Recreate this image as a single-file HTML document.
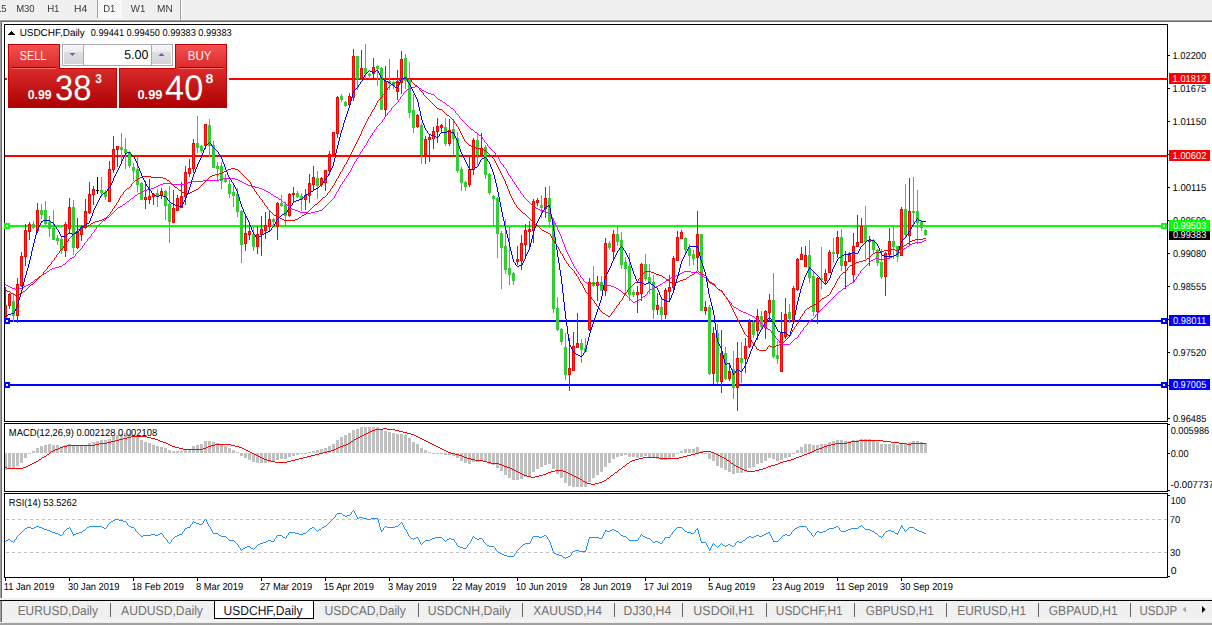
<!DOCTYPE html>
<html><head><meta charset="utf-8"><title>USDCHF,Daily</title>
<style>html,body{margin:0;padding:0;width:1212px;height:625px;overflow:hidden;background:#f0f0f0}
svg text{font-family:'Liberation Sans', sans-serif}</style></head>
<body><svg width="1212" height="625" viewBox="0 0 1212 625" style="position:absolute;left:0;top:0;font-family:'Liberation Sans', sans-serif"><rect x="0" y="0" width="1212" height="625" fill="#f0f0f0" />
<rect x="0" y="19" width="1212" height="1" fill="#f7f7f7" />
<rect x="0" y="20" width="1212" height="1" fill="#a0a0a0" />
<rect x="0" y="21" width="1212" height="1" fill="#696969" />
<rect x="0" y="20" width="1" height="579" fill="#a0a0a0" />
<rect x="1" y="21" width="1" height="578" fill="#696969" />
<rect x="2" y="22" width="1210" height="576" fill="#ffffff" />
<defs><pattern id="chk" width="2" height="2" patternUnits="userSpaceOnUse"><rect width="2" height="2" fill="#f0f0f0"/><rect width="1" height="1" fill="#ffffff"/><rect x="1" y="1" width="1" height="1" fill="#ffffff"/></pattern></defs>
<rect x="97" y="0" width="1" height="18" fill="#a0a0a0" />
<rect x="98" y="0" width="24" height="18" fill="url(#chk)" />
<rect x="180" y="0" width="1" height="20" fill="#a0a0a0" />
<rect x="181" y="0" width="1" height="20" fill="#ffffff" />
<rect x="4" y="24" width="1164" height="1" fill="#000" />
<rect x="4" y="421" width="1164" height="1" fill="#000" />
<rect x="4" y="24" width="1" height="398" fill="#000" />
<rect x="1167" y="24" width="1" height="398" fill="#000" />
<rect x="4" y="423" width="1164" height="1" fill="#000" />
<rect x="4" y="491" width="1164" height="1" fill="#000" />
<rect x="4" y="423" width="1" height="69" fill="#000" />
<rect x="1167" y="423" width="1" height="69" fill="#000" />
<rect x="4" y="493" width="1164" height="1" fill="#000" />
<rect x="4" y="577" width="1164" height="1" fill="#000" />
<rect x="4" y="493" width="1" height="85" fill="#000" />
<rect x="1167" y="493" width="1" height="85" fill="#000" />
<clipPath id="cm"><rect x="5" y="25" width="1162" height="396"/></clipPath>
<g clip-path="url(#cm)" shape-rendering="crispEdges">
<rect x="5" y="78" width="1162" height="2" fill="#ff0000" />
<rect x="5" y="155" width="1162" height="2" fill="#ff0000" />
<rect x="5" y="225" width="1162" height="2" fill="#00ff00" />
<rect x="5" y="320" width="1162" height="2" fill="#0000ff" />
<rect x="5" y="384" width="1162" height="2" fill="#0000ff" />
<rect x="5" y="287" width="1" height="36" fill="#ff0000" />
<rect x="4" y="305" width="3" height="14" fill="#ff0000" />
<rect x="5" y="306" width="1" height="12" fill="#ff3c00" />
<rect x="9" y="293" width="1" height="16" fill="#ff0000" />
<rect x="8" y="294" width="3" height="12" fill="#ff0000" />
<rect x="9" y="295" width="1" height="10" fill="#ff3c00" />
<rect x="13" y="293" width="1" height="29" fill="#32cd32" />
<rect x="12" y="301" width="3" height="15" fill="#32cd32" />
<rect x="17" y="278" width="1" height="45" fill="#ff0000" />
<rect x="16" y="284" width="3" height="32" fill="#ff0000" />
<rect x="17" y="285" width="1" height="30" fill="#ff3c00" />
<rect x="21" y="252" width="1" height="35" fill="#ff0000" />
<rect x="20" y="256" width="3" height="30" fill="#ff0000" />
<rect x="21" y="257" width="1" height="28" fill="#ff3c00" />
<rect x="25" y="224" width="1" height="42" fill="#ff0000" />
<rect x="24" y="230" width="3" height="27" fill="#ff0000" />
<rect x="25" y="231" width="1" height="25" fill="#ff3c00" />
<rect x="29" y="222" width="1" height="18" fill="#ff0000" />
<rect x="28" y="224" width="3" height="8" fill="#ff0000" />
<rect x="29" y="225" width="1" height="6" fill="#ff3c00" />
<rect x="33" y="221" width="1" height="8" fill="#32cd32" />
<rect x="32" y="224" width="3" height="4" fill="#32cd32" />
<rect x="37" y="203" width="1" height="30" fill="#ff0000" />
<rect x="36" y="210" width="3" height="21" fill="#ff0000" />
<rect x="37" y="211" width="1" height="19" fill="#ff3c00" />
<rect x="41" y="204" width="1" height="15" fill="#32cd32" />
<rect x="40" y="210" width="3" height="5" fill="#32cd32" />
<rect x="45" y="201" width="1" height="24" fill="#32cd32" />
<rect x="44" y="210" width="3" height="14" fill="#32cd32" />
<rect x="49" y="216" width="1" height="21" fill="#32cd32" />
<rect x="48" y="222" width="3" height="7" fill="#32cd32" />
<rect x="53" y="210" width="1" height="30" fill="#32cd32" />
<rect x="52" y="228" width="3" height="12" fill="#32cd32" />
<rect x="57" y="235" width="1" height="10" fill="#32cd32" />
<rect x="56" y="238" width="3" height="3" fill="#32cd32" />
<rect x="61" y="237" width="1" height="17" fill="#32cd32" />
<rect x="60" y="239" width="3" height="12" fill="#32cd32" />
<rect x="65" y="222" width="1" height="35" fill="#ff0000" />
<rect x="64" y="224" width="3" height="27" fill="#ff0000" />
<rect x="65" y="225" width="1" height="25" fill="#ff3c00" />
<rect x="69" y="198" width="1" height="36" fill="#ff0000" />
<rect x="68" y="207" width="3" height="22" fill="#ff0000" />
<rect x="69" y="208" width="1" height="20" fill="#ff3c00" />
<rect x="73" y="200" width="1" height="55" fill="#32cd32" />
<rect x="72" y="207" width="3" height="41" fill="#32cd32" />
<rect x="77" y="218" width="1" height="31" fill="#ff0000" />
<rect x="76" y="232" width="3" height="16" fill="#ff0000" />
<rect x="77" y="233" width="1" height="14" fill="#ff3c00" />
<rect x="81" y="225" width="1" height="16" fill="#ff0000" />
<rect x="80" y="227" width="3" height="8" fill="#ff0000" />
<rect x="81" y="228" width="1" height="6" fill="#ff3c00" />
<rect x="85" y="199" width="1" height="30" fill="#ff0000" />
<rect x="84" y="211" width="3" height="17" fill="#ff0000" />
<rect x="85" y="212" width="1" height="15" fill="#ff3c00" />
<rect x="89" y="182" width="1" height="32" fill="#ff0000" />
<rect x="88" y="194" width="3" height="19" fill="#ff0000" />
<rect x="89" y="195" width="1" height="17" fill="#ff3c00" />
<rect x="93" y="186" width="1" height="19" fill="#ff0000" />
<rect x="92" y="189" width="3" height="6" fill="#ff0000" />
<rect x="93" y="190" width="1" height="4" fill="#ff3c00" />
<rect x="97" y="177" width="1" height="17" fill="#000000" />
<rect x="96" y="190" width="3" height="1" fill="#000000" />
<rect x="101" y="177" width="1" height="20" fill="#32cd32" />
<rect x="100" y="190" width="3" height="3" fill="#32cd32" />
<rect x="105" y="190" width="1" height="10" fill="#32cd32" />
<rect x="104" y="192" width="3" height="5" fill="#32cd32" />
<rect x="109" y="161" width="1" height="41" fill="#ff0000" />
<rect x="108" y="169" width="3" height="33" fill="#ff0000" />
<rect x="109" y="170" width="1" height="31" fill="#ff3c00" />
<rect x="113" y="136" width="1" height="37" fill="#ff0000" />
<rect x="112" y="149" width="3" height="21" fill="#ff0000" />
<rect x="113" y="150" width="1" height="19" fill="#ff3c00" />
<rect x="117" y="146" width="1" height="21" fill="#ff0000" />
<rect x="116" y="146" width="3" height="4" fill="#ff0000" />
<rect x="117" y="147" width="1" height="2" fill="#ff3c00" />
<rect x="121" y="133" width="1" height="31" fill="#32cd32" />
<rect x="120" y="147" width="3" height="3" fill="#32cd32" />
<rect x="125" y="138" width="1" height="31" fill="#32cd32" />
<rect x="124" y="149" width="3" height="4" fill="#32cd32" />
<rect x="129" y="151" width="1" height="17" fill="#32cd32" />
<rect x="128" y="152" width="3" height="14" fill="#32cd32" />
<rect x="133" y="163" width="1" height="18" fill="#32cd32" />
<rect x="132" y="167" width="3" height="4" fill="#32cd32" />
<rect x="137" y="156" width="1" height="36" fill="#32cd32" />
<rect x="136" y="169" width="3" height="16" fill="#32cd32" />
<rect x="141" y="182" width="1" height="18" fill="#32cd32" />
<rect x="140" y="183" width="3" height="17" fill="#32cd32" />
<rect x="145" y="181" width="1" height="28" fill="#ff0000" />
<rect x="144" y="197" width="3" height="3" fill="#ff0000" />
<rect x="145" y="198" width="1" height="1" fill="#ff3c00" />
<rect x="149" y="179" width="1" height="25" fill="#ff0000" />
<rect x="148" y="196" width="3" height="4" fill="#ff0000" />
<rect x="149" y="197" width="1" height="2" fill="#ff3c00" />
<rect x="153" y="193" width="1" height="12" fill="#ff0000" />
<rect x="152" y="194" width="3" height="3" fill="#ff0000" />
<rect x="153" y="195" width="1" height="1" fill="#ff3c00" />
<rect x="157" y="189" width="1" height="18" fill="#32cd32" />
<rect x="156" y="193" width="3" height="4" fill="#32cd32" />
<rect x="161" y="188" width="1" height="11" fill="#ff0000" />
<rect x="160" y="191" width="3" height="5" fill="#ff0000" />
<rect x="161" y="192" width="1" height="3" fill="#ff3c00" />
<rect x="165" y="190" width="1" height="30" fill="#32cd32" />
<rect x="164" y="191" width="3" height="15" fill="#32cd32" />
<rect x="169" y="186" width="1" height="57" fill="#32cd32" />
<rect x="168" y="204" width="3" height="18" fill="#32cd32" />
<rect x="173" y="190" width="1" height="33" fill="#ff0000" />
<rect x="172" y="208" width="3" height="15" fill="#ff0000" />
<rect x="173" y="209" width="1" height="13" fill="#ff3c00" />
<rect x="177" y="195" width="1" height="16" fill="#ff0000" />
<rect x="176" y="198" width="3" height="13" fill="#ff0000" />
<rect x="177" y="199" width="1" height="11" fill="#ff3c00" />
<rect x="181" y="182" width="1" height="26" fill="#ff0000" />
<rect x="180" y="196" width="3" height="12" fill="#ff0000" />
<rect x="181" y="197" width="1" height="10" fill="#ff3c00" />
<rect x="185" y="166" width="1" height="39" fill="#ff0000" />
<rect x="184" y="172" width="3" height="25" fill="#ff0000" />
<rect x="185" y="173" width="1" height="23" fill="#ff3c00" />
<rect x="189" y="159" width="1" height="18" fill="#ff0000" />
<rect x="188" y="168" width="3" height="6" fill="#ff0000" />
<rect x="189" y="169" width="1" height="4" fill="#ff3c00" />
<rect x="193" y="139" width="1" height="34" fill="#ff0000" />
<rect x="192" y="143" width="3" height="26" fill="#ff0000" />
<rect x="193" y="144" width="1" height="24" fill="#ff3c00" />
<rect x="197" y="116" width="1" height="37" fill="#32cd32" />
<rect x="196" y="143" width="3" height="5" fill="#32cd32" />
<rect x="201" y="145" width="1" height="8" fill="#32cd32" />
<rect x="200" y="146" width="3" height="5" fill="#32cd32" />
<rect x="205" y="124" width="1" height="25" fill="#ff0000" />
<rect x="204" y="124" width="3" height="22" fill="#ff0000" />
<rect x="205" y="125" width="1" height="20" fill="#ff3c00" />
<rect x="209" y="119" width="1" height="38" fill="#32cd32" />
<rect x="208" y="125" width="3" height="21" fill="#32cd32" />
<rect x="213" y="141" width="1" height="27" fill="#32cd32" />
<rect x="212" y="145" width="3" height="23" fill="#32cd32" />
<rect x="217" y="162" width="1" height="18" fill="#32cd32" />
<rect x="216" y="166" width="3" height="3" fill="#32cd32" />
<rect x="221" y="162" width="1" height="27" fill="#32cd32" />
<rect x="220" y="166" width="3" height="15" fill="#32cd32" />
<rect x="225" y="174" width="1" height="9" fill="#32cd32" />
<rect x="224" y="179" width="3" height="3" fill="#32cd32" />
<rect x="229" y="180" width="1" height="18" fill="#32cd32" />
<rect x="228" y="184" width="3" height="10" fill="#32cd32" />
<rect x="233" y="184" width="1" height="23" fill="#32cd32" />
<rect x="232" y="192" width="3" height="4" fill="#32cd32" />
<rect x="237" y="188" width="1" height="29" fill="#32cd32" />
<rect x="236" y="194" width="3" height="18" fill="#32cd32" />
<rect x="241" y="210" width="1" height="53" fill="#32cd32" />
<rect x="240" y="211" width="3" height="34" fill="#32cd32" />
<rect x="245" y="214" width="1" height="37" fill="#ff0000" />
<rect x="244" y="233" width="3" height="11" fill="#ff0000" />
<rect x="245" y="234" width="1" height="9" fill="#ff3c00" />
<rect x="249" y="225" width="1" height="15" fill="#ff0000" />
<rect x="248" y="231" width="3" height="4" fill="#ff0000" />
<rect x="249" y="232" width="1" height="2" fill="#ff3c00" />
<rect x="253" y="227" width="1" height="24" fill="#32cd32" />
<rect x="252" y="234" width="3" height="13" fill="#32cd32" />
<rect x="257" y="226" width="1" height="28" fill="#ff0000" />
<rect x="256" y="234" width="3" height="13" fill="#ff0000" />
<rect x="257" y="235" width="1" height="11" fill="#ff3c00" />
<rect x="261" y="216" width="1" height="40" fill="#ff0000" />
<rect x="260" y="229" width="3" height="6" fill="#ff0000" />
<rect x="261" y="230" width="1" height="4" fill="#ff3c00" />
<rect x="265" y="212" width="1" height="27" fill="#ff0000" />
<rect x="264" y="225" width="3" height="6" fill="#ff0000" />
<rect x="265" y="226" width="1" height="4" fill="#ff3c00" />
<rect x="269" y="210" width="1" height="21" fill="#ff0000" />
<rect x="268" y="219" width="3" height="8" fill="#ff0000" />
<rect x="269" y="220" width="1" height="6" fill="#ff3c00" />
<rect x="273" y="218" width="1" height="8" fill="#32cd32" />
<rect x="272" y="219" width="3" height="3" fill="#32cd32" />
<rect x="277" y="202" width="1" height="38" fill="#ff0000" />
<rect x="276" y="203" width="3" height="24" fill="#ff0000" />
<rect x="277" y="204" width="1" height="22" fill="#ff3c00" />
<rect x="281" y="195" width="1" height="12" fill="#32cd32" />
<rect x="280" y="203" width="3" height="3" fill="#32cd32" />
<rect x="285" y="202" width="1" height="24" fill="#32cd32" />
<rect x="284" y="204" width="3" height="12" fill="#32cd32" />
<rect x="289" y="193" width="1" height="24" fill="#ff0000" />
<rect x="288" y="194" width="3" height="22" fill="#ff0000" />
<rect x="289" y="195" width="1" height="20" fill="#ff3c00" />
<rect x="293" y="187" width="1" height="16" fill="#ff0000" />
<rect x="292" y="193" width="3" height="2" fill="#ff0000" />
<rect x="297" y="191" width="1" height="7" fill="#32cd32" />
<rect x="296" y="193" width="3" height="4" fill="#32cd32" />
<rect x="301" y="193" width="1" height="18" fill="#32cd32" />
<rect x="300" y="196" width="3" height="4" fill="#32cd32" />
<rect x="305" y="189" width="1" height="21" fill="#ff0000" />
<rect x="304" y="195" width="3" height="5" fill="#ff0000" />
<rect x="305" y="196" width="1" height="3" fill="#ff3c00" />
<rect x="309" y="174" width="1" height="29" fill="#ff0000" />
<rect x="308" y="183" width="3" height="13" fill="#ff0000" />
<rect x="309" y="184" width="1" height="11" fill="#ff3c00" />
<rect x="313" y="166" width="1" height="25" fill="#ff0000" />
<rect x="312" y="177" width="3" height="8" fill="#ff0000" />
<rect x="313" y="178" width="1" height="6" fill="#ff3c00" />
<rect x="317" y="171" width="1" height="28" fill="#32cd32" />
<rect x="316" y="178" width="3" height="8" fill="#32cd32" />
<rect x="321" y="177" width="1" height="10" fill="#ff0000" />
<rect x="320" y="178" width="3" height="7" fill="#ff0000" />
<rect x="321" y="179" width="1" height="5" fill="#ff3c00" />
<rect x="325" y="170" width="1" height="21" fill="#ff0000" />
<rect x="324" y="170" width="3" height="13" fill="#ff0000" />
<rect x="325" y="171" width="1" height="11" fill="#ff3c00" />
<rect x="329" y="151" width="1" height="24" fill="#ff0000" />
<rect x="328" y="154" width="3" height="17" fill="#ff0000" />
<rect x="329" y="155" width="1" height="15" fill="#ff3c00" />
<rect x="333" y="132" width="1" height="25" fill="#ff0000" />
<rect x="332" y="132" width="3" height="23" fill="#ff0000" />
<rect x="333" y="133" width="1" height="21" fill="#ff3c00" />
<rect x="337" y="96" width="1" height="42" fill="#ff0000" />
<rect x="336" y="97" width="3" height="37" fill="#ff0000" />
<rect x="337" y="98" width="1" height="35" fill="#ff3c00" />
<rect x="341" y="94" width="1" height="8" fill="#32cd32" />
<rect x="340" y="96" width="3" height="4" fill="#32cd32" />
<rect x="345" y="101" width="1" height="6" fill="#32cd32" />
<rect x="344" y="102" width="3" height="4" fill="#32cd32" />
<rect x="349" y="93" width="1" height="12" fill="#ff0000" />
<rect x="348" y="96" width="3" height="9" fill="#ff0000" />
<rect x="349" y="97" width="1" height="7" fill="#ff3c00" />
<rect x="353" y="49" width="1" height="52" fill="#ff0000" />
<rect x="352" y="56" width="3" height="42" fill="#ff0000" />
<rect x="353" y="57" width="1" height="40" fill="#ff3c00" />
<rect x="357" y="56" width="1" height="34" fill="#32cd32" />
<rect x="356" y="56" width="3" height="23" fill="#32cd32" />
<rect x="361" y="50" width="1" height="30" fill="#ff0000" />
<rect x="360" y="68" width="3" height="11" fill="#ff0000" />
<rect x="361" y="69" width="1" height="9" fill="#ff3c00" />
<rect x="365" y="44" width="1" height="35" fill="#32cd32" />
<rect x="364" y="68" width="3" height="6" fill="#32cd32" />
<rect x="369" y="73" width="1" height="6" fill="#32cd32" />
<rect x="368" y="74" width="3" height="2" fill="#32cd32" />
<rect x="373" y="58" width="1" height="21" fill="#ff0000" />
<rect x="372" y="67" width="3" height="7" fill="#ff0000" />
<rect x="373" y="68" width="1" height="5" fill="#ff3c00" />
<rect x="377" y="65" width="1" height="21" fill="#32cd32" />
<rect x="376" y="66" width="3" height="3" fill="#32cd32" />
<rect x="381" y="67" width="1" height="43" fill="#32cd32" />
<rect x="380" y="68" width="3" height="42" fill="#32cd32" />
<rect x="385" y="66" width="1" height="51" fill="#ff0000" />
<rect x="384" y="81" width="3" height="29" fill="#ff0000" />
<rect x="385" y="82" width="1" height="27" fill="#ff3c00" />
<rect x="389" y="59" width="1" height="31" fill="#32cd32" />
<rect x="388" y="81" width="3" height="3" fill="#32cd32" />
<rect x="393" y="81" width="1" height="8" fill="#32cd32" />
<rect x="392" y="82" width="3" height="4" fill="#32cd32" />
<rect x="397" y="70" width="1" height="30" fill="#ff0000" />
<rect x="396" y="81" width="3" height="11" fill="#ff0000" />
<rect x="397" y="82" width="1" height="9" fill="#ff3c00" />
<rect x="401" y="51" width="1" height="43" fill="#ff0000" />
<rect x="400" y="59" width="3" height="24" fill="#ff0000" />
<rect x="401" y="60" width="1" height="22" fill="#ff3c00" />
<rect x="405" y="54" width="1" height="35" fill="#32cd32" />
<rect x="404" y="58" width="3" height="23" fill="#32cd32" />
<rect x="409" y="62" width="1" height="56" fill="#32cd32" />
<rect x="408" y="80" width="3" height="33" fill="#32cd32" />
<rect x="413" y="94" width="1" height="39" fill="#32cd32" />
<rect x="412" y="110" width="3" height="18" fill="#32cd32" />
<rect x="417" y="114" width="1" height="14" fill="#ff0000" />
<rect x="416" y="115" width="3" height="12" fill="#ff0000" />
<rect x="417" y="116" width="1" height="10" fill="#ff3c00" />
<rect x="421" y="123" width="1" height="41" fill="#32cd32" />
<rect x="420" y="125" width="3" height="30" fill="#32cd32" />
<rect x="425" y="136" width="1" height="28" fill="#ff0000" />
<rect x="424" y="139" width="3" height="16" fill="#ff0000" />
<rect x="425" y="140" width="1" height="14" fill="#ff3c00" />
<rect x="429" y="134" width="1" height="28" fill="#ff0000" />
<rect x="428" y="137" width="3" height="3" fill="#ff0000" />
<rect x="429" y="138" width="1" height="1" fill="#ff3c00" />
<rect x="433" y="127" width="1" height="22" fill="#ff0000" />
<rect x="432" y="131" width="3" height="8" fill="#ff0000" />
<rect x="433" y="132" width="1" height="6" fill="#ff3c00" />
<rect x="437" y="118" width="1" height="25" fill="#ff0000" />
<rect x="436" y="126" width="3" height="6" fill="#ff0000" />
<rect x="437" y="127" width="1" height="4" fill="#ff3c00" />
<rect x="441" y="124" width="1" height="9" fill="#ff0000" />
<rect x="440" y="125" width="3" height="3" fill="#ff0000" />
<rect x="441" y="126" width="1" height="1" fill="#ff3c00" />
<rect x="445" y="118" width="1" height="28" fill="#32cd32" />
<rect x="444" y="127" width="3" height="17" fill="#32cd32" />
<rect x="449" y="119" width="1" height="27" fill="#ff0000" />
<rect x="448" y="130" width="3" height="14" fill="#ff0000" />
<rect x="449" y="131" width="1" height="12" fill="#ff3c00" />
<rect x="453" y="119" width="1" height="36" fill="#32cd32" />
<rect x="452" y="129" width="3" height="10" fill="#32cd32" />
<rect x="457" y="132" width="1" height="41" fill="#32cd32" />
<rect x="456" y="138" width="3" height="33" fill="#32cd32" />
<rect x="461" y="167" width="1" height="24" fill="#32cd32" />
<rect x="460" y="169" width="3" height="14" fill="#32cd32" />
<rect x="465" y="181" width="1" height="10" fill="#32cd32" />
<rect x="464" y="182" width="3" height="5" fill="#32cd32" />
<rect x="469" y="157" width="1" height="30" fill="#ff0000" />
<rect x="468" y="169" width="3" height="16" fill="#ff0000" />
<rect x="469" y="170" width="1" height="14" fill="#ff3c00" />
<rect x="473" y="138" width="1" height="37" fill="#ff0000" />
<rect x="472" y="140" width="3" height="30" fill="#ff0000" />
<rect x="473" y="141" width="1" height="28" fill="#ff3c00" />
<rect x="477" y="134" width="1" height="31" fill="#32cd32" />
<rect x="476" y="140" width="3" height="15" fill="#32cd32" />
<rect x="481" y="133" width="1" height="23" fill="#ff0000" />
<rect x="480" y="148" width="3" height="7" fill="#ff0000" />
<rect x="481" y="149" width="1" height="5" fill="#ff3c00" />
<rect x="485" y="145" width="1" height="34" fill="#32cd32" />
<rect x="484" y="147" width="3" height="28" fill="#32cd32" />
<rect x="489" y="173" width="1" height="22" fill="#32cd32" />
<rect x="488" y="174" width="3" height="19" fill="#32cd32" />
<rect x="493" y="195" width="1" height="31" fill="#32cd32" />
<rect x="492" y="196" width="3" height="3" fill="#32cd32" />
<rect x="497" y="197" width="1" height="61" fill="#32cd32" />
<rect x="496" y="198" width="3" height="36" fill="#32cd32" />
<rect x="501" y="231" width="1" height="58" fill="#32cd32" />
<rect x="500" y="233" width="3" height="15" fill="#32cd32" />
<rect x="505" y="219" width="1" height="55" fill="#32cd32" />
<rect x="504" y="246" width="3" height="24" fill="#32cd32" />
<rect x="509" y="226" width="1" height="59" fill="#32cd32" />
<rect x="508" y="268" width="3" height="7" fill="#32cd32" />
<rect x="513" y="272" width="1" height="13" fill="#32cd32" />
<rect x="512" y="273" width="3" height="8" fill="#32cd32" />
<rect x="517" y="246" width="1" height="19" fill="#ff0000" />
<rect x="516" y="259" width="3" height="3" fill="#ff0000" />
<rect x="517" y="260" width="1" height="1" fill="#ff3c00" />
<rect x="521" y="235" width="1" height="35" fill="#ff0000" />
<rect x="520" y="243" width="3" height="18" fill="#ff0000" />
<rect x="521" y="244" width="1" height="16" fill="#ff3c00" />
<rect x="525" y="224" width="1" height="32" fill="#ff0000" />
<rect x="524" y="230" width="3" height="15" fill="#ff0000" />
<rect x="525" y="231" width="1" height="13" fill="#ff3c00" />
<rect x="529" y="221" width="1" height="26" fill="#ff0000" />
<rect x="528" y="229" width="3" height="3" fill="#ff0000" />
<rect x="529" y="230" width="1" height="1" fill="#ff3c00" />
<rect x="533" y="199" width="1" height="44" fill="#ff0000" />
<rect x="532" y="201" width="3" height="30" fill="#ff0000" />
<rect x="533" y="202" width="1" height="28" fill="#ff3c00" />
<rect x="537" y="198" width="1" height="8" fill="#ff0000" />
<rect x="536" y="200" width="3" height="3" fill="#ff0000" />
<rect x="537" y="201" width="1" height="1" fill="#ff3c00" />
<rect x="541" y="195" width="1" height="23" fill="#32cd32" />
<rect x="540" y="205" width="3" height="3" fill="#32cd32" />
<rect x="545" y="187" width="1" height="31" fill="#ff0000" />
<rect x="544" y="198" width="3" height="11" fill="#ff0000" />
<rect x="545" y="199" width="1" height="9" fill="#ff3c00" />
<rect x="549" y="186" width="1" height="42" fill="#32cd32" />
<rect x="548" y="198" width="3" height="24" fill="#32cd32" />
<rect x="553" y="218" width="1" height="95" fill="#32cd32" />
<rect x="552" y="221" width="3" height="88" fill="#32cd32" />
<rect x="557" y="297" width="1" height="34" fill="#32cd32" />
<rect x="556" y="308" width="3" height="22" fill="#32cd32" />
<rect x="561" y="328" width="1" height="17" fill="#32cd32" />
<rect x="560" y="329" width="3" height="13" fill="#32cd32" />
<rect x="565" y="333" width="1" height="47" fill="#32cd32" />
<rect x="564" y="347" width="3" height="28" fill="#32cd32" />
<rect x="569" y="338" width="1" height="53" fill="#ff0000" />
<rect x="568" y="368" width="3" height="7" fill="#ff0000" />
<rect x="569" y="369" width="1" height="5" fill="#ff3c00" />
<rect x="573" y="332" width="1" height="39" fill="#ff0000" />
<rect x="572" y="346" width="3" height="25" fill="#ff0000" />
<rect x="573" y="347" width="1" height="23" fill="#ff3c00" />
<rect x="577" y="313" width="1" height="35" fill="#ff0000" />
<rect x="576" y="343" width="3" height="5" fill="#ff0000" />
<rect x="577" y="344" width="1" height="3" fill="#ff3c00" />
<rect x="581" y="339" width="1" height="24" fill="#32cd32" />
<rect x="580" y="343" width="3" height="7" fill="#32cd32" />
<rect x="585" y="338" width="1" height="14" fill="#32cd32" />
<rect x="584" y="348" width="3" height="4" fill="#32cd32" />
<rect x="589" y="278" width="1" height="53" fill="#ff0000" />
<rect x="588" y="282" width="3" height="48" fill="#ff0000" />
<rect x="589" y="283" width="1" height="46" fill="#ff3c00" />
<rect x="593" y="266" width="1" height="21" fill="#32cd32" />
<rect x="592" y="282" width="3" height="4" fill="#32cd32" />
<rect x="597" y="276" width="1" height="25" fill="#ff0000" />
<rect x="596" y="282" width="3" height="4" fill="#ff0000" />
<rect x="597" y="283" width="1" height="2" fill="#ff3c00" />
<rect x="601" y="276" width="1" height="15" fill="#32cd32" />
<rect x="600" y="282" width="3" height="9" fill="#32cd32" />
<rect x="605" y="238" width="1" height="58" fill="#ff0000" />
<rect x="604" y="243" width="3" height="48" fill="#ff0000" />
<rect x="605" y="244" width="1" height="46" fill="#ff3c00" />
<rect x="609" y="241" width="1" height="9" fill="#32cd32" />
<rect x="608" y="243" width="3" height="5" fill="#32cd32" />
<rect x="613" y="230" width="1" height="30" fill="#ff0000" />
<rect x="612" y="234" width="3" height="18" fill="#ff0000" />
<rect x="613" y="235" width="1" height="16" fill="#ff3c00" />
<rect x="617" y="226" width="1" height="20" fill="#32cd32" />
<rect x="616" y="234" width="3" height="8" fill="#32cd32" />
<rect x="621" y="232" width="1" height="37" fill="#32cd32" />
<rect x="620" y="240" width="3" height="25" fill="#32cd32" />
<rect x="625" y="257" width="1" height="37" fill="#32cd32" />
<rect x="624" y="262" width="3" height="7" fill="#32cd32" />
<rect x="629" y="253" width="1" height="48" fill="#32cd32" />
<rect x="628" y="266" width="3" height="29" fill="#32cd32" />
<rect x="633" y="290" width="1" height="7" fill="#32cd32" />
<rect x="632" y="292" width="3" height="3" fill="#32cd32" />
<rect x="637" y="286" width="1" height="27" fill="#ff0000" />
<rect x="636" y="292" width="3" height="3" fill="#ff0000" />
<rect x="637" y="293" width="1" height="1" fill="#ff3c00" />
<rect x="641" y="263" width="1" height="38" fill="#ff0000" />
<rect x="640" y="264" width="3" height="30" fill="#ff0000" />
<rect x="641" y="265" width="1" height="28" fill="#ff3c00" />
<rect x="645" y="254" width="1" height="27" fill="#32cd32" />
<rect x="644" y="264" width="3" height="15" fill="#32cd32" />
<rect x="649" y="264" width="1" height="30" fill="#32cd32" />
<rect x="648" y="277" width="3" height="7" fill="#32cd32" />
<rect x="653" y="275" width="1" height="44" fill="#32cd32" />
<rect x="652" y="282" width="3" height="28" fill="#32cd32" />
<rect x="657" y="293" width="1" height="22" fill="#ff0000" />
<rect x="656" y="305" width="3" height="5" fill="#ff0000" />
<rect x="657" y="306" width="1" height="3" fill="#ff3c00" />
<rect x="661" y="298" width="1" height="22" fill="#32cd32" />
<rect x="660" y="307" width="3" height="8" fill="#32cd32" />
<rect x="665" y="288" width="1" height="31" fill="#ff0000" />
<rect x="664" y="290" width="3" height="25" fill="#ff0000" />
<rect x="665" y="291" width="1" height="23" fill="#ff3c00" />
<rect x="669" y="275" width="1" height="26" fill="#ff0000" />
<rect x="668" y="287" width="3" height="5" fill="#ff0000" />
<rect x="669" y="288" width="1" height="3" fill="#ff3c00" />
<rect x="673" y="256" width="1" height="34" fill="#ff0000" />
<rect x="672" y="258" width="3" height="30" fill="#ff0000" />
<rect x="673" y="259" width="1" height="28" fill="#ff3c00" />
<rect x="677" y="231" width="1" height="30" fill="#ff0000" />
<rect x="676" y="237" width="3" height="24" fill="#ff0000" />
<rect x="677" y="238" width="1" height="22" fill="#ff3c00" />
<rect x="681" y="230" width="1" height="9" fill="#ff0000" />
<rect x="680" y="232" width="3" height="7" fill="#ff0000" />
<rect x="681" y="233" width="1" height="5" fill="#ff3c00" />
<rect x="685" y="237" width="1" height="17" fill="#32cd32" />
<rect x="684" y="238" width="3" height="12" fill="#32cd32" />
<rect x="689" y="244" width="1" height="22" fill="#32cd32" />
<rect x="688" y="248" width="3" height="8" fill="#32cd32" />
<rect x="693" y="250" width="1" height="15" fill="#32cd32" />
<rect x="692" y="254" width="3" height="5" fill="#32cd32" />
<rect x="697" y="211" width="1" height="59" fill="#ff0000" />
<rect x="696" y="234" width="3" height="24" fill="#ff0000" />
<rect x="697" y="235" width="1" height="22" fill="#ff3c00" />
<rect x="701" y="234" width="1" height="77" fill="#32cd32" />
<rect x="700" y="234" width="3" height="77" fill="#32cd32" />
<rect x="705" y="301" width="1" height="14" fill="#ff0000" />
<rect x="704" y="307" width="3" height="4" fill="#ff0000" />
<rect x="705" y="308" width="1" height="2" fill="#ff3c00" />
<rect x="709" y="305" width="1" height="70" fill="#32cd32" />
<rect x="708" y="307" width="3" height="67" fill="#32cd32" />
<rect x="713" y="327" width="1" height="57" fill="#ff0000" />
<rect x="712" y="333" width="3" height="41" fill="#ff0000" />
<rect x="713" y="334" width="1" height="39" fill="#ff3c00" />
<rect x="717" y="324" width="1" height="60" fill="#32cd32" />
<rect x="716" y="333" width="3" height="49" fill="#32cd32" />
<rect x="721" y="330" width="1" height="63" fill="#ff0000" />
<rect x="720" y="353" width="3" height="29" fill="#ff0000" />
<rect x="721" y="354" width="1" height="27" fill="#ff3c00" />
<rect x="725" y="347" width="1" height="33" fill="#32cd32" />
<rect x="724" y="353" width="3" height="26" fill="#32cd32" />
<rect x="729" y="363" width="1" height="18" fill="#ff0000" />
<rect x="728" y="371" width="3" height="8" fill="#ff0000" />
<rect x="729" y="372" width="1" height="6" fill="#ff3c00" />
<rect x="733" y="351" width="1" height="48" fill="#32cd32" />
<rect x="732" y="369" width="3" height="19" fill="#32cd32" />
<rect x="737" y="342" width="1" height="69" fill="#ff0000" />
<rect x="736" y="358" width="3" height="30" fill="#ff0000" />
<rect x="737" y="359" width="1" height="28" fill="#ff3c00" />
<rect x="741" y="342" width="1" height="41" fill="#32cd32" />
<rect x="740" y="358" width="3" height="5" fill="#32cd32" />
<rect x="745" y="338" width="1" height="35" fill="#ff0000" />
<rect x="744" y="346" width="3" height="13" fill="#ff0000" />
<rect x="745" y="347" width="1" height="11" fill="#ff3c00" />
<rect x="749" y="319" width="1" height="29" fill="#ff0000" />
<rect x="748" y="322" width="3" height="25" fill="#ff0000" />
<rect x="749" y="323" width="1" height="23" fill="#ff3c00" />
<rect x="753" y="320" width="1" height="18" fill="#32cd32" />
<rect x="752" y="322" width="3" height="13" fill="#32cd32" />
<rect x="757" y="309" width="1" height="31" fill="#ff0000" />
<rect x="756" y="316" width="3" height="15" fill="#ff0000" />
<rect x="757" y="317" width="1" height="13" fill="#ff3c00" />
<rect x="761" y="311" width="1" height="18" fill="#32cd32" />
<rect x="760" y="316" width="3" height="11" fill="#32cd32" />
<rect x="765" y="310" width="1" height="29" fill="#ff0000" />
<rect x="764" y="311" width="3" height="17" fill="#ff0000" />
<rect x="765" y="312" width="1" height="15" fill="#ff3c00" />
<rect x="769" y="294" width="1" height="27" fill="#ff0000" />
<rect x="768" y="300" width="3" height="13" fill="#ff0000" />
<rect x="769" y="301" width="1" height="11" fill="#ff3c00" />
<rect x="773" y="273" width="1" height="85" fill="#32cd32" />
<rect x="772" y="300" width="3" height="57" fill="#32cd32" />
<rect x="777" y="341" width="1" height="23" fill="#32cd32" />
<rect x="776" y="355" width="3" height="4" fill="#32cd32" />
<rect x="781" y="312" width="1" height="60" fill="#ff0000" />
<rect x="780" y="333" width="3" height="39" fill="#ff0000" />
<rect x="781" y="334" width="1" height="37" fill="#ff3c00" />
<rect x="785" y="298" width="1" height="41" fill="#ff0000" />
<rect x="784" y="314" width="3" height="23" fill="#ff0000" />
<rect x="785" y="315" width="1" height="21" fill="#ff3c00" />
<rect x="789" y="304" width="1" height="19" fill="#32cd32" />
<rect x="788" y="312" width="3" height="7" fill="#32cd32" />
<rect x="793" y="286" width="1" height="38" fill="#ff0000" />
<rect x="792" y="288" width="3" height="34" fill="#ff0000" />
<rect x="793" y="289" width="1" height="32" fill="#ff3c00" />
<rect x="797" y="258" width="1" height="33" fill="#ff0000" />
<rect x="796" y="259" width="3" height="31" fill="#ff0000" />
<rect x="797" y="260" width="1" height="29" fill="#ff3c00" />
<rect x="801" y="247" width="1" height="13" fill="#ff0000" />
<rect x="800" y="254" width="3" height="6" fill="#ff0000" />
<rect x="801" y="255" width="1" height="4" fill="#ff3c00" />
<rect x="805" y="246" width="1" height="21" fill="#ff0000" />
<rect x="804" y="255" width="3" height="12" fill="#ff0000" />
<rect x="805" y="256" width="1" height="10" fill="#ff3c00" />
<rect x="809" y="240" width="1" height="43" fill="#32cd32" />
<rect x="808" y="255" width="3" height="23" fill="#32cd32" />
<rect x="813" y="272" width="1" height="44" fill="#32cd32" />
<rect x="812" y="276" width="3" height="36" fill="#32cd32" />
<rect x="817" y="277" width="1" height="47" fill="#ff0000" />
<rect x="816" y="278" width="3" height="34" fill="#ff0000" />
<rect x="817" y="279" width="1" height="32" fill="#ff3c00" />
<rect x="821" y="247" width="1" height="42" fill="#32cd32" />
<rect x="820" y="278" width="3" height="2" fill="#32cd32" />
<rect x="825" y="269" width="1" height="16" fill="#ff0000" />
<rect x="824" y="273" width="3" height="8" fill="#ff0000" />
<rect x="825" y="274" width="1" height="6" fill="#ff3c00" />
<rect x="829" y="250" width="1" height="23" fill="#ff0000" />
<rect x="828" y="252" width="3" height="21" fill="#ff0000" />
<rect x="829" y="253" width="1" height="19" fill="#ff3c00" />
<rect x="833" y="238" width="1" height="25" fill="#32cd32" />
<rect x="832" y="252" width="3" height="2" fill="#32cd32" />
<rect x="837" y="231" width="1" height="27" fill="#ff0000" />
<rect x="836" y="237" width="3" height="17" fill="#ff0000" />
<rect x="837" y="238" width="1" height="15" fill="#ff3c00" />
<rect x="841" y="229" width="1" height="42" fill="#32cd32" />
<rect x="840" y="237" width="3" height="29" fill="#32cd32" />
<rect x="845" y="251" width="1" height="38" fill="#ff0000" />
<rect x="844" y="261" width="3" height="5" fill="#ff0000" />
<rect x="845" y="262" width="1" height="3" fill="#ff3c00" />
<rect x="849" y="252" width="1" height="10" fill="#ff0000" />
<rect x="848" y="253" width="3" height="9" fill="#ff0000" />
<rect x="849" y="254" width="1" height="7" fill="#ff3c00" />
<rect x="853" y="233" width="1" height="49" fill="#ff0000" />
<rect x="852" y="246" width="3" height="29" fill="#ff0000" />
<rect x="853" y="247" width="1" height="27" fill="#ff3c00" />
<rect x="857" y="215" width="1" height="32" fill="#ff0000" />
<rect x="856" y="242" width="3" height="5" fill="#ff0000" />
<rect x="857" y="243" width="1" height="3" fill="#ff3c00" />
<rect x="861" y="218" width="1" height="25" fill="#ff0000" />
<rect x="860" y="226" width="3" height="17" fill="#ff0000" />
<rect x="861" y="227" width="1" height="15" fill="#ff3c00" />
<rect x="865" y="206" width="1" height="53" fill="#32cd32" />
<rect x="864" y="226" width="3" height="16" fill="#32cd32" />
<rect x="869" y="236" width="1" height="30" fill="#ff0000" />
<rect x="868" y="240" width="3" height="2" fill="#ff0000" />
<rect x="873" y="239" width="1" height="15" fill="#32cd32" />
<rect x="872" y="240" width="3" height="10" fill="#32cd32" />
<rect x="877" y="249" width="1" height="17" fill="#32cd32" />
<rect x="876" y="250" width="3" height="13" fill="#32cd32" />
<rect x="881" y="249" width="1" height="30" fill="#32cd32" />
<rect x="880" y="262" width="3" height="15" fill="#32cd32" />
<rect x="885" y="252" width="1" height="44" fill="#ff0000" />
<rect x="884" y="253" width="3" height="24" fill="#ff0000" />
<rect x="885" y="254" width="1" height="22" fill="#ff3c00" />
<rect x="889" y="228" width="1" height="30" fill="#ff0000" />
<rect x="888" y="241" width="3" height="14" fill="#ff0000" />
<rect x="889" y="242" width="1" height="12" fill="#ff3c00" />
<rect x="893" y="226" width="1" height="33" fill="#32cd32" />
<rect x="892" y="241" width="3" height="6" fill="#32cd32" />
<rect x="897" y="246" width="1" height="16" fill="#32cd32" />
<rect x="896" y="246" width="3" height="11" fill="#32cd32" />
<rect x="901" y="207" width="1" height="49" fill="#ff0000" />
<rect x="900" y="209" width="3" height="47" fill="#ff0000" />
<rect x="901" y="210" width="1" height="45" fill="#ff3c00" />
<rect x="905" y="184" width="1" height="53" fill="#32cd32" />
<rect x="904" y="209" width="3" height="26" fill="#32cd32" />
<rect x="909" y="178" width="1" height="68" fill="#ff0000" />
<rect x="908" y="211" width="3" height="25" fill="#ff0000" />
<rect x="909" y="212" width="1" height="23" fill="#ff3c00" />
<rect x="913" y="177" width="1" height="50" fill="#32cd32" />
<rect x="912" y="211" width="3" height="2" fill="#32cd32" />
<rect x="917" y="190" width="1" height="54" fill="#32cd32" />
<rect x="916" y="211" width="3" height="12" fill="#32cd32" />
<rect x="921" y="220" width="1" height="11" fill="#32cd32" />
<rect x="920" y="222" width="3" height="6" fill="#32cd32" />
<rect x="925" y="229" width="1" height="7" fill="#32cd32" />
<rect x="924" y="230" width="3" height="5" fill="#32cd32" />
<path d="M5 284h1v1h-1zM6 285h1v1h-1zM7 285h1v1h-1zM8 286h1v1h-1zM9 286h1v1h-1zM10 287h1v1h-1zM11 287h1v1h-1zM12 288h1v1h-1zM13 288h1v1h-1zM14 288h1v1h-1zM15 289h1v1h-1zM16 289h1v1h-1zM17 289h1v1h-1zM18 289h1v1h-1zM19 288h1v1h-1zM20 288h1v1h-1zM21 288h1v1h-1zM22 287h1v1h-1zM23 287h1v1h-1zM24 286h1v1h-1zM25 286h1v1h-1zM26 285h1v1h-1zM27 285h1v1h-1zM28 284h1v1h-1zM29 284h1v1h-1zM30 283h1v1h-1zM31 282h1v1h-1zM32 282h1v1h-1zM33 281h1v1h-1zM34 280h1v1h-1zM35 279h1v1h-1zM36 279h1v1h-1zM37 278h1v1h-1zM38 277h1v1h-1zM39 276h1v1h-1zM40 276h1v1h-1zM41 275h1v1h-1zM42 274h1v1h-1zM43 274h1v1h-1zM44 273h1v1h-1zM45 273h1v1h-1zM46 272h1v1h-1zM47 271h1v1h-1zM48 271h1v1h-1zM49 270h1v1h-1zM50 269h1v1h-1zM51 269h1v1h-1zM52 268h1v1h-1zM53 268h1v1h-1zM54 268h1v1h-1zM55 267h1v1h-1zM56 267h1v1h-1zM57 267h1v1h-1zM58 267h1v1h-1zM59 266h1v1h-1zM60 266h1v1h-1zM61 266h1v1h-1zM62 265h1v1h-1zM63 264h1v1h-1zM64 264h1v1h-1zM65 263h1v1h-1zM66 262h1v1h-1zM67 261h1v1h-1zM68 260h1v1h-1zM69 259h1v1h-1zM70 258h1v1h-1zM71 258h1v1h-1zM72 257h1v1h-1zM73 257h1v1h-1zM74 256h1v1h-1zM75 254h1v2h-1zM76 253h1v1h-1zM77 252h1v1h-1zM78 251h1v1h-1zM79 250h1v1h-1zM80 249h1v1h-1zM81 248h1v1h-1zM82 246h1v2h-1zM83 245h1v1h-1zM84 243h1v2h-1zM85 242h1v1h-1zM86 241h1v1h-1zM87 239h1v2h-1zM88 238h1v1h-1zM89 237h1v1h-1zM90 236h1v1h-1zM91 234h1v2h-1zM92 233h1v1h-1zM93 232h1v1h-1zM94 230h1v2h-1zM95 229h1v1h-1zM96 227h1v2h-1zM97 226h1v1h-1zM98 225h1v1h-1zM99 224h1v1h-1zM100 223h1v1h-1zM101 222h1v1h-1zM102 221h1v1h-1zM103 220h1v1h-1zM104 220h1v1h-1zM105 219h1v1h-1zM106 218h1v1h-1zM107 217h1v1h-1zM108 217h1v1h-1zM109 216h1v1h-1zM110 215h1v1h-1zM111 214h1v1h-1zM112 213h1v1h-1zM113 212h1v1h-1zM114 211h1v1h-1zM115 210h1v1h-1zM116 209h1v1h-1zM117 208h1v1h-1zM118 207h1v1h-1zM119 207h1v1h-1zM120 206h1v1h-1zM121 206h1v1h-1zM122 205h1v1h-1zM123 204h1v1h-1zM124 204h1v1h-1zM125 203h1v1h-1zM126 202h1v1h-1zM127 201h1v1h-1zM128 201h1v1h-1zM129 200h1v1h-1zM130 199h1v1h-1zM131 198h1v1h-1zM132 198h1v1h-1zM133 197h1v1h-1zM134 196h1v1h-1zM135 195h1v1h-1zM136 195h1v1h-1zM137 194h1v1h-1zM138 193h1v1h-1zM139 193h1v1h-1zM140 192h1v1h-1zM141 192h1v1h-1zM142 191h1v1h-1zM143 191h1v1h-1zM144 190h1v1h-1zM145 190h1v1h-1zM146 190h1v1h-1zM147 189h1v1h-1zM148 189h1v1h-1zM149 189h1v1h-1zM150 189h1v1h-1zM151 188h1v1h-1zM152 188h1v1h-1zM153 188h1v1h-1zM154 187h1v1h-1zM155 187h1v1h-1zM156 186h1v1h-1zM157 186h1v1h-1zM158 185h1v1h-1zM159 185h1v1h-1zM160 184h1v1h-1zM161 184h1v1h-1zM162 184h1v1h-1zM163 183h1v1h-1zM164 183h1v1h-1zM165 183h1v1h-1zM166 183h1v1h-1zM167 183h1v1h-1zM168 183h1v1h-1zM169 183h1v1h-1zM170 183h1v1h-1zM171 184h1v1h-1zM172 184h1v1h-1zM173 184h1v1h-1zM174 184h1v1h-1zM175 184h1v1h-1zM176 184h1v1h-1zM177 184h1v1h-1zM178 184h1v1h-1zM179 184h1v1h-1zM180 184h1v1h-1zM181 184h1v1h-1zM182 184h1v1h-1zM183 184h1v1h-1zM184 184h1v1h-1zM185 184h1v1h-1zM186 183h1v1h-1zM187 183h1v1h-1zM188 182h1v1h-1zM189 182h1v1h-1zM190 182h1v1h-1zM191 181h1v1h-1zM192 181h1v1h-1zM193 181h1v1h-1zM194 181h1v1h-1zM195 181h1v1h-1zM196 181h1v1h-1zM197 181h1v1h-1zM198 181h1v1h-1zM199 181h1v1h-1zM200 181h1v1h-1zM201 181h1v1h-1zM202 181h1v1h-1zM203 180h1v1h-1zM204 180h1v1h-1zM205 180h1v1h-1zM206 180h1v1h-1zM207 180h1v1h-1zM208 180h1v1h-1zM209 180h1v1h-1zM210 180h1v1h-1zM211 180h1v1h-1zM212 180h1v1h-1zM213 180h1v1h-1zM214 180h1v1h-1zM215 180h1v1h-1zM216 180h1v1h-1zM217 180h1v1h-1zM218 180h1v1h-1zM219 179h1v1h-1zM220 179h1v1h-1zM221 179h1v1h-1zM222 179h1v1h-1zM223 178h1v1h-1zM224 178h1v1h-1zM225 178h1v1h-1zM226 178h1v1h-1zM227 178h1v1h-1zM228 178h1v1h-1zM229 178h1v1h-1zM230 178h1v1h-1zM231 178h1v1h-1zM232 178h1v1h-1zM233 178h1v1h-1zM234 178h1v1h-1zM235 179h1v1h-1zM236 179h1v1h-1zM237 179h1v1h-1zM238 180h1v1h-1zM239 180h1v1h-1zM240 181h1v1h-1zM241 181h1v1h-1zM242 182h1v1h-1zM243 182h1v1h-1zM244 183h1v1h-1zM245 183h1v1h-1zM246 184h1v1h-1zM247 184h1v1h-1zM248 185h1v1h-1zM249 185h1v1h-1zM250 185h1v1h-1zM251 186h1v1h-1zM252 186h1v1h-1zM253 186h1v1h-1zM254 186h1v1h-1zM255 187h1v1h-1zM256 187h1v1h-1zM257 187h1v1h-1zM258 187h1v1h-1zM259 188h1v1h-1zM260 188h1v1h-1zM261 188h1v1h-1zM262 189h1v1h-1zM263 189h1v1h-1zM264 190h1v1h-1zM265 190h1v1h-1zM266 191h1v1h-1zM267 191h1v1h-1zM268 192h1v1h-1zM269 192h1v1h-1zM270 193h1v1h-1zM271 194h1v1h-1zM272 194h1v1h-1zM273 195h1v1h-1zM274 196h1v1h-1zM275 196h1v1h-1zM276 197h1v1h-1zM277 197h1v1h-1zM278 198h1v1h-1zM279 199h1v1h-1zM280 199h1v1h-1zM281 200h1v1h-1zM282 201h1v1h-1zM283 202h1v1h-1zM284 202h1v1h-1zM285 203h1v1h-1zM286 204h1v1h-1zM287 205h1v1h-1zM288 206h1v1h-1zM289 207h1v1h-1zM290 208h1v1h-1zM291 208h1v1h-1zM292 209h1v1h-1zM293 209h1v1h-1zM294 209h1v1h-1zM295 210h1v1h-1zM296 210h1v1h-1zM297 210h1v1h-1zM298 211h1v1h-1zM299 211h1v1h-1zM300 212h1v1h-1zM301 212h1v1h-1zM302 212h1v1h-1zM303 212h1v1h-1zM304 212h1v1h-1zM305 212h1v1h-1zM306 212h1v1h-1zM307 213h1v1h-1zM308 213h1v1h-1zM309 213h1v1h-1zM310 213h1v1h-1zM311 212h1v1h-1zM312 212h1v1h-1zM313 212h1v1h-1zM314 212h1v1h-1zM315 211h1v1h-1zM316 211h1v1h-1zM317 211h1v1h-1zM318 211h1v1h-1zM319 210h1v1h-1zM320 210h1v1h-1zM321 210h1v1h-1zM322 209h1v1h-1zM323 208h1v1h-1zM324 207h1v1h-1zM325 206h1v1h-1zM326 205h1v1h-1zM327 204h1v1h-1zM328 203h1v1h-1zM329 202h1v1h-1zM330 201h1v1h-1zM331 200h1v1h-1zM332 199h1v1h-1zM333 198h1v1h-1zM334 196h1v2h-1zM335 194h1v2h-1zM336 192h1v2h-1zM337 191h1v1h-1zM338 189h1v2h-1zM339 187h1v2h-1zM340 185h1v2h-1zM341 184h1v1h-1zM342 182h1v2h-1zM343 181h1v1h-1zM344 179h1v2h-1zM345 178h1v1h-1zM346 176h1v2h-1zM347 175h1v1h-1zM348 173h1v2h-1zM349 172h1v1h-1zM350 170h1v2h-1zM351 168h1v2h-1zM352 166h1v2h-1zM353 164h1v2h-1zM354 162h1v2h-1zM355 161h1v1h-1zM356 159h1v2h-1zM357 158h1v1h-1zM358 156h1v2h-1zM359 154h1v2h-1zM360 152h1v2h-1zM361 151h1v1h-1zM362 149h1v2h-1zM363 148h1v1h-1zM364 146h1v2h-1zM365 145h1v1h-1zM366 143h1v2h-1zM367 141h1v2h-1zM368 139h1v2h-1zM369 138h1v1h-1zM370 136h1v2h-1zM371 135h1v1h-1zM372 133h1v2h-1zM373 132h1v1h-1zM374 130h1v2h-1zM375 129h1v1h-1zM376 127h1v2h-1zM377 126h1v1h-1zM378 125h1v1h-1zM379 124h1v1h-1zM380 123h1v1h-1zM381 122h1v1h-1zM382 120h1v2h-1zM383 119h1v1h-1zM384 117h1v2h-1zM385 116h1v1h-1zM386 115h1v1h-1zM387 113h1v2h-1zM388 112h1v1h-1zM389 111h1v1h-1zM390 110h1v1h-1zM391 108h1v2h-1zM392 107h1v1h-1zM393 106h1v1h-1zM394 105h1v1h-1zM395 104h1v1h-1zM396 103h1v1h-1zM397 102h1v1h-1zM398 100h1v2h-1zM399 99h1v1h-1zM400 97h1v2h-1zM401 96h1v1h-1zM402 95h1v1h-1zM403 93h1v2h-1zM404 92h1v1h-1zM405 91h1v1h-1zM406 90h1v1h-1zM407 89h1v1h-1zM408 89h1v1h-1zM409 88h1v1h-1zM410 88h1v1h-1zM411 87h1v1h-1zM412 87h1v1h-1zM413 87h1v1h-1zM414 87h1v1h-1zM415 86h1v1h-1zM416 86h1v1h-1zM417 86h1v1h-1zM418 87h1v1h-1zM419 88h1v1h-1zM420 88h1v1h-1zM421 89h1v1h-1zM422 90h1v1h-1zM423 90h1v1h-1zM424 91h1v1h-1zM425 91h1v1h-1zM426 92h1v1h-1zM427 92h1v1h-1zM428 93h1v1h-1zM429 93h1v1h-1zM430 93h1v1h-1zM431 94h1v1h-1zM432 94h1v1h-1zM433 94h1v1h-1zM434 95h1v1h-1zM435 96h1v1h-1zM436 97h1v1h-1zM437 98h1v1h-1zM438 99h1v1h-1zM439 99h1v1h-1zM440 100h1v1h-1zM441 100h1v1h-1zM442 101h1v1h-1zM443 102h1v1h-1zM444 102h1v1h-1zM445 103h1v1h-1zM446 104h1v1h-1zM447 105h1v1h-1zM448 105h1v1h-1zM449 106h1v1h-1zM450 107h1v1h-1zM451 108h1v1h-1zM452 108h1v1h-1zM453 109h1v1h-1zM454 110h1v1h-1zM455 111h1v2h-1zM456 113h1v1h-1zM457 114h1v1h-1zM458 115h1v1h-1zM459 116h1v2h-1zM460 118h1v1h-1zM461 119h1v1h-1zM462 120h1v1h-1zM463 121h1v1h-1zM464 122h1v1h-1zM465 123h1v1h-1zM466 124h1v1h-1zM467 125h1v1h-1zM468 126h1v1h-1zM469 127h1v1h-1zM470 128h1v1h-1zM471 129h1v1h-1zM472 129h1v1h-1zM473 130h1v1h-1zM474 131h1v1h-1zM475 132h1v1h-1zM476 132h1v1h-1zM477 133h1v1h-1zM478 134h1v1h-1zM479 135h1v1h-1zM480 135h1v1h-1zM481 136h1v1h-1zM482 137h1v2h-1zM483 139h1v1h-1zM484 140h1v2h-1zM485 142h1v1h-1zM486 143h1v1h-1zM487 144h1v2h-1zM488 146h1v1h-1zM489 147h1v1h-1zM490 148h1v1h-1zM491 149h1v1h-1zM492 150h1v1h-1zM493 151h1v1h-1zM494 152h1v1h-1zM495 153h1v2h-1zM496 155h1v1h-1zM497 156h1v1h-1zM498 157h1v2h-1zM499 159h1v2h-1zM500 161h1v2h-1zM501 163h1v1h-1zM502 164h1v1h-1zM503 165h1v2h-1zM504 167h1v1h-1zM505 168h1v1h-1zM506 169h1v2h-1zM507 171h1v2h-1zM508 173h1v2h-1zM509 175h1v1h-1zM510 176h1v2h-1zM511 178h1v1h-1zM512 179h1v2h-1zM513 181h1v1h-1zM514 182h1v2h-1zM515 184h1v1h-1zM516 185h1v2h-1zM517 187h1v1h-1zM518 188h1v2h-1zM519 190h1v1h-1zM520 191h1v2h-1zM521 193h1v1h-1zM522 194h1v1h-1zM523 195h1v2h-1zM524 197h1v1h-1zM525 198h1v1h-1zM526 199h1v1h-1zM527 200h1v1h-1zM528 201h1v1h-1zM529 202h1v1h-1zM530 203h1v1h-1zM531 204h1v1h-1zM532 205h1v1h-1zM533 206h1v1h-1zM534 207h1v1h-1zM535 207h1v1h-1zM536 208h1v1h-1zM537 208h1v1h-1zM538 209h1v1h-1zM539 209h1v1h-1zM540 210h1v1h-1zM541 210h1v1h-1zM542 210h1v1h-1zM543 211h1v1h-1zM544 211h1v1h-1zM545 211h1v1h-1zM546 212h1v1h-1zM547 212h1v1h-1zM548 213h1v1h-1zM549 213h1v1h-1zM550 214h1v2h-1zM551 216h1v1h-1zM552 217h1v2h-1zM553 219h1v2h-1zM554 221h1v2h-1zM555 223h1v2h-1zM556 225h1v2h-1zM557 227h1v3h-1zM558 230h1v2h-1zM559 232h1v2h-1zM560 234h1v2h-1zM561 236h1v3h-1zM562 239h1v3h-1zM563 242h1v2h-1zM564 244h1v3h-1zM565 247h1v3h-1zM566 250h1v2h-1zM567 252h1v2h-1zM568 254h1v2h-1zM569 256h1v2h-1zM570 258h1v2h-1zM571 260h1v2h-1zM572 262h1v2h-1zM573 264h1v2h-1zM574 266h1v2h-1zM575 268h1v1h-1zM576 269h1v2h-1zM577 271h1v1h-1zM578 272h1v2h-1zM579 274h1v1h-1zM580 275h1v2h-1zM581 277h1v1h-1zM582 278h1v1h-1zM583 279h1v2h-1zM584 281h1v1h-1zM585 282h1v1h-1zM586 282h1v1h-1zM587 283h1v1h-1zM588 283h1v1h-1zM589 283h1v1h-1zM590 283h1v1h-1zM591 283h1v1h-1zM592 283h1v1h-1zM593 283h1v1h-1zM594 283h1v1h-1zM595 283h1v1h-1zM596 283h1v1h-1zM597 283h1v1h-1zM598 284h1v1h-1zM599 284h1v1h-1zM600 285h1v1h-1zM601 285h1v1h-1zM602 285h1v1h-1zM603 285h1v1h-1zM604 285h1v1h-1zM605 285h1v1h-1zM606 285h1v1h-1zM607 285h1v1h-1zM608 285h1v1h-1zM609 285h1v1h-1zM610 285h1v1h-1zM611 286h1v1h-1zM612 286h1v1h-1zM613 286h1v1h-1zM614 287h1v1h-1zM615 287h1v1h-1zM616 288h1v1h-1zM617 288h1v1h-1zM618 289h1v1h-1zM619 290h1v1h-1zM620 290h1v1h-1zM621 291h1v1h-1zM622 292h1v1h-1zM623 293h1v1h-1zM624 293h1v1h-1zM625 294h1v1h-1zM626 295h1v1h-1zM627 296h1v1h-1zM628 297h1v1h-1zM629 298h1v1h-1zM630 299h1v1h-1zM631 300h1v1h-1zM632 301h1v1h-1zM633 302h1v1h-1zM634 302h1v1h-1zM635 301h1v1h-1zM636 301h1v1h-1zM637 301h1v1h-1zM638 300h1v1h-1zM639 299h1v1h-1zM640 299h1v1h-1zM641 298h1v1h-1zM642 297h1v1h-1zM643 296h1v1h-1zM644 296h1v1h-1zM645 295h1v1h-1zM646 294h1v1h-1zM647 292h1v2h-1zM648 291h1v1h-1zM649 290h1v1h-1zM650 289h1v1h-1zM651 289h1v1h-1zM652 288h1v1h-1zM653 288h1v1h-1zM654 287h1v1h-1zM655 287h1v1h-1zM656 286h1v1h-1zM657 286h1v1h-1zM658 285h1v1h-1zM659 285h1v1h-1zM660 284h1v1h-1zM661 284h1v1h-1zM662 283h1v1h-1zM663 282h1v1h-1zM664 282h1v1h-1zM665 281h1v1h-1zM666 280h1v1h-1zM667 279h1v1h-1zM668 279h1v1h-1zM669 278h1v1h-1zM670 278h1v1h-1zM671 277h1v1h-1zM672 277h1v1h-1zM673 277h1v1h-1zM674 276h1v1h-1zM675 276h1v1h-1zM676 275h1v1h-1zM677 275h1v1h-1zM678 274h1v1h-1zM679 274h1v1h-1zM680 273h1v1h-1zM681 273h1v1h-1zM682 272h1v1h-1zM683 272h1v1h-1zM684 271h1v1h-1zM685 271h1v1h-1zM686 271h1v1h-1zM687 271h1v1h-1zM688 271h1v1h-1zM689 271h1v1h-1zM690 271h1v1h-1zM691 272h1v1h-1zM692 272h1v1h-1zM693 272h1v1h-1zM694 272h1v1h-1zM695 272h1v1h-1zM696 272h1v1h-1zM697 272h1v1h-1zM698 273h1v1h-1zM699 274h1v1h-1zM700 274h1v1h-1zM701 275h1v1h-1zM702 276h1v1h-1zM703 276h1v1h-1zM704 277h1v1h-1zM705 277h1v1h-1zM706 278h1v1h-1zM707 279h1v2h-1zM708 281h1v1h-1zM709 282h1v1h-1zM710 283h1v1h-1zM711 283h1v1h-1zM712 284h1v1h-1zM713 284h1v1h-1zM714 285h1v1h-1zM715 286h1v1h-1zM716 287h1v1h-1zM717 288h1v1h-1zM718 289h1v1h-1zM719 290h1v1h-1zM720 290h1v1h-1zM721 291h1v1h-1zM722 292h1v1h-1zM723 293h1v2h-1zM724 295h1v1h-1zM725 296h1v1h-1zM726 297h1v1h-1zM727 298h1v2h-1zM728 300h1v1h-1zM729 301h1v1h-1zM730 302h1v1h-1zM731 303h1v2h-1zM732 305h1v1h-1zM733 306h1v1h-1zM734 307h1v1h-1zM735 307h1v1h-1zM736 308h1v1h-1zM737 308h1v1h-1zM738 309h1v1h-1zM739 310h1v1h-1zM740 310h1v1h-1zM741 311h1v1h-1zM742 311h1v1h-1zM743 312h1v1h-1zM744 312h1v1h-1zM745 312h1v1h-1zM746 313h1v1h-1zM747 313h1v1h-1zM748 314h1v1h-1zM749 314h1v1h-1zM750 315h1v1h-1zM751 315h1v1h-1zM752 316h1v1h-1zM753 316h1v1h-1zM754 317h1v1h-1zM755 318h1v1h-1zM756 318h1v1h-1zM757 319h1v1h-1zM758 320h1v1h-1zM759 321h1v1h-1zM760 322h1v1h-1zM761 323h1v1h-1zM762 324h1v1h-1zM763 325h1v1h-1zM764 326h1v1h-1zM765 327h1v1h-1zM766 328h1v1h-1zM767 328h1v1h-1zM768 329h1v1h-1zM769 329h1v1h-1zM770 330h1v1h-1zM771 331h1v2h-1zM772 333h1v1h-1zM773 334h1v1h-1zM774 335h1v1h-1zM775 336h1v2h-1zM776 338h1v1h-1zM777 339h1v1h-1zM778 340h1v1h-1zM779 341h1v2h-1zM780 343h1v1h-1zM781 344h1v1h-1zM782 344h1v1h-1zM783 344h1v1h-1zM784 344h1v1h-1zM785 344h1v1h-1zM786 344h1v1h-1zM787 344h1v1h-1zM788 344h1v1h-1zM789 344h1v1h-1zM790 343h1v1h-1zM791 342h1v1h-1zM792 341h1v1h-1zM793 340h1v1h-1zM794 339h1v1h-1zM795 338h1v1h-1zM796 338h1v1h-1zM797 337h1v1h-1zM798 335h1v2h-1zM799 334h1v1h-1zM800 332h1v2h-1zM801 331h1v1h-1zM802 330h1v1h-1zM803 328h1v2h-1zM804 327h1v1h-1zM805 326h1v1h-1zM806 325h1v1h-1zM807 323h1v2h-1zM808 322h1v1h-1zM809 321h1v1h-1zM810 320h1v1h-1zM811 319h1v1h-1zM812 319h1v1h-1zM813 318h1v1h-1zM814 317h1v1h-1zM815 315h1v2h-1zM816 314h1v1h-1zM817 313h1v1h-1zM818 312h1v1h-1zM819 311h1v1h-1zM820 310h1v1h-1zM821 309h1v1h-1zM822 308h1v1h-1zM823 307h1v1h-1zM824 306h1v1h-1zM825 305h1v1h-1zM826 304h1v1h-1zM827 303h1v1h-1zM828 302h1v1h-1zM829 301h1v1h-1zM830 300h1v1h-1zM831 299h1v1h-1zM832 298h1v1h-1zM833 297h1v1h-1zM834 296h1v1h-1zM835 295h1v1h-1zM836 294h1v1h-1zM837 293h1v1h-1zM838 292h1v1h-1zM839 291h1v1h-1zM840 291h1v1h-1zM841 290h1v1h-1zM842 289h1v1h-1zM843 288h1v1h-1zM844 288h1v1h-1zM845 287h1v1h-1zM846 286h1v1h-1zM847 285h1v1h-1zM848 285h1v1h-1zM849 284h1v1h-1zM850 283h1v1h-1zM851 283h1v1h-1zM852 282h1v1h-1zM853 282h1v1h-1zM854 280h1v2h-1zM855 279h1v1h-1zM856 277h1v2h-1zM857 276h1v1h-1zM858 274h1v2h-1zM859 273h1v1h-1zM860 271h1v2h-1zM861 270h1v1h-1zM862 269h1v1h-1zM863 268h1v1h-1zM864 267h1v1h-1zM865 266h1v1h-1zM866 265h1v1h-1zM867 264h1v1h-1zM868 263h1v1h-1zM869 262h1v1h-1zM870 261h1v1h-1zM871 260h1v1h-1zM872 260h1v1h-1zM873 259h1v1h-1zM874 259h1v1h-1zM875 258h1v1h-1zM876 258h1v1h-1zM877 258h1v1h-1zM878 258h1v1h-1zM879 259h1v1h-1zM880 259h1v1h-1zM881 259h1v1h-1zM882 259h1v1h-1zM883 259h1v1h-1zM884 259h1v1h-1zM885 259h1v1h-1zM886 259h1v1h-1zM887 258h1v1h-1zM888 258h1v1h-1zM889 258h1v1h-1zM890 257h1v1h-1zM891 257h1v1h-1zM892 256h1v1h-1zM893 256h1v1h-1zM894 255h1v1h-1zM895 255h1v1h-1zM896 254h1v1h-1zM897 254h1v1h-1zM898 253h1v1h-1zM899 252h1v1h-1zM900 251h1v1h-1zM901 250h1v1h-1zM902 249h1v1h-1zM903 249h1v1h-1zM904 248h1v1h-1zM905 248h1v1h-1zM906 247h1v1h-1zM907 246h1v1h-1zM908 246h1v1h-1zM909 245h1v1h-1zM910 244h1v1h-1zM911 244h1v1h-1zM912 243h1v1h-1zM913 243h1v1h-1zM914 243h1v1h-1zM915 242h1v1h-1zM916 242h1v1h-1zM917 242h1v1h-1zM918 242h1v1h-1zM919 242h1v1h-1zM920 242h1v1h-1zM921 242h1v1h-1zM922 241h1v1h-1zM923 241h1v1h-1zM924 240h1v1h-1zM925 240h1v1h-1z" fill="#ff00ff"/>
<path d="M5 290h1v1h-1zM6 290h1v1h-1zM7 291h1v1h-1zM8 291h1v1h-1zM9 291h1v1h-1zM10 292h1v1h-1zM11 293h1v1h-1zM12 293h1v1h-1zM13 294h1v1h-1zM14 294h1v1h-1zM15 295h1v1h-1zM16 295h1v1h-1zM17 295h1v1h-1zM18 294h1v1h-1zM19 294h1v1h-1zM20 293h1v1h-1zM21 293h1v1h-1zM22 292h1v1h-1zM23 291h1v1h-1zM24 291h1v1h-1zM25 290h1v1h-1zM26 289h1v1h-1zM27 288h1v1h-1zM28 287h1v1h-1zM29 286h1v1h-1zM30 285h1v1h-1zM31 284h1v1h-1zM32 284h1v1h-1zM33 283h1v1h-1zM34 282h1v1h-1zM35 281h1v1h-1zM36 280h1v1h-1zM37 279h1v1h-1zM38 278h1v1h-1zM39 277h1v1h-1zM40 276h1v1h-1zM41 275h1v1h-1zM42 274h1v1h-1zM43 272h1v2h-1zM44 271h1v1h-1zM45 270h1v1h-1zM46 269h1v1h-1zM47 267h1v2h-1zM48 266h1v1h-1zM49 265h1v1h-1zM50 264h1v1h-1zM51 262h1v2h-1zM52 261h1v1h-1zM53 260h1v1h-1zM54 258h1v2h-1zM55 257h1v1h-1zM56 255h1v2h-1zM57 254h1v1h-1zM58 253h1v1h-1zM59 251h1v2h-1zM60 250h1v1h-1zM61 249h1v1h-1zM62 248h1v1h-1zM63 246h1v2h-1zM64 245h1v1h-1zM65 244h1v1h-1zM66 242h1v2h-1zM67 241h1v1h-1zM68 239h1v2h-1zM69 238h1v1h-1zM70 237h1v1h-1zM71 236h1v1h-1zM72 235h1v1h-1zM73 234h1v1h-1zM74 233h1v1h-1zM75 232h1v1h-1zM76 231h1v1h-1zM77 230h1v1h-1zM78 229h1v1h-1zM79 229h1v1h-1zM80 228h1v1h-1zM81 228h1v1h-1zM82 228h1v1h-1zM83 227h1v1h-1zM84 227h1v1h-1zM85 227h1v1h-1zM86 226h1v1h-1zM87 226h1v1h-1zM88 225h1v1h-1zM89 225h1v1h-1zM90 224h1v1h-1zM91 223h1v1h-1zM92 223h1v1h-1zM93 222h1v1h-1zM94 222h1v1h-1zM95 221h1v1h-1zM96 221h1v1h-1zM97 221h1v1h-1zM98 221h1v1h-1zM99 220h1v1h-1zM100 220h1v1h-1zM101 220h1v1h-1zM102 219h1v1h-1zM103 219h1v1h-1zM104 218h1v1h-1zM105 218h1v1h-1zM106 217h1v1h-1zM107 216h1v1h-1zM108 215h1v1h-1zM109 214h1v1h-1zM110 212h1v2h-1zM111 211h1v1h-1zM112 209h1v2h-1zM113 208h1v1h-1zM114 206h1v2h-1zM115 205h1v1h-1zM116 203h1v2h-1zM117 202h1v1h-1zM118 200h1v2h-1zM119 198h1v2h-1zM120 196h1v2h-1zM121 195h1v1h-1zM122 194h1v1h-1zM123 192h1v2h-1zM124 191h1v1h-1zM125 190h1v1h-1zM126 189h1v1h-1zM127 188h1v1h-1zM128 188h1v1h-1zM129 187h1v1h-1zM130 186h1v1h-1zM131 184h1v2h-1zM132 183h1v1h-1zM133 182h1v1h-1zM134 181h1v1h-1zM135 180h1v1h-1zM136 180h1v1h-1zM137 179h1v1h-1zM138 178h1v1h-1zM139 178h1v1h-1zM140 177h1v1h-1zM141 177h1v1h-1zM142 177h1v1h-1zM143 176h1v1h-1zM144 176h1v1h-1zM145 176h1v1h-1zM146 176h1v1h-1zM147 176h1v1h-1zM148 176h1v1h-1zM149 176h1v1h-1zM150 176h1v1h-1zM151 177h1v1h-1zM152 177h1v1h-1zM153 177h1v1h-1zM154 177h1v1h-1zM155 177h1v1h-1zM156 177h1v1h-1zM157 177h1v1h-1zM158 177h1v1h-1zM159 177h1v1h-1zM160 177h1v1h-1zM161 177h1v1h-1zM162 177h1v1h-1zM163 178h1v1h-1zM164 178h1v1h-1zM165 178h1v1h-1zM166 179h1v1h-1zM167 180h1v1h-1zM168 180h1v1h-1zM169 181h1v1h-1zM170 182h1v1h-1zM171 183h1v1h-1zM172 184h1v1h-1zM173 185h1v1h-1zM174 186h1v1h-1zM175 187h1v1h-1zM176 187h1v1h-1zM177 188h1v1h-1zM178 189h1v1h-1zM179 190h1v1h-1zM180 190h1v1h-1zM181 191h1v1h-1zM182 192h1v1h-1zM183 192h1v1h-1zM184 193h1v1h-1zM185 193h1v1h-1zM186 193h1v1h-1zM187 193h1v1h-1zM188 193h1v1h-1zM189 193h1v1h-1zM190 192h1v1h-1zM191 192h1v1h-1zM192 191h1v1h-1zM193 191h1v1h-1zM194 190h1v1h-1zM195 190h1v1h-1zM196 189h1v1h-1zM197 189h1v1h-1zM198 188h1v1h-1zM199 187h1v1h-1zM200 186h1v1h-1zM201 185h1v1h-1zM202 184h1v1h-1zM203 183h1v1h-1zM204 182h1v1h-1zM205 181h1v1h-1zM206 180h1v1h-1zM207 179h1v1h-1zM208 178h1v1h-1zM209 177h1v1h-1zM210 176h1v1h-1zM211 176h1v1h-1zM212 175h1v1h-1zM213 175h1v1h-1zM214 175h1v1h-1zM215 174h1v1h-1zM216 174h1v1h-1zM217 174h1v1h-1zM218 174h1v1h-1zM219 173h1v1h-1zM220 173h1v1h-1zM221 173h1v1h-1zM222 172h1v1h-1zM223 172h1v1h-1zM224 171h1v1h-1zM225 171h1v1h-1zM226 170h1v1h-1zM227 170h1v1h-1zM228 169h1v1h-1zM229 169h1v1h-1zM230 169h1v1h-1zM231 168h1v1h-1zM232 168h1v1h-1zM233 168h1v1h-1zM234 168h1v1h-1zM235 169h1v1h-1zM236 169h1v1h-1zM237 169h1v1h-1zM238 170h1v1h-1zM239 171h1v1h-1zM240 172h1v1h-1zM241 173h1v1h-1zM242 174h1v1h-1zM243 175h1v1h-1zM244 176h1v1h-1zM245 177h1v1h-1zM246 178h1v1h-1zM247 179h1v1h-1zM248 180h1v1h-1zM249 181h1v1h-1zM250 182h1v2h-1zM251 184h1v2h-1zM252 186h1v2h-1zM253 188h1v1h-1zM254 189h1v2h-1zM255 191h1v1h-1zM256 192h1v2h-1zM257 194h1v1h-1zM258 195h1v1h-1zM259 196h1v2h-1zM260 198h1v1h-1zM261 199h1v1h-1zM262 200h1v2h-1zM263 202h1v1h-1zM264 203h1v2h-1zM265 205h1v1h-1zM266 206h1v1h-1zM267 207h1v2h-1zM268 209h1v1h-1zM269 210h1v1h-1zM270 211h1v1h-1zM271 212h1v1h-1zM272 213h1v1h-1zM273 214h1v1h-1zM274 215h1v1h-1zM275 215h1v1h-1zM276 216h1v1h-1zM277 216h1v1h-1zM278 217h1v1h-1zM279 217h1v1h-1zM280 218h1v1h-1zM281 218h1v1h-1zM282 219h1v1h-1zM283 219h1v1h-1zM284 220h1v1h-1zM285 220h1v1h-1zM286 220h1v1h-1zM287 220h1v1h-1zM288 220h1v1h-1zM289 220h1v1h-1zM290 220h1v1h-1zM291 220h1v1h-1zM292 220h1v1h-1zM293 220h1v1h-1zM294 220h1v1h-1zM295 219h1v1h-1zM296 219h1v1h-1zM297 219h1v1h-1zM298 218h1v1h-1zM299 217h1v1h-1zM300 217h1v1h-1zM301 216h1v1h-1zM302 215h1v1h-1zM303 215h1v1h-1zM304 214h1v1h-1zM305 214h1v1h-1zM306 213h1v1h-1zM307 212h1v1h-1zM308 211h1v1h-1zM309 210h1v1h-1zM310 209h1v1h-1zM311 208h1v1h-1zM312 207h1v1h-1zM313 206h1v1h-1zM314 205h1v1h-1zM315 204h1v1h-1zM316 204h1v1h-1zM317 203h1v1h-1zM318 202h1v1h-1zM319 201h1v1h-1zM320 200h1v1h-1zM321 199h1v1h-1zM322 198h1v1h-1zM323 197h1v1h-1zM324 197h1v1h-1zM325 196h1v1h-1zM326 195h1v1h-1zM327 193h1v2h-1zM328 192h1v1h-1zM329 191h1v1h-1zM330 189h1v2h-1zM331 188h1v1h-1zM332 186h1v2h-1zM333 185h1v1h-1zM334 183h1v2h-1zM335 181h1v2h-1zM336 179h1v2h-1zM337 178h1v1h-1zM338 176h1v2h-1zM339 174h1v2h-1zM340 172h1v2h-1zM341 171h1v1h-1zM342 169h1v2h-1zM343 167h1v2h-1zM344 165h1v2h-1zM345 164h1v1h-1zM346 162h1v2h-1zM347 160h1v2h-1zM348 158h1v2h-1zM349 156h1v2h-1zM350 154h1v2h-1zM351 152h1v2h-1zM352 150h1v2h-1zM353 148h1v2h-1zM354 146h1v2h-1zM355 144h1v2h-1zM356 142h1v2h-1zM357 140h1v2h-1zM358 138h1v2h-1zM359 136h1v2h-1zM360 134h1v2h-1zM361 131h1v3h-1zM362 129h1v2h-1zM363 127h1v2h-1zM364 125h1v2h-1zM365 123h1v2h-1zM366 121h1v2h-1zM367 119h1v2h-1zM368 117h1v2h-1zM369 116h1v1h-1zM370 114h1v2h-1zM371 112h1v2h-1zM372 110h1v2h-1zM373 109h1v1h-1zM374 107h1v2h-1zM375 105h1v2h-1zM376 103h1v2h-1zM377 101h1v2h-1zM378 100h1v1h-1zM379 99h1v1h-1zM380 98h1v1h-1zM381 97h1v1h-1zM382 95h1v2h-1zM383 94h1v1h-1zM384 92h1v2h-1zM385 91h1v1h-1zM386 90h1v1h-1zM387 88h1v2h-1zM388 87h1v1h-1zM389 86h1v1h-1zM390 85h1v1h-1zM391 84h1v1h-1zM392 84h1v1h-1zM393 83h1v1h-1zM394 83h1v1h-1zM395 82h1v1h-1zM396 82h1v1h-1zM397 82h1v1h-1zM398 81h1v1h-1zM399 80h1v1h-1zM400 80h1v1h-1zM401 79h1v1h-1zM402 78h1v1h-1zM403 78h1v1h-1zM404 77h1v1h-1zM405 77h1v1h-1zM406 77h1v1h-1zM407 78h1v1h-1zM408 78h1v1h-1zM409 78h1v1h-1zM410 79h1v1h-1zM411 80h1v2h-1zM412 82h1v1h-1zM413 83h1v1h-1zM414 84h1v1h-1zM415 85h1v1h-1zM416 85h1v1h-1zM417 86h1v1h-1zM418 87h1v1h-1zM419 88h1v2h-1zM420 90h1v1h-1zM421 91h1v1h-1zM422 92h1v1h-1zM423 93h1v2h-1zM424 95h1v1h-1zM425 96h1v1h-1zM426 97h1v1h-1zM427 98h1v1h-1zM428 99h1v1h-1zM429 100h1v1h-1zM430 101h1v1h-1zM431 102h1v1h-1zM432 103h1v1h-1zM433 104h1v1h-1zM434 105h1v1h-1zM435 106h1v1h-1zM436 107h1v1h-1zM437 108h1v1h-1zM438 108h1v1h-1zM439 109h1v1h-1zM440 109h1v1h-1zM441 109h1v1h-1zM442 110h1v1h-1zM443 111h1v1h-1zM444 112h1v1h-1zM445 113h1v1h-1zM446 114h1v1h-1zM447 115h1v1h-1zM448 115h1v1h-1zM449 116h1v1h-1zM450 117h1v1h-1zM451 118h1v1h-1zM452 119h1v1h-1zM453 120h1v1h-1zM454 121h1v2h-1zM455 123h1v1h-1zM456 124h1v2h-1zM457 126h1v1h-1zM458 127h1v2h-1zM459 129h1v2h-1zM460 131h1v2h-1zM461 133h1v2h-1zM462 135h1v2h-1zM463 137h1v2h-1zM464 139h1v2h-1zM465 141h1v1h-1zM466 142h1v1h-1zM467 143h1v1h-1zM468 144h1v1h-1zM469 145h1v1h-1zM470 145h1v1h-1zM471 146h1v1h-1zM472 146h1v1h-1zM473 146h1v1h-1zM474 147h1v1h-1zM475 147h1v1h-1zM476 148h1v1h-1zM477 148h1v1h-1zM478 148h1v1h-1zM479 148h1v1h-1zM480 148h1v1h-1zM481 148h1v1h-1zM482 149h1v1h-1zM483 149h1v1h-1zM484 150h1v1h-1zM485 150h1v1h-1zM486 151h1v1h-1zM487 152h1v1h-1zM488 153h1v1h-1zM489 154h1v1h-1zM490 155h1v1h-1zM491 156h1v1h-1zM492 157h1v1h-1zM493 158h1v1h-1zM494 159h1v2h-1zM495 161h1v2h-1zM496 163h1v2h-1zM497 165h1v2h-1zM498 167h1v2h-1zM499 169h1v2h-1zM500 171h1v2h-1zM501 173h1v2h-1zM502 175h1v2h-1zM503 177h1v2h-1zM504 179h1v2h-1zM505 181h1v3h-1zM506 184h1v2h-1zM507 186h1v3h-1zM508 189h1v2h-1zM509 191h1v3h-1zM510 194h1v2h-1zM511 196h1v2h-1zM512 198h1v2h-1zM513 200h1v2h-1zM514 202h1v2h-1zM515 204h1v1h-1zM516 205h1v2h-1zM517 207h1v1h-1zM518 208h1v1h-1zM519 209h1v1h-1zM520 210h1v1h-1zM521 211h1v1h-1zM522 212h1v1h-1zM523 213h1v1h-1zM524 213h1v1h-1zM525 214h1v1h-1zM526 215h1v1h-1zM527 216h1v1h-1zM528 217h1v1h-1zM529 218h1v1h-1zM530 219h1v1h-1zM531 220h1v1h-1zM532 221h1v1h-1zM533 222h1v1h-1zM534 223h1v1h-1zM535 224h1v1h-1zM536 224h1v1h-1zM537 225h1v1h-1zM538 226h1v1h-1zM539 227h1v1h-1zM540 228h1v1h-1zM541 229h1v1h-1zM542 230h1v1h-1zM543 230h1v1h-1zM544 231h1v1h-1zM545 231h1v1h-1zM546 232h1v1h-1zM547 232h1v1h-1zM548 233h1v1h-1zM549 233h1v1h-1zM550 234h1v2h-1zM551 236h1v2h-1zM552 238h1v2h-1zM553 240h1v1h-1zM554 241h1v2h-1zM555 243h1v1h-1zM556 244h1v2h-1zM557 246h1v1h-1zM558 247h1v2h-1zM559 249h1v2h-1zM560 251h1v2h-1zM561 253h1v1h-1zM562 254h1v2h-1zM563 256h1v2h-1zM564 258h1v2h-1zM565 260h1v1h-1zM566 261h1v2h-1zM567 263h1v1h-1zM568 264h1v2h-1zM569 266h1v1h-1zM570 267h1v1h-1zM571 268h1v1h-1zM572 269h1v1h-1zM573 270h1v1h-1zM574 271h1v2h-1zM575 273h1v1h-1zM576 274h1v2h-1zM577 276h1v1h-1zM578 277h1v2h-1zM579 279h1v2h-1zM580 281h1v2h-1zM581 283h1v1h-1zM582 284h1v2h-1zM583 286h1v2h-1zM584 288h1v2h-1zM585 290h1v2h-1zM586 292h1v1h-1zM587 293h1v1h-1zM588 294h1v1h-1zM589 295h1v1h-1zM590 296h1v1h-1zM591 297h1v2h-1zM592 299h1v1h-1zM593 300h1v1h-1zM594 301h1v2h-1zM595 303h1v1h-1zM596 304h1v2h-1zM597 306h1v1h-1zM598 307h1v1h-1zM599 308h1v2h-1zM600 310h1v1h-1zM601 311h1v1h-1zM602 312h1v1h-1zM603 313h1v1h-1zM604 313h1v1h-1zM605 314h1v1h-1zM606 315h1v1h-1zM607 315h1v1h-1zM608 316h1v1h-1zM609 316h1v1h-1zM610 315h1v1h-1zM611 313h1v2h-1zM612 312h1v1h-1zM613 311h1v1h-1zM614 309h1v2h-1zM615 308h1v1h-1zM616 306h1v2h-1zM617 305h1v1h-1zM618 304h1v1h-1zM619 302h1v2h-1zM620 301h1v1h-1zM621 300h1v1h-1zM622 298h1v2h-1zM623 296h1v2h-1zM624 294h1v2h-1zM625 293h1v1h-1zM626 292h1v1h-1zM627 290h1v2h-1zM628 289h1v1h-1zM629 288h1v1h-1zM630 287h1v1h-1zM631 286h1v1h-1zM632 285h1v1h-1zM633 284h1v1h-1zM634 283h1v1h-1zM635 282h1v1h-1zM636 282h1v1h-1zM637 281h1v1h-1zM638 279h1v2h-1zM639 278h1v1h-1zM640 276h1v2h-1zM641 275h1v1h-1zM642 274h1v1h-1zM643 273h1v1h-1zM644 272h1v1h-1zM645 271h1v1h-1zM646 271h1v1h-1zM647 271h1v1h-1zM648 271h1v1h-1zM649 271h1v1h-1zM650 271h1v1h-1zM651 272h1v1h-1zM652 272h1v1h-1zM653 272h1v1h-1zM654 273h1v1h-1zM655 273h1v1h-1zM656 274h1v1h-1zM657 274h1v1h-1zM658 274h1v1h-1zM659 275h1v1h-1zM660 275h1v1h-1zM661 275h1v1h-1zM662 276h1v1h-1zM663 277h1v1h-1zM664 277h1v1h-1zM665 278h1v1h-1zM666 279h1v1h-1zM667 280h1v1h-1zM668 280h1v1h-1zM669 281h1v1h-1zM670 282h1v1h-1zM671 282h1v1h-1zM672 283h1v1h-1zM673 283h1v1h-1zM674 283h1v1h-1zM675 282h1v1h-1zM676 282h1v1h-1zM677 282h1v1h-1zM678 281h1v1h-1zM679 281h1v1h-1zM680 280h1v1h-1zM681 280h1v1h-1zM682 280h1v1h-1zM683 279h1v1h-1zM684 279h1v1h-1zM685 279h1v1h-1zM686 278h1v1h-1zM687 277h1v1h-1zM688 277h1v1h-1zM689 276h1v1h-1zM690 275h1v1h-1zM691 275h1v1h-1zM692 274h1v1h-1zM693 274h1v1h-1zM694 273h1v1h-1zM695 272h1v1h-1zM696 271h1v1h-1zM697 270h1v1h-1zM698 271h1v1h-1zM699 272h1v1h-1zM700 272h1v1h-1zM701 273h1v1h-1zM702 274h1v1h-1zM703 274h1v1h-1zM704 275h1v1h-1zM705 275h1v1h-1zM706 276h1v2h-1zM707 278h1v1h-1zM708 279h1v2h-1zM709 281h1v1h-1zM710 282h1v1h-1zM711 282h1v1h-1zM712 283h1v1h-1zM713 283h1v1h-1zM714 284h1v1h-1zM715 285h1v2h-1zM716 287h1v1h-1zM717 288h1v1h-1zM718 289h1v1h-1zM719 289h1v1h-1zM720 290h1v1h-1zM721 290h1v1h-1zM722 291h1v2h-1zM723 293h1v1h-1zM724 294h1v2h-1zM725 296h1v1h-1zM726 297h1v2h-1zM727 299h1v1h-1zM728 300h1v2h-1zM729 302h1v2h-1zM730 304h1v2h-1zM731 306h1v2h-1zM732 308h1v2h-1zM733 310h1v2h-1zM734 312h1v2h-1zM735 314h1v2h-1zM736 316h1v2h-1zM737 318h1v2h-1zM738 320h1v2h-1zM739 322h1v2h-1zM740 324h1v2h-1zM741 326h1v2h-1zM742 328h1v2h-1zM743 330h1v2h-1zM744 332h1v2h-1zM745 334h1v1h-1zM746 335h1v1h-1zM747 336h1v1h-1zM748 337h1v1h-1zM749 338h1v1h-1zM750 339h1v1h-1zM751 340h1v2h-1zM752 342h1v1h-1zM753 343h1v1h-1zM754 344h1v2h-1zM755 346h1v1h-1zM756 347h1v2h-1zM757 349h1v1h-1zM758 349h1v1h-1zM759 350h1v1h-1zM760 350h1v1h-1zM761 350h1v1h-1zM762 350h1v1h-1zM763 350h1v1h-1zM764 350h1v1h-1zM765 350h1v1h-1zM766 349h1v1h-1zM767 347h1v2h-1zM768 346h1v1h-1zM769 345h1v1h-1zM770 346h1v1h-1zM771 346h1v1h-1zM772 347h1v1h-1zM773 347h1v1h-1zM774 346h1v1h-1zM775 346h1v1h-1zM776 345h1v1h-1zM777 345h1v1h-1zM778 345h1v1h-1zM779 344h1v1h-1zM780 344h1v1h-1zM781 344h1v1h-1zM782 343h1v1h-1zM783 342h1v1h-1zM784 341h1v1h-1zM785 340h1v1h-1zM786 339h1v1h-1zM787 338h1v1h-1zM788 337h1v1h-1zM789 336h1v1h-1zM790 334h1v2h-1zM791 332h1v2h-1zM792 330h1v2h-1zM793 329h1v1h-1zM794 327h1v2h-1zM795 326h1v1h-1zM796 324h1v2h-1zM797 323h1v1h-1zM798 321h1v2h-1zM799 319h1v2h-1zM800 317h1v2h-1zM801 316h1v1h-1zM802 314h1v2h-1zM803 313h1v1h-1zM804 311h1v2h-1zM805 310h1v1h-1zM806 309h1v1h-1zM807 308h1v1h-1zM808 308h1v1h-1zM809 307h1v1h-1zM810 306h1v1h-1zM811 306h1v1h-1zM812 305h1v1h-1zM813 305h1v1h-1zM814 304h1v1h-1zM815 304h1v1h-1zM816 303h1v1h-1zM817 303h1v1h-1zM818 302h1v1h-1zM819 301h1v1h-1zM820 300h1v1h-1zM821 299h1v1h-1zM822 298h1v1h-1zM823 298h1v1h-1zM824 297h1v1h-1zM825 297h1v1h-1zM826 296h1v1h-1zM827 295h1v1h-1zM828 295h1v1h-1zM829 294h1v1h-1zM830 292h1v2h-1zM831 290h1v2h-1zM832 288h1v2h-1zM833 287h1v1h-1zM834 285h1v2h-1zM835 283h1v2h-1zM836 281h1v2h-1zM837 279h1v2h-1zM838 278h1v1h-1zM839 276h1v2h-1zM840 275h1v1h-1zM841 274h1v1h-1zM842 273h1v1h-1zM843 272h1v1h-1zM844 272h1v1h-1zM845 271h1v1h-1zM846 270h1v1h-1zM847 268h1v2h-1zM848 267h1v1h-1zM849 266h1v1h-1zM850 265h1v1h-1zM851 265h1v1h-1zM852 264h1v1h-1zM853 264h1v1h-1zM854 263h1v1h-1zM855 263h1v1h-1zM856 262h1v1h-1zM857 262h1v1h-1zM858 262h1v1h-1zM859 261h1v1h-1zM860 261h1v1h-1zM861 261h1v1h-1zM862 261h1v1h-1zM863 260h1v1h-1zM864 260h1v1h-1zM865 260h1v1h-1zM866 259h1v1h-1zM867 258h1v1h-1zM868 258h1v1h-1zM869 257h1v1h-1zM870 256h1v1h-1zM871 255h1v1h-1zM872 254h1v1h-1zM873 253h1v1h-1zM874 253h1v1h-1zM875 252h1v1h-1zM876 252h1v1h-1zM877 252h1v1h-1zM878 252h1v1h-1zM879 252h1v1h-1zM880 252h1v1h-1zM881 252h1v1h-1zM882 251h1v1h-1zM883 251h1v1h-1zM884 250h1v1h-1zM885 250h1v1h-1zM886 250h1v1h-1zM887 250h1v1h-1zM888 250h1v1h-1zM889 250h1v1h-1zM890 250h1v1h-1zM891 249h1v1h-1zM892 249h1v1h-1zM893 249h1v1h-1zM894 249h1v1h-1zM895 250h1v1h-1zM896 250h1v1h-1zM897 250h1v1h-1zM898 249h1v1h-1zM899 248h1v1h-1zM900 248h1v1h-1zM901 247h1v1h-1zM902 246h1v1h-1zM903 246h1v1h-1zM904 245h1v1h-1zM905 245h1v1h-1zM906 244h1v1h-1zM907 243h1v1h-1zM908 243h1v1h-1zM909 242h1v1h-1zM910 241h1v1h-1zM911 241h1v1h-1zM912 240h1v1h-1zM913 240h1v1h-1zM914 240h1v1h-1zM915 239h1v1h-1zM916 239h1v1h-1zM917 239h1v1h-1zM918 239h1v1h-1zM919 239h1v1h-1zM920 239h1v1h-1zM921 239h1v1h-1zM922 239h1v1h-1zM923 238h1v1h-1zM924 238h1v1h-1zM925 238h1v1h-1z" fill="#ff0000"/>
<path d="M5 316h1v1h-1zM6 315h1v1h-1zM7 315h1v1h-1zM8 314h1v1h-1zM9 314h1v1h-1zM10 314h1v1h-1zM11 313h1v1h-1zM12 313h1v1h-1zM13 313h1v1h-1zM14 311h1v2h-1zM15 309h1v2h-1zM16 307h1v2h-1zM17 304h1v3h-1zM18 300h1v4h-1zM19 297h1v3h-1zM20 293h1v4h-1zM21 290h1v3h-1zM22 286h1v4h-1zM23 282h1v4h-1zM24 278h1v4h-1zM25 275h1v3h-1zM26 271h1v4h-1zM27 268h1v3h-1zM28 264h1v4h-1zM29 260h1v4h-1zM30 256h1v4h-1zM31 251h1v5h-1zM32 247h1v4h-1zM33 243h1v4h-1zM34 239h1v4h-1zM35 235h1v4h-1zM36 231h1v4h-1zM37 229h1v2h-1zM38 227h1v2h-1zM39 225h1v2h-1zM40 223h1v2h-1zM41 221h1v2h-1zM42 221h1v1h-1zM43 220h1v1h-1zM44 220h1v1h-1zM45 220h1v1h-1zM46 220h1v1h-1zM47 220h1v1h-1zM48 220h1v1h-1zM49 220h1v1h-1zM50 221h1v1h-1zM51 222h1v1h-1zM52 222h1v1h-1zM53 223h1v1h-1zM54 224h1v2h-1zM55 226h1v1h-1zM56 227h1v2h-1zM57 229h1v1h-1zM58 230h1v2h-1zM59 232h1v2h-1zM60 234h1v2h-1zM61 236h1v1h-1zM62 236h1v1h-1zM63 236h1v1h-1zM64 236h1v1h-1zM65 236h1v1h-1zM66 235h1v1h-1zM67 234h1v1h-1zM68 233h1v1h-1zM69 232h1v1h-1zM70 233h1v1h-1zM71 233h1v1h-1zM72 234h1v1h-1zM73 234h1v1h-1zM74 233h1v1h-1zM75 233h1v1h-1zM76 232h1v1h-1zM77 232h1v1h-1zM78 231h1v1h-1zM79 229h1v2h-1zM80 228h1v1h-1zM81 227h1v1h-1zM82 226h1v1h-1zM83 226h1v1h-1zM84 225h1v1h-1zM85 225h1v1h-1zM86 224h1v1h-1zM87 223h1v1h-1zM88 223h1v1h-1zM89 221h1v2h-1zM90 218h1v3h-1zM91 216h1v2h-1zM92 213h1v3h-1zM93 210h1v3h-1zM94 208h1v2h-1zM95 206h1v2h-1zM96 204h1v2h-1zM97 202h1v2h-1zM98 200h1v2h-1zM99 198h1v2h-1zM100 196h1v2h-1zM101 195h1v1h-1zM102 194h1v1h-1zM103 193h1v1h-1zM104 193h1v1h-1zM105 192h1v1h-1zM106 191h1v1h-1zM107 189h1v2h-1zM108 188h1v1h-1zM109 187h1v1h-1zM110 185h1v2h-1zM111 183h1v2h-1zM112 181h1v2h-1zM113 178h1v3h-1zM114 176h1v2h-1zM115 174h1v2h-1zM116 172h1v2h-1zM117 170h1v2h-1zM118 168h1v2h-1zM119 166h1v2h-1zM120 164h1v2h-1zM121 161h1v3h-1zM122 159h1v2h-1zM123 157h1v2h-1zM124 155h1v2h-1zM125 153h1v2h-1zM126 153h1v1h-1zM127 152h1v1h-1zM128 152h1v1h-1zM129 152h1v1h-1zM130 153h1v1h-1zM131 154h1v1h-1zM132 155h1v1h-1zM133 156h1v1h-1zM134 157h1v2h-1zM135 159h1v2h-1zM136 161h1v2h-1zM137 163h1v3h-1zM138 166h1v2h-1zM139 168h1v3h-1zM140 171h1v2h-1zM141 173h1v3h-1zM142 176h1v2h-1zM143 178h1v2h-1zM144 180h1v2h-1zM145 182h1v2h-1zM146 184h1v2h-1zM147 186h1v1h-1zM148 187h1v2h-1zM149 189h1v1h-1zM150 190h1v1h-1zM151 191h1v2h-1zM152 193h1v1h-1zM153 194h1v1h-1zM154 195h1v1h-1zM155 195h1v1h-1zM156 196h1v1h-1zM157 196h1v1h-1zM158 196h1v1h-1zM159 195h1v1h-1zM160 195h1v1h-1zM161 195h1v1h-1zM162 195h1v1h-1zM163 196h1v1h-1zM164 196h1v1h-1zM165 196h1v1h-1zM166 197h1v1h-1zM167 198h1v2h-1zM168 200h1v1h-1zM169 201h1v1h-1zM170 202h1v1h-1zM171 203h1v1h-1zM172 203h1v1h-1zM173 204h1v1h-1zM174 204h1v1h-1zM175 205h1v1h-1zM176 205h1v1h-1zM177 205h1v1h-1zM178 205h1v1h-1zM179 206h1v1h-1zM180 206h1v1h-1zM181 206h1v1h-1zM182 204h1v2h-1zM183 202h1v2h-1zM184 200h1v2h-1zM185 198h1v2h-1zM186 195h1v3h-1zM187 193h1v2h-1zM188 190h1v3h-1zM189 187h1v3h-1zM190 184h1v3h-1zM191 180h1v4h-1zM192 177h1v3h-1zM193 174h1v3h-1zM194 172h1v2h-1zM195 169h1v3h-1zM196 167h1v2h-1zM197 164h1v3h-1zM198 162h1v2h-1zM199 160h1v2h-1zM200 158h1v2h-1zM201 155h1v3h-1zM202 153h1v2h-1zM203 150h1v3h-1zM204 148h1v2h-1zM205 146h1v2h-1zM206 145h1v1h-1zM207 144h1v1h-1zM208 143h1v1h-1zM209 142h1v1h-1zM210 143h1v1h-1zM211 144h1v2h-1zM212 146h1v1h-1zM213 147h1v1h-1zM214 148h1v1h-1zM215 149h1v1h-1zM216 150h1v1h-1zM217 151h1v1h-1zM218 152h1v2h-1zM219 154h1v1h-1zM220 155h1v2h-1zM221 157h1v2h-1zM222 159h1v3h-1zM223 162h1v2h-1zM224 164h1v3h-1zM225 167h1v3h-1zM226 170h1v2h-1zM227 172h1v3h-1zM228 175h1v2h-1zM229 177h1v2h-1zM230 179h1v1h-1zM231 180h1v2h-1zM232 182h1v1h-1zM233 183h1v2h-1zM234 185h1v2h-1zM235 187h1v2h-1zM236 189h1v2h-1zM237 191h1v3h-1zM238 194h1v3h-1zM239 197h1v4h-1zM240 201h1v3h-1zM241 204h1v3h-1zM242 207h1v2h-1zM243 209h1v3h-1zM244 212h1v2h-1zM245 214h1v2h-1zM246 216h1v2h-1zM247 218h1v2h-1zM248 220h1v2h-1zM249 222h1v3h-1zM250 225h1v2h-1zM251 227h1v3h-1zM252 230h1v2h-1zM253 232h1v2h-1zM254 234h1v1h-1zM255 235h1v2h-1zM256 237h1v1h-1zM257 238h1v1h-1zM258 237h1v1h-1zM259 236h1v1h-1zM260 236h1v1h-1zM261 235h1v1h-1zM262 234h1v1h-1zM263 234h1v1h-1zM264 233h1v1h-1zM265 233h1v1h-1zM266 232h1v1h-1zM267 232h1v1h-1zM268 231h1v1h-1zM269 231h1v1h-1zM270 230h1v1h-1zM271 228h1v2h-1zM272 227h1v1h-1zM273 226h1v1h-1zM274 224h1v2h-1zM275 222h1v2h-1zM276 220h1v2h-1zM277 219h1v1h-1zM278 218h1v1h-1zM279 217h1v1h-1zM280 216h1v1h-1zM281 215h1v1h-1zM282 214h1v1h-1zM283 214h1v1h-1zM284 213h1v1h-1zM285 213h1v1h-1zM286 212h1v1h-1zM287 210h1v2h-1zM288 209h1v1h-1zM289 208h1v1h-1zM290 206h1v2h-1zM291 205h1v1h-1zM292 203h1v2h-1zM293 202h1v1h-1zM294 201h1v1h-1zM295 201h1v1h-1zM296 200h1v1h-1zM297 200h1v1h-1zM298 200h1v1h-1zM299 199h1v1h-1zM300 199h1v1h-1zM301 199h1v1h-1zM302 198h1v1h-1zM303 197h1v1h-1zM304 196h1v1h-1zM305 195h1v1h-1zM306 194h1v1h-1zM307 194h1v1h-1zM308 193h1v1h-1zM309 193h1v1h-1zM310 192h1v1h-1zM311 191h1v1h-1zM312 191h1v1h-1zM313 190h1v1h-1zM314 189h1v1h-1zM315 189h1v1h-1zM316 188h1v1h-1zM317 188h1v1h-1zM318 187h1v1h-1zM319 186h1v1h-1zM320 185h1v1h-1zM321 184h1v1h-1zM322 183h1v1h-1zM323 181h1v2h-1zM324 180h1v1h-1zM325 179h1v1h-1zM326 177h1v2h-1zM327 176h1v1h-1zM328 174h1v2h-1zM329 172h1v2h-1zM330 170h1v2h-1zM331 168h1v2h-1zM332 166h1v2h-1zM333 162h1v4h-1zM334 158h1v4h-1zM335 153h1v5h-1zM336 149h1v4h-1zM337 145h1v4h-1zM338 141h1v4h-1zM339 137h1v4h-1zM340 133h1v4h-1zM341 130h1v3h-1zM342 127h1v3h-1zM343 123h1v4h-1zM344 120h1v3h-1zM345 117h1v3h-1zM346 114h1v3h-1zM347 111h1v3h-1zM348 108h1v3h-1zM349 105h1v3h-1zM350 101h1v4h-1zM351 97h1v4h-1zM352 93h1v4h-1zM353 91h1v2h-1zM354 90h1v1h-1zM355 89h1v1h-1zM356 88h1v1h-1zM357 87h1v1h-1zM358 85h1v2h-1zM359 84h1v1h-1zM360 82h1v2h-1zM361 81h1v1h-1zM362 79h1v2h-1zM363 77h1v2h-1zM364 75h1v2h-1zM365 74h1v1h-1zM366 73h1v1h-1zM367 72h1v1h-1zM368 71h1v1h-1zM369 70h1v1h-1zM370 71h1v1h-1zM371 71h1v1h-1zM372 72h1v1h-1zM373 72h1v1h-1zM374 71h1v1h-1zM375 71h1v1h-1zM376 70h1v1h-1zM377 70h1v1h-1zM378 71h1v2h-1zM379 73h1v2h-1zM380 75h1v2h-1zM381 77h1v2h-1zM382 79h1v1h-1zM383 79h1v1h-1zM384 80h1v1h-1zM385 80h1v1h-1zM386 81h1v1h-1zM387 81h1v1h-1zM388 82h1v1h-1zM389 82h1v1h-1zM390 83h1v1h-1zM391 84h1v1h-1zM392 84h1v1h-1zM393 85h1v1h-1zM394 86h1v1h-1zM395 87h1v1h-1zM396 87h1v1h-1zM397 87h1v2h-1zM398 85h1v2h-1zM399 82h1v3h-1zM400 80h1v2h-1zM401 78h1v2h-1zM402 78h1v1h-1zM403 78h1v1h-1zM404 78h1v1h-1zM405 78h1v1h-1zM406 79h1v1h-1zM407 80h1v2h-1zM408 82h1v1h-1zM409 83h1v2h-1zM410 85h1v2h-1zM411 87h1v2h-1zM412 89h1v2h-1zM413 91h1v2h-1zM414 93h1v2h-1zM415 95h1v2h-1zM416 97h1v2h-1zM417 99h1v3h-1zM418 102h1v5h-1zM419 107h1v4h-1zM420 111h1v5h-1zM421 116h1v4h-1zM422 120h1v3h-1zM423 123h1v2h-1zM424 125h1v3h-1zM425 128h1v2h-1zM426 130h1v1h-1zM427 131h1v2h-1zM428 133h1v1h-1zM429 134h1v1h-1zM430 134h1v1h-1zM431 135h1v1h-1zM432 135h1v1h-1zM433 135h1v1h-1zM434 136h1v1h-1zM435 136h1v1h-1zM436 137h1v1h-1zM437 137h1v1h-1zM438 136h1v1h-1zM439 134h1v2h-1zM440 133h1v1h-1zM441 132h1v1h-1zM442 132h1v1h-1zM443 132h1v1h-1zM444 132h1v1h-1zM445 132h1v1h-1zM446 132h1v1h-1zM447 131h1v1h-1zM448 131h1v1h-1zM449 131h1v1h-1zM450 131h1v1h-1zM451 132h1v1h-1zM452 132h1v1h-1zM453 132h1v2h-1zM454 134h1v2h-1zM455 136h1v2h-1zM456 138h1v2h-1zM457 140h1v3h-1zM458 143h1v3h-1zM459 146h1v3h-1zM460 149h1v3h-1zM461 152h1v2h-1zM462 154h1v2h-1zM463 156h1v2h-1zM464 158h1v2h-1zM465 160h1v2h-1zM466 162h1v2h-1zM467 164h1v2h-1zM468 166h1v2h-1zM469 168h1v2h-1zM470 169h1v1h-1zM471 169h1v1h-1zM472 169h1v1h-1zM473 169h1v1h-1zM474 168h1v1h-1zM475 167h1v1h-1zM476 167h1v1h-1zM477 166h1v1h-1zM478 164h1v2h-1zM479 162h1v2h-1zM480 160h1v2h-1zM481 159h1v1h-1zM482 158h1v1h-1zM483 158h1v1h-1zM484 157h1v1h-1zM485 157h1v1h-1zM486 158h1v1h-1zM487 159h1v2h-1zM488 161h1v1h-1zM489 162h1v2h-1zM490 164h1v3h-1zM491 167h1v2h-1zM492 169h1v3h-1zM493 172h1v3h-1zM494 175h1v4h-1zM495 179h1v4h-1zM496 183h1v4h-1zM497 187h1v5h-1zM498 192h1v5h-1zM499 197h1v5h-1zM500 202h1v5h-1zM501 207h1v5h-1zM502 212h1v5h-1zM503 217h1v4h-1zM504 221h1v5h-1zM505 226h1v4h-1zM506 230h1v4h-1zM507 234h1v4h-1zM508 238h1v4h-1zM509 242h1v5h-1zM510 247h1v4h-1zM511 251h1v4h-1zM512 255h1v4h-1zM513 259h1v3h-1zM514 262h1v1h-1zM515 263h1v2h-1zM516 265h1v1h-1zM517 266h1v1h-1zM518 266h1v1h-1zM519 265h1v1h-1zM520 265h1v1h-1zM521 265h1v1h-1zM522 263h1v2h-1zM523 261h1v2h-1zM524 259h1v2h-1zM525 256h1v3h-1zM526 254h1v2h-1zM527 252h1v2h-1zM528 250h1v2h-1zM529 247h1v3h-1zM530 243h1v4h-1zM531 239h1v4h-1zM532 235h1v4h-1zM533 231h1v4h-1zM534 228h1v3h-1zM535 226h1v2h-1zM536 223h1v3h-1zM537 221h1v2h-1zM538 219h1v2h-1zM539 217h1v2h-1zM540 215h1v2h-1zM541 213h1v2h-1zM542 211h1v2h-1zM543 210h1v1h-1zM544 208h1v2h-1zM545 207h1v1h-1zM546 206h1v1h-1zM547 206h1v1h-1zM548 205h1v1h-1zM549 205h1v3h-1zM550 208h1v6h-1zM551 214h1v5h-1zM552 219h1v6h-1zM553 225h1v6h-1zM554 231h1v6h-1zM555 237h1v7h-1zM556 244h1v6h-1zM557 250h1v7h-1zM558 257h1v6h-1zM559 263h1v7h-1zM560 270h1v6h-1zM561 276h1v8h-1zM562 284h1v9h-1zM563 293h1v9h-1zM564 302h1v9h-1zM565 311h1v8h-1zM566 319h1v7h-1zM567 326h1v8h-1zM568 334h1v7h-1zM569 341h1v4h-1zM570 345h1v2h-1zM571 347h1v2h-1zM572 349h1v2h-1zM573 351h1v2h-1zM574 353h1v1h-1zM575 353h1v1h-1zM576 354h1v1h-1zM577 354h1v1h-1zM578 355h1v1h-1zM579 355h1v1h-1zM580 356h1v1h-1zM581 356h1v1h-1zM582 355h1v1h-1zM583 353h1v2h-1zM584 352h1v1h-1zM585 349h1v3h-1zM586 345h1v4h-1zM587 341h1v4h-1zM588 337h1v4h-1zM589 333h1v4h-1zM590 330h1v3h-1zM591 327h1v3h-1zM592 324h1v3h-1zM593 321h1v3h-1zM594 318h1v3h-1zM595 315h1v3h-1zM596 312h1v3h-1zM597 309h1v3h-1zM598 306h1v3h-1zM599 303h1v3h-1zM600 300h1v3h-1zM601 296h1v4h-1zM602 290h1v6h-1zM603 285h1v5h-1zM604 279h1v6h-1zM605 276h1v3h-1zM606 274h1v2h-1zM607 272h1v2h-1zM608 270h1v2h-1zM609 268h1v2h-1zM610 266h1v2h-1zM611 263h1v3h-1zM612 261h1v2h-1zM613 259h1v2h-1zM614 257h1v2h-1zM615 255h1v2h-1zM616 253h1v2h-1zM617 251h1v2h-1zM618 250h1v1h-1zM619 248h1v2h-1zM620 247h1v1h-1zM621 246h1v1h-1zM622 247h1v1h-1zM623 248h1v2h-1zM624 250h1v1h-1zM625 251h1v2h-1zM626 253h1v2h-1zM627 255h1v2h-1zM628 257h1v2h-1zM629 259h1v3h-1zM630 262h1v3h-1zM631 265h1v3h-1zM632 268h1v3h-1zM633 271h1v3h-1zM634 274h1v2h-1zM635 276h1v3h-1zM636 279h1v2h-1zM637 281h1v2h-1zM638 282h1v1h-1zM639 282h1v1h-1zM640 282h1v1h-1zM641 282h1v1h-1zM642 283h1v1h-1zM643 283h1v1h-1zM644 284h1v1h-1zM645 284h1v1h-1zM646 283h1v1h-1zM647 283h1v1h-1zM648 282h1v1h-1zM649 282h1v1h-1zM650 283h1v1h-1zM651 284h1v1h-1zM652 284h1v1h-1zM653 285h1v1h-1zM654 286h1v1h-1zM655 287h1v1h-1zM656 287h1v1h-1zM657 288h1v2h-1zM658 290h1v2h-1zM659 292h1v3h-1zM660 295h1v2h-1zM661 297h1v2h-1zM662 299h1v1h-1zM663 299h1v1h-1zM664 300h1v1h-1zM665 300h1v1h-1zM666 300h1v1h-1zM667 301h1v1h-1zM668 301h1v1h-1zM669 300h1v2h-1zM670 298h1v2h-1zM671 295h1v3h-1zM672 293h1v2h-1zM673 290h1v3h-1zM674 286h1v4h-1zM675 283h1v3h-1zM676 279h1v4h-1zM677 276h1v3h-1zM678 272h1v4h-1zM679 268h1v4h-1zM680 264h1v4h-1zM681 261h1v3h-1zM682 259h1v2h-1zM683 257h1v2h-1zM684 255h1v2h-1zM685 253h1v2h-1zM686 251h1v2h-1zM687 249h1v2h-1zM688 247h1v2h-1zM689 246h1v1h-1zM690 246h1v1h-1zM691 246h1v1h-1zM692 246h1v1h-1zM693 246h1v1h-1zM694 246h1v1h-1zM695 246h1v1h-1zM696 246h1v1h-1zM697 246h1v2h-1zM698 248h1v4h-1zM699 252h1v4h-1zM700 256h1v4h-1zM701 260h1v3h-1zM702 263h1v3h-1zM703 266h1v3h-1zM704 269h1v3h-1zM705 272h1v4h-1zM706 276h1v6h-1zM707 282h1v6h-1zM708 288h1v6h-1zM709 294h1v4h-1zM710 298h1v4h-1zM711 302h1v4h-1zM712 306h1v4h-1zM713 310h1v5h-1zM714 315h1v8h-1zM715 323h1v7h-1zM716 330h1v8h-1zM717 338h1v4h-1zM718 342h1v2h-1zM719 344h1v2h-1zM720 346h1v2h-1zM721 348h1v3h-1zM722 351h1v4h-1zM723 355h1v4h-1zM724 359h1v4h-1zM725 363h1v2h-1zM726 364h1v1h-1zM727 363h1v1h-1zM728 363h1v1h-1zM729 363h1v2h-1zM730 365h1v3h-1zM731 368h1v2h-1zM732 370h1v3h-1zM733 373h1v2h-1zM734 373h1v1h-1zM735 371h1v2h-1zM736 370h1v1h-1zM737 369h1v1h-1zM738 370h1v1h-1zM739 370h1v1h-1zM740 371h1v1h-1zM741 371h1v1h-1zM742 369h1v2h-1zM743 368h1v1h-1zM744 366h1v2h-1zM745 364h1v2h-1zM746 362h1v2h-1zM747 359h1v3h-1zM748 357h1v2h-1zM749 354h1v3h-1zM750 351h1v3h-1zM751 349h1v2h-1zM752 346h1v3h-1zM753 344h1v2h-1zM754 342h1v2h-1zM755 340h1v2h-1zM756 338h1v2h-1zM757 336h1v2h-1zM758 334h1v2h-1zM759 332h1v2h-1zM760 330h1v2h-1zM761 329h1v1h-1zM762 327h1v2h-1zM763 325h1v2h-1zM764 323h1v2h-1zM765 322h1v1h-1zM766 321h1v1h-1zM767 319h1v2h-1zM768 318h1v1h-1zM769 317h1v1h-1zM770 318h1v1h-1zM771 319h1v2h-1zM772 321h1v1h-1zM773 322h1v1h-1zM774 323h1v2h-1zM775 325h1v2h-1zM776 327h1v2h-1zM777 329h1v2h-1zM778 331h1v1h-1zM779 331h1v1h-1zM780 332h1v1h-1zM781 332h1v1h-1zM782 332h1v1h-1zM783 332h1v1h-1zM784 332h1v1h-1zM785 332h1v1h-1zM786 333h1v1h-1zM787 334h1v1h-1zM788 335h1v1h-1zM789 335h1v2h-1zM790 331h1v4h-1zM791 328h1v3h-1zM792 324h1v4h-1zM793 320h1v4h-1zM794 315h1v5h-1zM795 310h1v5h-1zM796 305h1v5h-1zM797 301h1v4h-1zM798 297h1v4h-1zM799 293h1v4h-1zM800 289h1v4h-1zM801 286h1v3h-1zM802 283h1v3h-1zM803 280h1v3h-1zM804 277h1v3h-1zM805 275h1v2h-1zM806 273h1v2h-1zM807 271h1v2h-1zM808 269h1v2h-1zM809 267h1v2h-1zM810 268h1v1h-1zM811 269h1v1h-1zM812 270h1v1h-1zM813 271h1v1h-1zM814 272h1v1h-1zM815 273h1v1h-1zM816 274h1v1h-1zM817 275h1v1h-1zM818 276h1v1h-1zM819 277h1v2h-1zM820 279h1v1h-1zM821 280h1v1h-1zM822 281h1v1h-1zM823 282h1v1h-1zM824 283h1v1h-1zM825 284h1v1h-1zM826 283h1v1h-1zM827 281h1v2h-1zM828 280h1v1h-1zM829 278h1v2h-1zM830 275h1v3h-1zM831 272h1v3h-1zM832 269h1v3h-1zM833 267h1v2h-1zM834 265h1v2h-1zM835 263h1v2h-1zM836 261h1v2h-1zM837 259h1v2h-1zM838 258h1v1h-1zM839 257h1v1h-1zM840 257h1v1h-1zM841 256h1v1h-1zM842 255h1v1h-1zM843 255h1v1h-1zM844 254h1v1h-1zM845 254h1v1h-1zM846 254h1v1h-1zM847 254h1v1h-1zM848 254h1v1h-1zM849 254h1v1h-1zM850 253h1v1h-1zM851 253h1v1h-1zM852 252h1v1h-1zM853 252h1v1h-1zM854 252h1v1h-1zM855 253h1v1h-1zM856 253h1v1h-1zM857 253h1v1h-1zM858 251h1v2h-1zM859 249h1v2h-1zM860 247h1v2h-1zM861 246h1v1h-1zM862 245h1v1h-1zM863 244h1v1h-1zM864 243h1v1h-1zM865 242h1v1h-1zM866 241h1v1h-1zM867 240h1v1h-1zM868 240h1v1h-1zM869 239h1v1h-1zM870 239h1v1h-1zM871 240h1v1h-1zM872 240h1v1h-1zM873 240h1v1h-1zM874 241h1v1h-1zM875 242h1v1h-1zM876 243h1v1h-1zM877 244h1v2h-1zM878 246h1v2h-1zM879 248h1v3h-1zM880 251h1v2h-1zM881 253h1v2h-1zM882 255h1v1h-1zM883 255h1v1h-1zM884 256h1v1h-1zM885 256h1v1h-1zM886 256h1v1h-1zM887 256h1v1h-1zM888 256h1v1h-1zM889 256h1v1h-1zM890 256h1v1h-1zM891 256h1v1h-1zM892 256h1v1h-1zM893 256h1v1h-1zM894 255h1v1h-1zM895 255h1v1h-1zM896 254h1v1h-1zM897 253h1v2h-1zM898 250h1v3h-1zM899 246h1v4h-1zM900 243h1v3h-1zM901 241h1v2h-1zM902 240h1v1h-1zM903 239h1v1h-1zM904 238h1v1h-1zM905 237h1v1h-1zM906 235h1v2h-1zM907 234h1v1h-1zM908 232h1v2h-1zM909 231h1v1h-1zM910 229h1v2h-1zM911 227h1v2h-1zM912 225h1v2h-1zM913 224h1v1h-1zM914 222h1v2h-1zM915 221h1v1h-1zM916 219h1v2h-1zM917 218h1v1h-1zM918 219h1v1h-1zM919 220h1v1h-1zM920 220h1v1h-1zM921 221h1v1h-1zM922 221h1v1h-1zM923 221h1v1h-1zM924 221h1v1h-1zM925 221h1v1h-1z" fill="#0000ff"/>
<rect x="4" y="223" width="6" height="6" fill="#00ff00" />
<rect x="6" y="225" width="2" height="2" fill="#ffffff" />
<rect x="1161" y="223" width="6" height="6" fill="#00ff00" />
<rect x="1163" y="225" width="2" height="2" fill="#ffffff" />
<rect x="4" y="318" width="6" height="6" fill="#0000ff" />
<rect x="6" y="320" width="2" height="2" fill="#ffffff" />
<rect x="1161" y="318" width="6" height="6" fill="#0000ff" />
<rect x="1163" y="320" width="2" height="2" fill="#ffffff" />
<rect x="4" y="382" width="6" height="6" fill="#0000ff" />
<rect x="6" y="384" width="2" height="2" fill="#ffffff" />
<rect x="1161" y="382" width="6" height="6" fill="#0000ff" />
<rect x="1163" y="384" width="2" height="2" fill="#ffffff" />
</g>
<rect x="4" y="223" width="1" height="6" fill="#00ff00" />
<rect x="4" y="318" width="1" height="6" fill="#0000ff" />
<rect x="4" y="382" width="1" height="6" fill="#0000ff" />
<clipPath id="cmacd"><rect x="5" y="424" width="1162" height="67"/></clipPath>
<g clip-path="url(#cmacd)" shape-rendering="crispEdges">
<rect x="4" y="453" width="3" height="17" fill="#c0c0c0" />
<rect x="8" y="453" width="3" height="15" fill="#c0c0c0" />
<rect x="12" y="453" width="3" height="15" fill="#c0c0c0" />
<rect x="16" y="453" width="3" height="13" fill="#c0c0c0" />
<rect x="20" y="453" width="3" height="10" fill="#c0c0c0" />
<rect x="24" y="453" width="3" height="5" fill="#c0c0c0" />
<rect x="28" y="453" width="3" height="1" fill="#c0c0c0" />
<rect x="32" y="451" width="3" height="2" fill="#c0c0c0" />
<rect x="36" y="448" width="3" height="5" fill="#c0c0c0" />
<rect x="40" y="446" width="3" height="7" fill="#c0c0c0" />
<rect x="44" y="445" width="3" height="8" fill="#c0c0c0" />
<rect x="48" y="444" width="3" height="9" fill="#c0c0c0" />
<rect x="52" y="445" width="3" height="8" fill="#c0c0c0" />
<rect x="56" y="445" width="3" height="8" fill="#c0c0c0" />
<rect x="60" y="446" width="3" height="7" fill="#c0c0c0" />
<rect x="64" y="445" width="3" height="8" fill="#c0c0c0" />
<rect x="68" y="444" width="3" height="9" fill="#c0c0c0" />
<rect x="72" y="445" width="3" height="8" fill="#c0c0c0" />
<rect x="76" y="446" width="3" height="7" fill="#c0c0c0" />
<rect x="80" y="446" width="3" height="7" fill="#c0c0c0" />
<rect x="84" y="445" width="3" height="8" fill="#c0c0c0" />
<rect x="88" y="443" width="3" height="10" fill="#c0c0c0" />
<rect x="92" y="442" width="3" height="11" fill="#c0c0c0" />
<rect x="96" y="441" width="3" height="12" fill="#c0c0c0" />
<rect x="100" y="440" width="3" height="13" fill="#c0c0c0" />
<rect x="104" y="440" width="3" height="13" fill="#c0c0c0" />
<rect x="108" y="439" width="3" height="14" fill="#c0c0c0" />
<rect x="112" y="436" width="3" height="17" fill="#c0c0c0" />
<rect x="116" y="435" width="3" height="18" fill="#c0c0c0" />
<rect x="120" y="434" width="3" height="19" fill="#c0c0c0" />
<rect x="124" y="433" width="3" height="20" fill="#c0c0c0" />
<rect x="128" y="434" width="3" height="19" fill="#c0c0c0" />
<rect x="132" y="435" width="3" height="18" fill="#c0c0c0" />
<rect x="136" y="437" width="3" height="16" fill="#c0c0c0" />
<rect x="140" y="440" width="3" height="13" fill="#c0c0c0" />
<rect x="144" y="442" width="3" height="11" fill="#c0c0c0" />
<rect x="148" y="443" width="3" height="10" fill="#c0c0c0" />
<rect x="152" y="445" width="3" height="8" fill="#c0c0c0" />
<rect x="156" y="446" width="3" height="7" fill="#c0c0c0" />
<rect x="160" y="447" width="3" height="6" fill="#c0c0c0" />
<rect x="164" y="448" width="3" height="5" fill="#c0c0c0" />
<rect x="168" y="450" width="3" height="3" fill="#c0c0c0" />
<rect x="172" y="451" width="3" height="2" fill="#c0c0c0" />
<rect x="176" y="451" width="3" height="2" fill="#c0c0c0" />
<rect x="180" y="451" width="3" height="2" fill="#c0c0c0" />
<rect x="184" y="450" width="3" height="3" fill="#c0c0c0" />
<rect x="188" y="449" width="3" height="4" fill="#c0c0c0" />
<rect x="192" y="446" width="3" height="7" fill="#c0c0c0" />
<rect x="196" y="445" width="3" height="8" fill="#c0c0c0" />
<rect x="200" y="444" width="3" height="9" fill="#c0c0c0" />
<rect x="204" y="441" width="3" height="12" fill="#c0c0c0" />
<rect x="208" y="441" width="3" height="12" fill="#c0c0c0" />
<rect x="212" y="442" width="3" height="11" fill="#c0c0c0" />
<rect x="216" y="443" width="3" height="10" fill="#c0c0c0" />
<rect x="220" y="445" width="3" height="8" fill="#c0c0c0" />
<rect x="224" y="446" width="3" height="7" fill="#c0c0c0" />
<rect x="228" y="448" width="3" height="5" fill="#c0c0c0" />
<rect x="232" y="450" width="3" height="3" fill="#c0c0c0" />
<rect x="236" y="452" width="3" height="1" fill="#c0c0c0" />
<rect x="240" y="453" width="3" height="3" fill="#c0c0c0" />
<rect x="244" y="453" width="3" height="5" fill="#c0c0c0" />
<rect x="248" y="453" width="3" height="7" fill="#c0c0c0" />
<rect x="252" y="453" width="3" height="9" fill="#c0c0c0" />
<rect x="256" y="453" width="3" height="10" fill="#c0c0c0" />
<rect x="260" y="453" width="3" height="10" fill="#c0c0c0" />
<rect x="264" y="453" width="3" height="10" fill="#c0c0c0" />
<rect x="268" y="453" width="3" height="9" fill="#c0c0c0" />
<rect x="272" y="453" width="3" height="9" fill="#c0c0c0" />
<rect x="276" y="453" width="3" height="7" fill="#c0c0c0" />
<rect x="280" y="453" width="3" height="6" fill="#c0c0c0" />
<rect x="284" y="453" width="3" height="6" fill="#c0c0c0" />
<rect x="288" y="453" width="3" height="4" fill="#c0c0c0" />
<rect x="292" y="453" width="3" height="3" fill="#c0c0c0" />
<rect x="296" y="453" width="3" height="2" fill="#c0c0c0" />
<rect x="300" y="453" width="3" height="1" fill="#c0c0c0" />
<rect x="304" y="453" width="3" height="1" fill="#c0c0c0" />
<rect x="308" y="452" width="3" height="1" fill="#c0c0c0" />
<rect x="312" y="451" width="3" height="2" fill="#c0c0c0" />
<rect x="316" y="450" width="3" height="3" fill="#c0c0c0" />
<rect x="320" y="449" width="3" height="4" fill="#c0c0c0" />
<rect x="324" y="448" width="3" height="5" fill="#c0c0c0" />
<rect x="328" y="446" width="3" height="7" fill="#c0c0c0" />
<rect x="332" y="444" width="3" height="9" fill="#c0c0c0" />
<rect x="336" y="440" width="3" height="13" fill="#c0c0c0" />
<rect x="340" y="437" width="3" height="16" fill="#c0c0c0" />
<rect x="344" y="435" width="3" height="18" fill="#c0c0c0" />
<rect x="348" y="433" width="3" height="20" fill="#c0c0c0" />
<rect x="352" y="430" width="3" height="23" fill="#c0c0c0" />
<rect x="356" y="429" width="3" height="24" fill="#c0c0c0" />
<rect x="360" y="427" width="3" height="26" fill="#c0c0c0" />
<rect x="364" y="427" width="3" height="26" fill="#c0c0c0" />
<rect x="368" y="427" width="3" height="26" fill="#c0c0c0" />
<rect x="372" y="427" width="3" height="26" fill="#c0c0c0" />
<rect x="376" y="427" width="3" height="26" fill="#c0c0c0" />
<rect x="380" y="430" width="3" height="23" fill="#c0c0c0" />
<rect x="384" y="431" width="3" height="22" fill="#c0c0c0" />
<rect x="388" y="432" width="3" height="21" fill="#c0c0c0" />
<rect x="392" y="433" width="3" height="20" fill="#c0c0c0" />
<rect x="396" y="434" width="3" height="19" fill="#c0c0c0" />
<rect x="400" y="434" width="3" height="19" fill="#c0c0c0" />
<rect x="404" y="435" width="3" height="18" fill="#c0c0c0" />
<rect x="408" y="438" width="3" height="15" fill="#c0c0c0" />
<rect x="412" y="442" width="3" height="11" fill="#c0c0c0" />
<rect x="416" y="444" width="3" height="9" fill="#c0c0c0" />
<rect x="420" y="448" width="3" height="5" fill="#c0c0c0" />
<rect x="424" y="450" width="3" height="3" fill="#c0c0c0" />
<rect x="428" y="452" width="3" height="1" fill="#c0c0c0" />
<rect x="432" y="453" width="3" height="1" fill="#c0c0c0" />
<rect x="436" y="453" width="3" height="1" fill="#c0c0c0" />
<rect x="440" y="453" width="3" height="1" fill="#c0c0c0" />
<rect x="444" y="453" width="3" height="2" fill="#c0c0c0" />
<rect x="448" y="453" width="3" height="2" fill="#c0c0c0" />
<rect x="452" y="453" width="3" height="3" fill="#c0c0c0" />
<rect x="456" y="453" width="3" height="5" fill="#c0c0c0" />
<rect x="460" y="453" width="3" height="8" fill="#c0c0c0" />
<rect x="464" y="453" width="3" height="10" fill="#c0c0c0" />
<rect x="468" y="453" width="3" height="11" fill="#c0c0c0" />
<rect x="472" y="453" width="3" height="9" fill="#c0c0c0" />
<rect x="476" y="453" width="3" height="9" fill="#c0c0c0" />
<rect x="480" y="453" width="3" height="8" fill="#c0c0c0" />
<rect x="484" y="453" width="3" height="9" fill="#c0c0c0" />
<rect x="488" y="453" width="3" height="11" fill="#c0c0c0" />
<rect x="492" y="453" width="3" height="12" fill="#c0c0c0" />
<rect x="496" y="453" width="3" height="15" fill="#c0c0c0" />
<rect x="500" y="453" width="3" height="18" fill="#c0c0c0" />
<rect x="504" y="453" width="3" height="22" fill="#c0c0c0" />
<rect x="508" y="453" width="3" height="25" fill="#c0c0c0" />
<rect x="512" y="453" width="3" height="27" fill="#c0c0c0" />
<rect x="516" y="453" width="3" height="27" fill="#c0c0c0" />
<rect x="520" y="453" width="3" height="26" fill="#c0c0c0" />
<rect x="524" y="453" width="3" height="24" fill="#c0c0c0" />
<rect x="528" y="453" width="3" height="23" fill="#c0c0c0" />
<rect x="532" y="453" width="3" height="19" fill="#c0c0c0" />
<rect x="536" y="453" width="3" height="16" fill="#c0c0c0" />
<rect x="540" y="453" width="3" height="14" fill="#c0c0c0" />
<rect x="544" y="453" width="3" height="12" fill="#c0c0c0" />
<rect x="548" y="453" width="3" height="11" fill="#c0c0c0" />
<rect x="552" y="453" width="3" height="16" fill="#c0c0c0" />
<rect x="556" y="453" width="3" height="21" fill="#c0c0c0" />
<rect x="560" y="453" width="3" height="25" fill="#c0c0c0" />
<rect x="564" y="453" width="3" height="30" fill="#c0c0c0" />
<rect x="568" y="453" width="3" height="33" fill="#c0c0c0" />
<rect x="572" y="453" width="3" height="34" fill="#c0c0c0" />
<rect x="576" y="453" width="3" height="34" fill="#c0c0c0" />
<rect x="580" y="453" width="3" height="34" fill="#c0c0c0" />
<rect x="584" y="453" width="3" height="34" fill="#c0c0c0" />
<rect x="588" y="453" width="3" height="29" fill="#c0c0c0" />
<rect x="592" y="453" width="3" height="25" fill="#c0c0c0" />
<rect x="596" y="453" width="3" height="22" fill="#c0c0c0" />
<rect x="600" y="453" width="3" height="19" fill="#c0c0c0" />
<rect x="604" y="453" width="3" height="14" fill="#c0c0c0" />
<rect x="608" y="453" width="3" height="10" fill="#c0c0c0" />
<rect x="612" y="453" width="3" height="6" fill="#c0c0c0" />
<rect x="616" y="453" width="3" height="4" fill="#c0c0c0" />
<rect x="620" y="453" width="3" height="3" fill="#c0c0c0" />
<rect x="624" y="453" width="3" height="2" fill="#c0c0c0" />
<rect x="628" y="453" width="3" height="4" fill="#c0c0c0" />
<rect x="632" y="453" width="3" height="4" fill="#c0c0c0" />
<rect x="636" y="453" width="3" height="5" fill="#c0c0c0" />
<rect x="640" y="453" width="3" height="4" fill="#c0c0c0" />
<rect x="644" y="453" width="3" height="3" fill="#c0c0c0" />
<rect x="648" y="453" width="3" height="4" fill="#c0c0c0" />
<rect x="652" y="453" width="3" height="5" fill="#c0c0c0" />
<rect x="656" y="453" width="3" height="6" fill="#c0c0c0" />
<rect x="660" y="453" width="3" height="7" fill="#c0c0c0" />
<rect x="664" y="453" width="3" height="7" fill="#c0c0c0" />
<rect x="668" y="453" width="3" height="6" fill="#c0c0c0" />
<rect x="672" y="453" width="3" height="4" fill="#c0c0c0" />
<rect x="676" y="453" width="3" height="1" fill="#c0c0c0" />
<rect x="680" y="451" width="3" height="2" fill="#c0c0c0" />
<rect x="684" y="449" width="3" height="4" fill="#c0c0c0" />
<rect x="688" y="449" width="3" height="4" fill="#c0c0c0" />
<rect x="692" y="449" width="3" height="4" fill="#c0c0c0" />
<rect x="696" y="447" width="3" height="6" fill="#c0c0c0" />
<rect x="700" y="451" width="3" height="2" fill="#c0c0c0" />
<rect x="704" y="453" width="3" height="1" fill="#c0c0c0" />
<rect x="708" y="453" width="3" height="6" fill="#c0c0c0" />
<rect x="712" y="453" width="3" height="8" fill="#c0c0c0" />
<rect x="716" y="453" width="3" height="13" fill="#c0c0c0" />
<rect x="720" y="453" width="3" height="15" fill="#c0c0c0" />
<rect x="724" y="453" width="3" height="17" fill="#c0c0c0" />
<rect x="728" y="453" width="3" height="19" fill="#c0c0c0" />
<rect x="732" y="453" width="3" height="21" fill="#c0c0c0" />
<rect x="736" y="453" width="3" height="20" fill="#c0c0c0" />
<rect x="740" y="453" width="3" height="20" fill="#c0c0c0" />
<rect x="744" y="453" width="3" height="18" fill="#c0c0c0" />
<rect x="748" y="453" width="3" height="15" fill="#c0c0c0" />
<rect x="752" y="453" width="3" height="14" fill="#c0c0c0" />
<rect x="756" y="453" width="3" height="11" fill="#c0c0c0" />
<rect x="760" y="453" width="3" height="10" fill="#c0c0c0" />
<rect x="764" y="453" width="3" height="8" fill="#c0c0c0" />
<rect x="768" y="453" width="3" height="5" fill="#c0c0c0" />
<rect x="772" y="453" width="3" height="6" fill="#c0c0c0" />
<rect x="776" y="453" width="3" height="8" fill="#c0c0c0" />
<rect x="780" y="453" width="3" height="7" fill="#c0c0c0" />
<rect x="784" y="453" width="3" height="5" fill="#c0c0c0" />
<rect x="788" y="453" width="3" height="4" fill="#c0c0c0" />
<rect x="792" y="453" width="3" height="1" fill="#c0c0c0" />
<rect x="796" y="450" width="3" height="3" fill="#c0c0c0" />
<rect x="800" y="447" width="3" height="6" fill="#c0c0c0" />
<rect x="804" y="444" width="3" height="9" fill="#c0c0c0" />
<rect x="808" y="444" width="3" height="9" fill="#c0c0c0" />
<rect x="812" y="445" width="3" height="8" fill="#c0c0c0" />
<rect x="816" y="445" width="3" height="8" fill="#c0c0c0" />
<rect x="820" y="444" width="3" height="9" fill="#c0c0c0" />
<rect x="824" y="444" width="3" height="9" fill="#c0c0c0" />
<rect x="828" y="442" width="3" height="11" fill="#c0c0c0" />
<rect x="832" y="441" width="3" height="12" fill="#c0c0c0" />
<rect x="836" y="440" width="3" height="13" fill="#c0c0c0" />
<rect x="840" y="440" width="3" height="13" fill="#c0c0c0" />
<rect x="844" y="441" width="3" height="12" fill="#c0c0c0" />
<rect x="848" y="441" width="3" height="12" fill="#c0c0c0" />
<rect x="852" y="440" width="3" height="13" fill="#c0c0c0" />
<rect x="856" y="440" width="3" height="13" fill="#c0c0c0" />
<rect x="860" y="439" width="3" height="14" fill="#c0c0c0" />
<rect x="864" y="439" width="3" height="14" fill="#c0c0c0" />
<rect x="868" y="439" width="3" height="14" fill="#c0c0c0" />
<rect x="872" y="440" width="3" height="13" fill="#c0c0c0" />
<rect x="876" y="442" width="3" height="11" fill="#c0c0c0" />
<rect x="880" y="444" width="3" height="9" fill="#c0c0c0" />
<rect x="884" y="444" width="3" height="9" fill="#c0c0c0" />
<rect x="888" y="444" width="3" height="9" fill="#c0c0c0" />
<rect x="892" y="444" width="3" height="9" fill="#c0c0c0" />
<rect x="896" y="445" width="3" height="8" fill="#c0c0c0" />
<rect x="900" y="443" width="3" height="10" fill="#c0c0c0" />
<rect x="904" y="443" width="3" height="10" fill="#c0c0c0" />
<rect x="908" y="442" width="3" height="11" fill="#c0c0c0" />
<rect x="912" y="441" width="3" height="12" fill="#c0c0c0" />
<rect x="916" y="441" width="3" height="12" fill="#c0c0c0" />
<rect x="920" y="442" width="3" height="11" fill="#c0c0c0" />
<rect x="924" y="443" width="3" height="10" fill="#c0c0c0" />
<path d="M5 467h1v1h-1zM6 467h1v1h-1zM7 468h1v1h-1zM8 468h1v1h-1zM9 468h1v1h-1zM10 468h1v1h-1zM11 468h1v1h-1zM12 468h1v1h-1zM13 468h1v1h-1zM14 468h1v1h-1zM15 468h1v1h-1zM16 468h1v1h-1zM17 468h1v1h-1zM18 468h1v1h-1zM19 468h1v1h-1zM20 468h1v1h-1zM21 468h1v1h-1zM22 468h1v1h-1zM23 467h1v1h-1zM24 467h1v1h-1zM25 467h1v1h-1zM26 466h1v1h-1zM27 466h1v1h-1zM28 465h1v1h-1zM29 465h1v1h-1zM30 464h1v1h-1zM31 464h1v1h-1zM32 463h1v1h-1zM33 463h1v1h-1zM34 462h1v1h-1zM35 462h1v1h-1zM36 461h1v1h-1zM37 461h1v1h-1zM38 460h1v1h-1zM39 459h1v1h-1zM40 459h1v1h-1zM41 458h1v1h-1zM42 457h1v1h-1zM43 457h1v1h-1zM44 456h1v1h-1zM45 456h1v1h-1zM46 455h1v1h-1zM47 454h1v1h-1zM48 454h1v1h-1zM49 453h1v1h-1zM50 452h1v1h-1zM51 451h1v1h-1zM52 451h1v1h-1zM53 450h1v1h-1zM54 450h1v1h-1zM55 449h1v1h-1zM56 449h1v1h-1zM57 449h1v1h-1zM58 448h1v1h-1zM59 448h1v1h-1zM60 447h1v1h-1zM61 447h1v1h-1zM62 447h1v1h-1zM63 446h1v1h-1zM64 446h1v1h-1zM65 446h1v1h-1zM66 446h1v1h-1zM67 445h1v1h-1zM68 445h1v1h-1zM69 445h1v1h-1zM70 445h1v1h-1zM71 445h1v1h-1zM72 445h1v1h-1zM73 445h1v1h-1zM74 445h1v1h-1zM75 445h1v1h-1zM76 445h1v1h-1zM77 445h1v1h-1zM78 445h1v1h-1zM79 445h1v1h-1zM80 445h1v1h-1zM81 445h1v1h-1zM82 445h1v1h-1zM83 445h1v1h-1zM84 445h1v1h-1zM85 445h1v1h-1zM86 445h1v1h-1zM87 445h1v1h-1zM88 445h1v1h-1zM89 445h1v1h-1zM90 445h1v1h-1zM91 445h1v1h-1zM92 445h1v1h-1zM93 445h1v1h-1zM94 445h1v1h-1zM95 444h1v1h-1zM96 444h1v1h-1zM97 444h1v1h-1zM98 444h1v1h-1zM99 443h1v1h-1zM100 443h1v1h-1zM101 443h1v1h-1zM102 443h1v1h-1zM103 443h1v1h-1zM104 443h1v1h-1zM105 443h1v1h-1zM106 443h1v1h-1zM107 442h1v1h-1zM108 442h1v1h-1zM109 442h1v1h-1zM110 442h1v1h-1zM111 441h1v1h-1zM112 441h1v1h-1zM113 441h1v1h-1zM114 441h1v1h-1zM115 440h1v1h-1zM116 440h1v1h-1zM117 440h1v1h-1zM118 440h1v1h-1zM119 439h1v1h-1zM120 439h1v1h-1zM121 439h1v1h-1zM122 439h1v1h-1zM123 438h1v1h-1zM124 438h1v1h-1zM125 438h1v1h-1zM126 438h1v1h-1zM127 437h1v1h-1zM128 437h1v1h-1zM129 437h1v1h-1zM130 437h1v1h-1zM131 436h1v1h-1zM132 436h1v1h-1zM133 436h1v1h-1zM134 436h1v1h-1zM135 436h1v1h-1zM136 436h1v1h-1zM137 436h1v1h-1zM138 436h1v1h-1zM139 436h1v1h-1zM140 436h1v1h-1zM141 436h1v1h-1zM142 436h1v1h-1zM143 436h1v1h-1zM144 436h1v1h-1zM145 436h1v1h-1zM146 436h1v1h-1zM147 437h1v1h-1zM148 437h1v1h-1zM149 437h1v1h-1zM150 437h1v1h-1zM151 438h1v1h-1zM152 438h1v1h-1zM153 438h1v1h-1zM154 438h1v1h-1zM155 439h1v1h-1zM156 439h1v1h-1zM157 439h1v1h-1zM158 440h1v1h-1zM159 440h1v1h-1zM160 441h1v1h-1zM161 441h1v1h-1zM162 441h1v1h-1zM163 442h1v1h-1zM164 442h1v1h-1zM165 442h1v1h-1zM166 443h1v1h-1zM167 443h1v1h-1zM168 444h1v1h-1zM169 444h1v1h-1zM170 445h1v1h-1zM171 445h1v1h-1zM172 446h1v1h-1zM173 446h1v1h-1zM174 446h1v1h-1zM175 447h1v1h-1zM176 447h1v1h-1zM177 447h1v1h-1zM178 447h1v1h-1zM179 448h1v1h-1zM180 448h1v1h-1zM181 448h1v1h-1zM182 448h1v1h-1zM183 449h1v1h-1zM184 449h1v1h-1zM185 449h1v1h-1zM186 449h1v1h-1zM187 449h1v1h-1zM188 449h1v1h-1zM189 449h1v1h-1zM190 449h1v1h-1zM191 449h1v1h-1zM192 449h1v1h-1zM193 449h1v1h-1zM194 449h1v1h-1zM195 449h1v1h-1zM196 449h1v1h-1zM197 449h1v1h-1zM198 449h1v1h-1zM199 449h1v1h-1zM200 449h1v1h-1zM201 449h1v1h-1zM202 449h1v1h-1zM203 448h1v1h-1zM204 448h1v1h-1zM205 448h1v1h-1zM206 447h1v1h-1zM207 447h1v1h-1zM208 446h1v1h-1zM209 446h1v1h-1zM210 446h1v1h-1zM211 445h1v1h-1zM212 445h1v1h-1zM213 445h1v1h-1zM214 445h1v1h-1zM215 444h1v1h-1zM216 444h1v1h-1zM217 444h1v1h-1zM218 444h1v1h-1zM219 444h1v1h-1zM220 444h1v1h-1zM221 444h1v1h-1zM222 444h1v1h-1zM223 444h1v1h-1zM224 444h1v1h-1zM225 444h1v1h-1zM226 444h1v1h-1zM227 444h1v1h-1zM228 444h1v1h-1zM229 444h1v1h-1zM230 444h1v1h-1zM231 445h1v1h-1zM232 445h1v1h-1zM233 445h1v1h-1zM234 445h1v1h-1zM235 446h1v1h-1zM236 446h1v1h-1zM237 446h1v1h-1zM238 446h1v1h-1zM239 447h1v1h-1zM240 447h1v1h-1zM241 447h1v1h-1zM242 448h1v1h-1zM243 448h1v1h-1zM244 449h1v1h-1zM245 449h1v1h-1zM246 450h1v1h-1zM247 450h1v1h-1zM248 451h1v1h-1zM249 451h1v1h-1zM250 452h1v1h-1zM251 452h1v1h-1zM252 453h1v1h-1zM253 453h1v1h-1zM254 454h1v1h-1zM255 454h1v1h-1zM256 455h1v1h-1zM257 455h1v1h-1zM258 456h1v1h-1zM259 456h1v1h-1zM260 457h1v1h-1zM261 457h1v1h-1zM262 458h1v1h-1zM263 458h1v1h-1zM264 459h1v1h-1zM265 459h1v1h-1zM266 459h1v1h-1zM267 460h1v1h-1zM268 460h1v1h-1zM269 460h1v1h-1zM270 460h1v1h-1zM271 461h1v1h-1zM272 461h1v1h-1zM273 461h1v1h-1zM274 461h1v1h-1zM275 462h1v1h-1zM276 462h1v1h-1zM277 462h1v1h-1zM278 462h1v1h-1zM279 462h1v1h-1zM280 462h1v1h-1zM281 462h1v1h-1zM282 462h1v1h-1zM283 462h1v1h-1zM284 462h1v1h-1zM285 462h1v1h-1zM286 462h1v1h-1zM287 461h1v1h-1zM288 461h1v1h-1zM289 461h1v1h-1zM290 461h1v1h-1zM291 460h1v1h-1zM292 460h1v1h-1zM293 460h1v1h-1zM294 460h1v1h-1zM295 459h1v1h-1zM296 459h1v1h-1zM297 459h1v1h-1zM298 459h1v1h-1zM299 458h1v1h-1zM300 458h1v1h-1zM301 458h1v1h-1zM302 458h1v1h-1zM303 457h1v1h-1zM304 457h1v1h-1zM305 457h1v1h-1zM306 457h1v1h-1zM307 456h1v1h-1zM308 456h1v1h-1zM309 456h1v1h-1zM310 456h1v1h-1zM311 455h1v1h-1zM312 455h1v1h-1zM313 455h1v1h-1zM314 455h1v1h-1zM315 454h1v1h-1zM316 454h1v1h-1zM317 454h1v1h-1zM318 454h1v1h-1zM319 453h1v1h-1zM320 453h1v1h-1zM321 453h1v1h-1zM322 453h1v1h-1zM323 452h1v1h-1zM324 452h1v1h-1zM325 452h1v1h-1zM326 452h1v1h-1zM327 451h1v1h-1zM328 451h1v1h-1zM329 451h1v1h-1zM330 451h1v1h-1zM331 450h1v1h-1zM332 450h1v1h-1zM333 450h1v1h-1zM334 449h1v1h-1zM335 449h1v1h-1zM336 448h1v1h-1zM337 448h1v1h-1zM338 447h1v1h-1zM339 447h1v1h-1zM340 446h1v1h-1zM341 446h1v1h-1zM342 446h1v1h-1zM343 445h1v1h-1zM344 445h1v1h-1zM345 445h1v1h-1zM346 444h1v1h-1zM347 444h1v1h-1zM348 443h1v1h-1zM349 443h1v1h-1zM350 442h1v1h-1zM351 441h1v1h-1zM352 441h1v1h-1zM353 440h1v1h-1zM354 439h1v1h-1zM355 439h1v1h-1zM356 438h1v1h-1zM357 438h1v1h-1zM358 437h1v1h-1zM359 437h1v1h-1zM360 436h1v1h-1zM361 436h1v1h-1zM362 435h1v1h-1zM363 435h1v1h-1zM364 434h1v1h-1zM365 434h1v1h-1zM366 433h1v1h-1zM367 433h1v1h-1zM368 432h1v1h-1zM369 432h1v1h-1zM370 431h1v1h-1zM371 431h1v1h-1zM372 430h1v1h-1zM373 430h1v1h-1zM374 430h1v1h-1zM375 429h1v1h-1zM376 429h1v1h-1zM377 429h1v1h-1zM378 429h1v1h-1zM379 429h1v1h-1zM380 429h1v1h-1zM381 429h1v1h-1zM382 429h1v1h-1zM383 428h1v1h-1zM384 428h1v1h-1zM385 428h1v1h-1zM386 428h1v1h-1zM387 429h1v1h-1zM388 429h1v1h-1zM389 429h1v1h-1zM390 429h1v1h-1zM391 429h1v1h-1zM392 429h1v1h-1zM393 429h1v1h-1zM394 429h1v1h-1zM395 430h1v1h-1zM396 430h1v1h-1zM397 430h1v1h-1zM398 430h1v1h-1zM399 431h1v1h-1zM400 431h1v1h-1zM401 431h1v1h-1zM402 431h1v1h-1zM403 432h1v1h-1zM404 432h1v1h-1zM405 432h1v1h-1zM406 432h1v1h-1zM407 433h1v1h-1zM408 433h1v1h-1zM409 433h1v1h-1zM410 433h1v1h-1zM411 434h1v1h-1zM412 434h1v1h-1zM413 434h1v1h-1zM414 435h1v1h-1zM415 435h1v1h-1zM416 436h1v1h-1zM417 436h1v1h-1zM418 437h1v1h-1zM419 437h1v1h-1zM420 438h1v1h-1zM421 438h1v1h-1zM422 439h1v1h-1zM423 439h1v1h-1zM424 440h1v1h-1zM425 440h1v1h-1zM426 441h1v1h-1zM427 441h1v1h-1zM428 442h1v1h-1zM429 442h1v1h-1zM430 443h1v1h-1zM431 443h1v1h-1zM432 444h1v1h-1zM433 444h1v1h-1zM434 445h1v1h-1zM435 445h1v1h-1zM436 446h1v1h-1zM437 446h1v1h-1zM438 447h1v1h-1zM439 447h1v1h-1zM440 448h1v1h-1zM441 448h1v1h-1zM442 449h1v1h-1zM443 449h1v1h-1zM444 450h1v1h-1zM445 450h1v1h-1zM446 451h1v1h-1zM447 451h1v1h-1zM448 452h1v1h-1zM449 452h1v1h-1zM450 452h1v1h-1zM451 453h1v1h-1zM452 453h1v1h-1zM453 453h1v1h-1zM454 453h1v1h-1zM455 454h1v1h-1zM456 454h1v1h-1zM457 454h1v1h-1zM458 454h1v1h-1zM459 455h1v1h-1zM460 455h1v1h-1zM461 455h1v1h-1zM462 456h1v1h-1zM463 456h1v1h-1zM464 457h1v1h-1zM465 457h1v1h-1zM466 457h1v1h-1zM467 458h1v1h-1zM468 458h1v1h-1zM469 458h1v1h-1zM470 458h1v1h-1zM471 459h1v1h-1zM472 459h1v1h-1zM473 459h1v1h-1zM474 459h1v1h-1zM475 460h1v1h-1zM476 460h1v1h-1zM477 460h1v1h-1zM478 460h1v1h-1zM479 460h1v1h-1zM480 460h1v1h-1zM481 460h1v1h-1zM482 460h1v1h-1zM483 461h1v1h-1zM484 461h1v1h-1zM485 461h1v1h-1zM486 461h1v1h-1zM487 462h1v1h-1zM488 462h1v1h-1zM489 462h1v1h-1zM490 462h1v1h-1zM491 463h1v1h-1zM492 463h1v1h-1zM493 463h1v1h-1zM494 463h1v1h-1zM495 463h1v1h-1zM496 463h1v1h-1zM497 463h1v1h-1zM498 463h1v1h-1zM499 464h1v1h-1zM500 464h1v1h-1zM501 464h1v1h-1zM502 465h1v1h-1zM503 465h1v1h-1zM504 466h1v1h-1zM505 466h1v1h-1zM506 466h1v1h-1zM507 467h1v1h-1zM508 467h1v1h-1zM509 467h1v1h-1zM510 468h1v1h-1zM511 468h1v1h-1zM512 469h1v1h-1zM513 469h1v1h-1zM514 470h1v1h-1zM515 470h1v1h-1zM516 471h1v1h-1zM517 471h1v1h-1zM518 472h1v1h-1zM519 472h1v1h-1zM520 473h1v1h-1zM521 473h1v1h-1zM522 474h1v1h-1zM523 474h1v1h-1zM524 475h1v1h-1zM525 475h1v1h-1zM526 475h1v1h-1zM527 476h1v1h-1zM528 476h1v1h-1zM529 476h1v1h-1zM530 476h1v1h-1zM531 477h1v1h-1zM532 477h1v1h-1zM533 477h1v1h-1zM534 477h1v1h-1zM535 476h1v1h-1zM536 476h1v1h-1zM537 476h1v1h-1zM538 476h1v1h-1zM539 475h1v1h-1zM540 475h1v1h-1zM541 475h1v1h-1zM542 475h1v1h-1zM543 474h1v1h-1zM544 474h1v1h-1zM545 474h1v1h-1zM546 473h1v1h-1zM547 473h1v1h-1zM548 472h1v1h-1zM549 472h1v1h-1zM550 472h1v1h-1zM551 471h1v1h-1zM552 471h1v1h-1zM553 471h1v1h-1zM554 471h1v1h-1zM555 470h1v1h-1zM556 470h1v1h-1zM557 470h1v1h-1zM558 470h1v1h-1zM559 470h1v1h-1zM560 470h1v1h-1zM561 470h1v1h-1zM562 470h1v1h-1zM563 471h1v1h-1zM564 471h1v1h-1zM565 471h1v1h-1zM566 472h1v1h-1zM567 472h1v1h-1zM568 473h1v1h-1zM569 473h1v1h-1zM570 474h1v1h-1zM571 474h1v1h-1zM572 475h1v1h-1zM573 475h1v1h-1zM574 476h1v1h-1zM575 476h1v1h-1zM576 477h1v1h-1zM577 477h1v1h-1zM578 478h1v1h-1zM579 478h1v1h-1zM580 479h1v1h-1zM581 479h1v1h-1zM582 480h1v1h-1zM583 481h1v1h-1zM584 481h1v1h-1zM585 482h1v1h-1zM586 482h1v1h-1zM587 483h1v1h-1zM588 483h1v1h-1zM589 483h1v1h-1zM590 483h1v1h-1zM591 484h1v1h-1zM592 484h1v1h-1zM593 484h1v1h-1zM594 484h1v1h-1zM595 483h1v1h-1zM596 483h1v1h-1zM597 483h1v1h-1zM598 483h1v1h-1zM599 482h1v1h-1zM600 482h1v1h-1zM601 482h1v1h-1zM602 481h1v1h-1zM603 481h1v1h-1zM604 480h1v1h-1zM605 480h1v1h-1zM606 479h1v1h-1zM607 478h1v1h-1zM608 478h1v1h-1zM609 477h1v1h-1zM610 476h1v1h-1zM611 475h1v1h-1zM612 475h1v1h-1zM613 474h1v1h-1zM614 473h1v1h-1zM615 472h1v1h-1zM616 472h1v1h-1zM617 471h1v1h-1zM618 470h1v1h-1zM619 469h1v1h-1zM620 469h1v1h-1zM621 468h1v1h-1zM622 467h1v1h-1zM623 466h1v1h-1zM624 466h1v1h-1zM625 465h1v1h-1zM626 464h1v1h-1zM627 463h1v1h-1zM628 463h1v1h-1zM629 462h1v1h-1zM630 461h1v1h-1zM631 461h1v1h-1zM632 460h1v1h-1zM633 460h1v1h-1zM634 460h1v1h-1zM635 459h1v1h-1zM636 459h1v1h-1zM637 459h1v1h-1zM638 459h1v1h-1zM639 458h1v1h-1zM640 458h1v1h-1zM641 458h1v1h-1zM642 458h1v1h-1zM643 457h1v1h-1zM644 457h1v1h-1zM645 457h1v1h-1zM646 457h1v1h-1zM647 457h1v1h-1zM648 457h1v1h-1zM649 457h1v1h-1zM650 457h1v1h-1zM651 457h1v1h-1zM652 457h1v1h-1zM653 457h1v1h-1zM654 457h1v1h-1zM655 457h1v1h-1zM656 457h1v1h-1zM657 457h1v1h-1zM658 457h1v1h-1zM659 458h1v1h-1zM660 458h1v1h-1zM661 458h1v1h-1zM662 458h1v1h-1zM663 458h1v1h-1zM664 458h1v1h-1zM665 458h1v1h-1zM666 458h1v1h-1zM667 458h1v1h-1zM668 458h1v1h-1zM669 458h1v1h-1zM670 458h1v1h-1zM671 458h1v1h-1zM672 458h1v1h-1zM673 458h1v1h-1zM674 458h1v1h-1zM675 458h1v1h-1zM676 458h1v1h-1zM677 458h1v1h-1zM678 458h1v1h-1zM679 457h1v1h-1zM680 457h1v1h-1zM681 457h1v1h-1zM682 457h1v1h-1zM683 456h1v1h-1zM684 456h1v1h-1zM685 456h1v1h-1zM686 456h1v1h-1zM687 455h1v1h-1zM688 455h1v1h-1zM689 455h1v1h-1zM690 455h1v1h-1zM691 454h1v1h-1zM692 454h1v1h-1zM693 454h1v1h-1zM694 454h1v1h-1zM695 453h1v1h-1zM696 453h1v1h-1zM697 453h1v1h-1zM698 453h1v1h-1zM699 452h1v1h-1zM700 452h1v1h-1zM701 452h1v1h-1zM702 452h1v1h-1zM703 451h1v1h-1zM704 451h1v1h-1zM705 451h1v1h-1zM706 451h1v1h-1zM707 451h1v1h-1zM708 451h1v1h-1zM709 451h1v1h-1zM710 451h1v1h-1zM711 452h1v1h-1zM712 452h1v1h-1zM713 452h1v1h-1zM714 453h1v1h-1zM715 453h1v1h-1zM716 454h1v1h-1zM717 454h1v1h-1zM718 455h1v1h-1zM719 455h1v1h-1zM720 456h1v1h-1zM721 456h1v1h-1zM722 457h1v1h-1zM723 457h1v1h-1zM724 458h1v1h-1zM725 458h1v1h-1zM726 459h1v1h-1zM727 460h1v1h-1zM728 460h1v1h-1zM729 461h1v1h-1zM730 462h1v1h-1zM731 463h1v1h-1zM732 463h1v1h-1zM733 464h1v1h-1zM734 465h1v1h-1zM735 465h1v1h-1zM736 466h1v1h-1zM737 466h1v1h-1zM738 467h1v1h-1zM739 467h1v1h-1zM740 468h1v1h-1zM741 468h1v1h-1zM742 469h1v1h-1zM743 469h1v1h-1zM744 470h1v1h-1zM745 470h1v1h-1zM746 470h1v1h-1zM747 471h1v1h-1zM748 471h1v1h-1zM749 471h1v1h-1zM750 471h1v1h-1zM751 471h1v1h-1zM752 471h1v1h-1zM753 471h1v1h-1zM754 471h1v1h-1zM755 470h1v1h-1zM756 470h1v1h-1zM757 470h1v1h-1zM758 470h1v1h-1zM759 469h1v1h-1zM760 469h1v1h-1zM761 469h1v1h-1zM762 469h1v1h-1zM763 468h1v1h-1zM764 468h1v1h-1zM765 468h1v1h-1zM766 467h1v1h-1zM767 467h1v1h-1zM768 466h1v1h-1zM769 466h1v1h-1zM770 466h1v1h-1zM771 465h1v1h-1zM772 465h1v1h-1zM773 465h1v1h-1zM774 465h1v1h-1zM775 464h1v1h-1zM776 464h1v1h-1zM777 464h1v1h-1zM778 463h1v1h-1zM779 463h1v1h-1zM780 462h1v1h-1zM781 462h1v1h-1zM782 462h1v1h-1zM783 461h1v1h-1zM784 461h1v1h-1zM785 461h1v1h-1zM786 461h1v1h-1zM787 460h1v1h-1zM788 460h1v1h-1zM789 460h1v1h-1zM790 460h1v1h-1zM791 459h1v1h-1zM792 459h1v1h-1zM793 459h1v1h-1zM794 458h1v1h-1zM795 458h1v1h-1zM796 457h1v1h-1zM797 457h1v1h-1zM798 457h1v1h-1zM799 456h1v1h-1zM800 456h1v1h-1zM801 456h1v1h-1zM802 455h1v1h-1zM803 455h1v1h-1zM804 454h1v1h-1zM805 454h1v1h-1zM806 454h1v1h-1zM807 453h1v1h-1zM808 453h1v1h-1zM809 453h1v1h-1zM810 452h1v1h-1zM811 452h1v1h-1zM812 451h1v1h-1zM813 451h1v1h-1zM814 450h1v1h-1zM815 450h1v1h-1zM816 449h1v1h-1zM817 449h1v1h-1zM818 449h1v1h-1zM819 448h1v1h-1zM820 448h1v1h-1zM821 448h1v1h-1zM822 447h1v1h-1zM823 447h1v1h-1zM824 446h1v1h-1zM825 446h1v1h-1zM826 446h1v1h-1zM827 445h1v1h-1zM828 445h1v1h-1zM829 445h1v1h-1zM830 445h1v1h-1zM831 444h1v1h-1zM832 444h1v1h-1zM833 444h1v1h-1zM834 444h1v1h-1zM835 443h1v1h-1zM836 443h1v1h-1zM837 443h1v1h-1zM838 443h1v1h-1zM839 443h1v1h-1zM840 443h1v1h-1zM841 443h1v1h-1zM842 443h1v1h-1zM843 443h1v1h-1zM844 443h1v1h-1zM845 443h1v1h-1zM846 443h1v1h-1zM847 442h1v1h-1zM848 442h1v1h-1zM849 442h1v1h-1zM850 442h1v1h-1zM851 441h1v1h-1zM852 441h1v1h-1zM853 441h1v1h-1zM854 441h1v1h-1zM855 441h1v1h-1zM856 441h1v1h-1zM857 441h1v1h-1zM858 441h1v1h-1zM859 440h1v1h-1zM860 440h1v1h-1zM861 440h1v1h-1zM862 440h1v1h-1zM863 440h1v1h-1zM864 440h1v1h-1zM865 440h1v1h-1zM866 440h1v1h-1zM867 440h1v1h-1zM868 440h1v1h-1zM869 440h1v1h-1zM870 440h1v1h-1zM871 440h1v1h-1zM872 440h1v1h-1zM873 440h1v1h-1zM874 440h1v1h-1zM875 440h1v1h-1zM876 440h1v1h-1zM877 440h1v1h-1zM878 440h1v1h-1zM879 440h1v1h-1zM880 440h1v1h-1zM881 440h1v1h-1zM882 440h1v1h-1zM883 441h1v1h-1zM884 441h1v1h-1zM885 441h1v1h-1zM886 441h1v1h-1zM887 441h1v1h-1zM888 441h1v1h-1zM889 441h1v1h-1zM890 441h1v1h-1zM891 442h1v1h-1zM892 442h1v1h-1zM893 442h1v1h-1zM894 442h1v1h-1zM895 442h1v1h-1zM896 442h1v1h-1zM897 442h1v1h-1zM898 442h1v1h-1zM899 443h1v1h-1zM900 443h1v1h-1zM901 443h1v1h-1zM902 443h1v1h-1zM903 443h1v1h-1zM904 443h1v1h-1zM905 443h1v1h-1zM906 443h1v1h-1zM907 444h1v1h-1zM908 444h1v1h-1zM909 444h1v1h-1zM910 444h1v1h-1zM911 443h1v1h-1zM912 443h1v1h-1zM913 443h1v1h-1zM914 443h1v1h-1zM915 443h1v1h-1zM916 443h1v1h-1zM917 443h1v1h-1zM918 443h1v1h-1zM919 443h1v1h-1zM920 443h1v1h-1zM921 443h1v1h-1zM922 443h1v1h-1zM923 443h1v1h-1zM924 443h1v1h-1zM925 443h1v1h-1z" fill="#ff0000"/>
</g>
<clipPath id="crsi"><rect x="5" y="494" width="1162" height="83"/></clipPath>
<g clip-path="url(#crsi)" shape-rendering="crispEdges">
<line x1="6" y1="519.5" x2="1167" y2="519.5" stroke="#c0c0c0" stroke-width="1" stroke-dasharray="3,3"/>
<line x1="6" y1="552.5" x2="1167" y2="552.5" stroke="#c0c0c0" stroke-width="1" stroke-dasharray="3,3"/>
<path d="M5 541h1v1h-1zM6 540h1v1h-1zM7 540h1v1h-1zM8 539h1v1h-1zM9 539h1v1h-1zM10 540h1v1h-1zM11 541h1v1h-1zM12 541h1v1h-1zM13 542h1v1h-1zM14 540h1v2h-1zM15 539h1v1h-1zM16 537h1v2h-1zM17 536h1v1h-1zM18 535h1v1h-1zM19 534h1v1h-1zM20 533h1v1h-1zM21 532h1v1h-1zM22 531h1v1h-1zM23 530h1v1h-1zM24 529h1v1h-1zM25 528h1v1h-1zM26 528h1v1h-1zM27 527h1v1h-1zM28 527h1v1h-1zM29 527h1v1h-1zM30 527h1v1h-1zM31 528h1v1h-1zM32 528h1v1h-1zM33 528h1v1h-1zM34 527h1v1h-1zM35 527h1v1h-1zM36 526h1v1h-1zM37 526h1v1h-1zM38 526h1v1h-1zM39 527h1v1h-1zM40 527h1v1h-1zM41 527h1v1h-1zM42 528h1v1h-1zM43 528h1v1h-1zM44 529h1v1h-1zM45 529h1v1h-1zM46 529h1v1h-1zM47 530h1v1h-1zM48 530h1v1h-1zM49 530h1v1h-1zM50 531h1v1h-1zM51 531h1v1h-1zM52 532h1v1h-1zM53 532h1v1h-1zM54 532h1v1h-1zM55 533h1v1h-1zM56 533h1v1h-1zM57 533h1v1h-1zM58 534h1v1h-1zM59 534h1v1h-1zM60 535h1v1h-1zM61 535h1v1h-1zM62 534h1v1h-1zM63 532h1v2h-1zM64 531h1v1h-1zM65 530h1v1h-1zM66 529h1v1h-1zM67 528h1v1h-1zM68 528h1v1h-1zM69 527h1v1h-1zM70 528h1v2h-1zM71 530h1v2h-1zM72 532h1v2h-1zM73 534h1v2h-1zM74 534h1v1h-1zM75 534h1v1h-1zM76 533h1v1h-1zM77 533h1v1h-1zM78 533h1v1h-1zM79 532h1v1h-1zM80 532h1v1h-1zM81 532h1v1h-1zM82 531h1v1h-1zM83 530h1v1h-1zM84 530h1v1h-1zM85 529h1v1h-1zM86 528h1v1h-1zM87 527h1v1h-1zM88 527h1v1h-1zM89 526h1v1h-1zM90 526h1v1h-1zM91 526h1v1h-1zM92 526h1v1h-1zM93 526h1v1h-1zM94 526h1v1h-1zM95 526h1v1h-1zM96 526h1v1h-1zM97 526h1v1h-1zM98 526h1v1h-1zM99 526h1v1h-1zM100 526h1v1h-1zM101 526h1v1h-1zM102 527h1v1h-1zM103 527h1v1h-1zM104 528h1v1h-1zM105 528h1v1h-1zM106 527h1v1h-1zM107 525h1v2h-1zM108 524h1v1h-1zM109 523h1v1h-1zM110 522h1v1h-1zM111 521h1v1h-1zM112 521h1v1h-1zM113 520h1v1h-1zM114 520h1v1h-1zM115 519h1v1h-1zM116 519h1v1h-1zM117 519h1v1h-1zM118 519h1v1h-1zM119 520h1v1h-1zM120 520h1v1h-1zM121 520h1v1h-1zM122 520h1v1h-1zM123 521h1v1h-1zM124 521h1v1h-1zM125 521h1v1h-1zM126 522h1v1h-1zM127 523h1v2h-1zM128 525h1v1h-1zM129 526h1v1h-1zM130 526h1v1h-1zM131 527h1v1h-1zM132 527h1v1h-1zM133 527h1v1h-1zM134 528h1v1h-1zM135 529h1v2h-1zM136 531h1v1h-1zM137 532h1v1h-1zM138 533h1v1h-1zM139 534h1v1h-1zM140 535h1v1h-1zM141 536h1v1h-1zM142 536h1v1h-1zM143 535h1v1h-1zM144 535h1v1h-1zM145 535h1v1h-1zM146 535h1v1h-1zM147 535h1v1h-1zM148 535h1v1h-1zM149 535h1v1h-1zM150 535h1v1h-1zM151 534h1v1h-1zM152 534h1v1h-1zM153 534h1v1h-1zM154 534h1v1h-1zM155 535h1v1h-1zM156 535h1v1h-1zM157 535h1v1h-1zM158 534h1v1h-1zM159 534h1v1h-1zM160 533h1v1h-1zM161 533h1v1h-1zM162 534h1v1h-1zM163 535h1v2h-1zM164 537h1v1h-1zM165 538h1v1h-1zM166 539h1v1h-1zM167 540h1v2h-1zM168 542h1v1h-1zM169 543h1v1h-1zM170 542h1v1h-1zM171 540h1v2h-1zM172 539h1v1h-1zM173 538h1v1h-1zM174 537h1v1h-1zM175 536h1v1h-1zM176 536h1v1h-1zM177 535h1v1h-1zM178 535h1v1h-1zM179 534h1v1h-1zM180 534h1v1h-1zM181 534h1v1h-1zM182 532h1v2h-1zM183 531h1v1h-1zM184 529h1v2h-1zM185 528h1v1h-1zM186 528h1v1h-1zM187 527h1v1h-1zM188 527h1v1h-1zM189 527h1v1h-1zM190 525h1v2h-1zM191 524h1v1h-1zM192 522h1v2h-1zM193 521h1v1h-1zM194 522h1v1h-1zM195 522h1v1h-1zM196 523h1v1h-1zM197 523h1v1h-1zM198 523h1v1h-1zM199 524h1v1h-1zM200 524h1v1h-1zM201 524h1v1h-1zM202 523h1v1h-1zM203 521h1v2h-1zM204 520h1v1h-1zM205 519h1v1h-1zM206 520h1v2h-1zM207 522h1v2h-1zM208 524h1v2h-1zM209 526h1v1h-1zM210 527h1v2h-1zM211 529h1v2h-1zM212 531h1v2h-1zM213 533h1v1h-1zM214 533h1v1h-1zM215 533h1v1h-1zM216 533h1v1h-1zM217 533h1v1h-1zM218 534h1v1h-1zM219 535h1v1h-1zM220 535h1v1h-1zM221 536h1v1h-1zM222 536h1v1h-1zM223 536h1v1h-1zM224 536h1v1h-1zM225 536h1v1h-1zM226 537h1v1h-1zM227 538h1v1h-1zM228 539h1v1h-1zM229 540h1v1h-1zM230 540h1v1h-1zM231 540h1v1h-1zM232 540h1v1h-1zM233 540h1v1h-1zM234 541h1v1h-1zM235 542h1v1h-1zM236 543h1v1h-1zM237 544h1v1h-1zM238 545h1v2h-1zM239 547h1v1h-1zM240 548h1v2h-1zM241 550h1v1h-1zM242 549h1v1h-1zM243 548h1v1h-1zM244 548h1v1h-1zM245 547h1v1h-1zM246 547h1v1h-1zM247 546h1v1h-1zM248 546h1v1h-1zM249 546h1v1h-1zM250 547h1v1h-1zM251 548h1v1h-1zM252 548h1v1h-1zM253 549h1v1h-1zM254 548h1v1h-1zM255 547h1v1h-1zM256 546h1v1h-1zM257 545h1v1h-1zM258 544h1v1h-1zM259 544h1v1h-1zM260 543h1v1h-1zM261 543h1v1h-1zM262 543h1v1h-1zM263 542h1v1h-1zM264 542h1v1h-1zM265 542h1v1h-1zM266 541h1v1h-1zM267 541h1v1h-1zM268 540h1v1h-1zM269 540h1v1h-1zM270 540h1v1h-1zM271 541h1v1h-1zM272 541h1v1h-1zM273 541h1v1h-1zM274 539h1v2h-1zM275 538h1v1h-1zM276 536h1v2h-1zM277 535h1v1h-1zM278 535h1v1h-1zM279 535h1v1h-1zM280 535h1v1h-1zM281 535h1v1h-1zM282 536h1v1h-1zM283 537h1v1h-1zM284 537h1v1h-1zM285 538h1v1h-1zM286 536h1v2h-1zM287 535h1v1h-1zM288 533h1v2h-1zM289 532h1v1h-1zM290 532h1v1h-1zM291 532h1v1h-1zM292 532h1v1h-1zM293 532h1v1h-1zM294 532h1v1h-1zM295 533h1v1h-1zM296 533h1v1h-1zM297 533h1v1h-1zM298 533h1v1h-1zM299 534h1v1h-1zM300 534h1v1h-1zM301 534h1v1h-1zM302 534h1v1h-1zM303 533h1v1h-1zM304 533h1v1h-1zM305 533h1v1h-1zM306 532h1v1h-1zM307 531h1v1h-1zM308 530h1v1h-1zM309 529h1v1h-1zM310 528h1v1h-1zM311 528h1v1h-1zM312 527h1v1h-1zM313 527h1v1h-1zM314 528h1v1h-1zM315 529h1v1h-1zM316 530h1v1h-1zM317 531h1v1h-1zM318 530h1v1h-1zM319 529h1v1h-1zM320 529h1v1h-1zM321 528h1v1h-1zM322 527h1v1h-1zM323 527h1v1h-1zM324 526h1v1h-1zM325 526h1v1h-1zM326 525h1v1h-1zM327 524h1v1h-1zM328 523h1v1h-1zM329 522h1v1h-1zM330 521h1v1h-1zM331 520h1v1h-1zM332 519h1v1h-1zM333 518h1v1h-1zM334 517h1v1h-1zM335 515h1v2h-1zM336 514h1v1h-1zM337 513h1v1h-1zM338 513h1v1h-1zM339 513h1v1h-1zM340 513h1v1h-1zM341 513h1v1h-1zM342 514h1v1h-1zM343 515h1v1h-1zM344 515h1v1h-1zM345 516h1v1h-1zM346 516h1v1h-1zM347 515h1v1h-1zM348 515h1v1h-1zM349 515h1v1h-1zM350 514h1v1h-1zM351 512h1v2h-1zM352 511h1v1h-1zM353 510h1v1h-1zM354 511h1v2h-1zM355 513h1v2h-1zM356 515h1v2h-1zM357 517h1v2h-1zM358 518h1v1h-1zM359 517h1v1h-1zM360 517h1v1h-1zM361 517h1v1h-1zM362 517h1v1h-1zM363 518h1v1h-1zM364 518h1v1h-1zM365 518h1v1h-1zM366 518h1v1h-1zM367 519h1v1h-1zM368 519h1v1h-1zM369 519h1v1h-1zM370 519h1v1h-1zM371 518h1v1h-1zM372 518h1v1h-1zM373 518h1v1h-1zM374 518h1v1h-1zM375 518h1v1h-1zM376 518h1v1h-1zM377 518h1v2h-1zM378 520h1v3h-1zM379 523h1v4h-1zM380 527h1v3h-1zM381 530h1v2h-1zM382 530h1v1h-1zM383 528h1v2h-1zM384 527h1v1h-1zM385 526h1v1h-1zM386 526h1v1h-1zM387 527h1v1h-1zM388 527h1v1h-1zM389 527h1v1h-1zM390 527h1v1h-1zM391 527h1v1h-1zM392 527h1v1h-1zM393 527h1v1h-1zM394 527h1v1h-1zM395 526h1v1h-1zM396 526h1v1h-1zM397 526h1v1h-1zM398 525h1v1h-1zM399 524h1v1h-1zM400 523h1v1h-1zM401 522h1v1h-1zM402 523h1v2h-1zM403 525h1v2h-1zM404 527h1v2h-1zM405 529h1v1h-1zM406 530h1v2h-1zM407 532h1v2h-1zM408 534h1v2h-1zM409 536h1v1h-1zM410 537h1v1h-1zM411 538h1v1h-1zM412 538h1v1h-1zM413 539h1v1h-1zM414 538h1v1h-1zM415 538h1v1h-1zM416 537h1v1h-1zM417 537h1v1h-1zM418 538h1v2h-1zM419 540h1v2h-1zM420 542h1v2h-1zM421 544h1v1h-1zM422 543h1v1h-1zM423 542h1v1h-1zM424 541h1v1h-1zM425 540h1v1h-1zM426 540h1v1h-1zM427 540h1v1h-1zM428 540h1v1h-1zM429 540h1v1h-1zM430 539h1v1h-1zM431 539h1v1h-1zM432 538h1v1h-1zM433 538h1v1h-1zM434 538h1v1h-1zM435 537h1v1h-1zM436 537h1v1h-1zM437 537h1v1h-1zM438 537h1v1h-1zM439 537h1v1h-1zM440 537h1v1h-1zM441 537h1v1h-1zM442 538h1v1h-1zM443 539h1v1h-1zM444 540h1v1h-1zM445 541h1v1h-1zM446 540h1v1h-1zM447 539h1v1h-1zM448 539h1v1h-1zM449 538h1v1h-1zM450 538h1v1h-1zM451 539h1v1h-1zM452 539h1v1h-1zM453 539h1v1h-1zM454 540h1v2h-1zM455 542h1v1h-1zM456 543h1v2h-1zM457 545h1v1h-1zM458 546h1v1h-1zM459 546h1v1h-1zM460 547h1v1h-1zM461 547h1v1h-1zM462 547h1v1h-1zM463 548h1v1h-1zM464 548h1v1h-1zM465 548h1v1h-1zM466 547h1v1h-1zM467 545h1v2h-1zM468 544h1v1h-1zM469 543h1v1h-1zM470 541h1v2h-1zM471 539h1v2h-1zM472 537h1v2h-1zM473 536h1v1h-1zM474 537h1v1h-1zM475 538h1v1h-1zM476 538h1v1h-1zM477 539h1v1h-1zM478 539h1v1h-1zM479 538h1v1h-1zM480 538h1v1h-1zM481 538h1v1h-1zM482 539h1v1h-1zM483 540h1v2h-1zM484 542h1v1h-1zM485 543h1v1h-1zM486 544h1v1h-1zM487 545h1v1h-1zM488 545h1v1h-1zM489 546h1v1h-1zM490 546h1v1h-1zM491 546h1v1h-1zM492 546h1v1h-1zM493 546h1v1h-1zM494 547h1v1h-1zM495 548h1v2h-1zM496 550h1v1h-1zM497 551h1v1h-1zM498 552h1v1h-1zM499 552h1v1h-1zM500 553h1v1h-1zM501 553h1v1h-1zM502 554h1v1h-1zM503 554h1v1h-1zM504 555h1v1h-1zM505 555h1v1h-1zM506 555h1v1h-1zM507 556h1v1h-1zM508 556h1v1h-1zM509 556h1v1h-1zM510 556h1v1h-1zM511 556h1v1h-1zM512 556h1v1h-1zM513 556h1v1h-1zM514 554h1v2h-1zM515 553h1v1h-1zM516 551h1v2h-1zM517 550h1v1h-1zM518 549h1v1h-1zM519 548h1v1h-1zM520 547h1v1h-1zM521 546h1v1h-1zM522 545h1v1h-1zM523 544h1v1h-1zM524 544h1v1h-1zM525 543h1v1h-1zM526 543h1v1h-1zM527 543h1v1h-1zM528 543h1v1h-1zM529 543h1v1h-1zM530 541h1v2h-1zM531 539h1v2h-1zM532 537h1v2h-1zM533 536h1v1h-1zM534 536h1v1h-1zM535 536h1v1h-1zM536 536h1v1h-1zM537 536h1v1h-1zM538 536h1v1h-1zM539 537h1v1h-1zM540 537h1v1h-1zM541 537h1v1h-1zM542 536h1v1h-1zM543 536h1v1h-1zM544 535h1v1h-1zM545 535h1v1h-1zM546 536h1v1h-1zM547 537h1v2h-1zM548 539h1v1h-1zM549 540h1v2h-1zM550 542h1v3h-1zM551 545h1v3h-1zM552 548h1v3h-1zM553 551h1v2h-1zM554 553h1v1h-1zM555 553h1v1h-1zM556 554h1v1h-1zM557 554h1v1h-1zM558 554h1v1h-1zM559 555h1v1h-1zM560 555h1v1h-1zM561 555h1v1h-1zM562 556h1v1h-1zM563 557h1v1h-1zM564 557h1v1h-1zM565 558h1v1h-1zM566 557h1v1h-1zM567 557h1v1h-1zM568 556h1v1h-1zM569 556h1v1h-1zM570 555h1v1h-1zM571 553h1v2h-1zM572 552h1v1h-1zM573 551h1v1h-1zM574 551h1v1h-1zM575 550h1v1h-1zM576 550h1v1h-1zM577 550h1v1h-1zM578 550h1v1h-1zM579 551h1v1h-1zM580 551h1v1h-1zM581 551h1v1h-1zM582 551h1v1h-1zM583 551h1v1h-1zM584 551h1v1h-1zM585 550h1v2h-1zM586 546h1v4h-1zM587 543h1v3h-1zM588 539h1v4h-1zM589 537h1v2h-1zM590 537h1v1h-1zM591 537h1v1h-1zM592 537h1v1h-1zM593 537h1v1h-1zM594 537h1v1h-1zM595 537h1v1h-1zM596 537h1v1h-1zM597 537h1v1h-1zM598 537h1v1h-1zM599 538h1v1h-1zM600 538h1v1h-1zM601 538h1v1h-1zM602 536h1v2h-1zM603 534h1v2h-1zM604 532h1v2h-1zM605 530h1v2h-1zM606 530h1v1h-1zM607 531h1v1h-1zM608 531h1v1h-1zM609 531h1v1h-1zM610 530h1v1h-1zM611 530h1v1h-1zM612 529h1v1h-1zM613 529h1v1h-1zM614 530h1v1h-1zM615 530h1v1h-1zM616 531h1v1h-1zM617 531h1v1h-1zM618 532h1v1h-1zM619 533h1v1h-1zM620 534h1v1h-1zM621 535h1v1h-1zM622 535h1v1h-1zM623 536h1v1h-1zM624 536h1v1h-1zM625 536h1v1h-1zM626 537h1v1h-1zM627 538h1v1h-1zM628 539h1v1h-1zM629 540h1v1h-1zM630 540h1v1h-1zM631 540h1v1h-1zM632 540h1v1h-1zM633 540h1v1h-1zM634 540h1v1h-1zM635 540h1v1h-1zM636 540h1v1h-1zM637 540h1v1h-1zM638 538h1v2h-1zM639 537h1v1h-1zM640 535h1v2h-1zM641 534h1v1h-1zM642 535h1v1h-1zM643 536h1v1h-1zM644 536h1v1h-1zM645 537h1v1h-1zM646 537h1v1h-1zM647 538h1v1h-1zM648 538h1v1h-1zM649 538h1v1h-1zM650 539h1v1h-1zM651 540h1v1h-1zM652 541h1v1h-1zM653 542h1v1h-1zM654 542h1v1h-1zM655 541h1v1h-1zM656 541h1v1h-1zM657 541h1v1h-1zM658 542h1v1h-1zM659 542h1v1h-1zM660 543h1v1h-1zM661 543h1v1h-1zM662 541h1v2h-1zM663 540h1v1h-1zM664 538h1v2h-1zM665 537h1v1h-1zM666 537h1v1h-1zM667 537h1v1h-1zM668 537h1v1h-1zM669 537h1v1h-1zM670 535h1v2h-1zM671 534h1v1h-1zM672 532h1v2h-1zM673 531h1v1h-1zM674 530h1v1h-1zM675 529h1v1h-1zM676 528h1v1h-1zM677 527h1v1h-1zM678 527h1v1h-1zM679 527h1v1h-1zM680 527h1v1h-1zM681 527h1v1h-1zM682 528h1v1h-1zM683 529h1v1h-1zM684 530h1v1h-1zM685 531h1v1h-1zM686 531h1v1h-1zM687 532h1v1h-1zM688 532h1v1h-1zM689 532h1v1h-1zM690 532h1v1h-1zM691 533h1v1h-1zM692 533h1v1h-1zM693 533h1v1h-1zM694 532h1v1h-1zM695 530h1v2h-1zM696 529h1v1h-1zM697 528h1v2h-1zM698 530h1v4h-1zM699 534h1v3h-1zM700 537h1v4h-1zM701 541h1v2h-1zM702 542h1v1h-1zM703 542h1v1h-1zM704 542h1v1h-1zM705 542h1v1h-1zM706 543h1v2h-1zM707 545h1v2h-1zM708 547h1v2h-1zM709 549h1v2h-1zM710 548h1v2h-1zM711 546h1v2h-1zM712 544h1v2h-1zM713 543h1v1h-1zM714 544h1v1h-1zM715 545h1v1h-1zM716 546h1v1h-1zM717 547h1v1h-1zM718 546h1v1h-1zM719 545h1v1h-1zM720 544h1v1h-1zM721 543h1v1h-1zM722 544h1v1h-1zM723 545h1v1h-1zM724 545h1v1h-1zM725 546h1v1h-1zM726 545h1v1h-1zM727 545h1v1h-1zM728 544h1v1h-1zM729 544h1v1h-1zM730 545h1v1h-1zM731 545h1v1h-1zM732 546h1v1h-1zM733 546h1v1h-1zM734 545h1v1h-1zM735 543h1v2h-1zM736 542h1v1h-1zM737 541h1v1h-1zM738 541h1v1h-1zM739 542h1v1h-1zM740 542h1v1h-1zM741 542h1v1h-1zM742 541h1v1h-1zM743 540h1v1h-1zM744 540h1v1h-1zM745 539h1v1h-1zM746 538h1v1h-1zM747 537h1v1h-1zM748 537h1v1h-1zM749 536h1v1h-1zM750 536h1v1h-1zM751 537h1v1h-1zM752 537h1v1h-1zM753 537h1v1h-1zM754 536h1v1h-1zM755 536h1v1h-1zM756 535h1v1h-1zM757 535h1v1h-1zM758 535h1v1h-1zM759 536h1v1h-1zM760 536h1v1h-1zM761 536h1v1h-1zM762 535h1v1h-1zM763 535h1v1h-1zM764 534h1v1h-1zM765 534h1v1h-1zM766 533h1v1h-1zM767 533h1v1h-1zM768 532h1v1h-1zM769 532h1v2h-1zM770 534h1v2h-1zM771 536h1v2h-1zM772 538h1v2h-1zM773 540h1v2h-1zM774 541h1v1h-1zM775 541h1v1h-1zM776 541h1v1h-1zM777 541h1v1h-1zM778 540h1v1h-1zM779 539h1v1h-1zM780 538h1v1h-1zM781 537h1v1h-1zM782 536h1v1h-1zM783 535h1v1h-1zM784 535h1v1h-1zM785 534h1v1h-1zM786 534h1v1h-1zM787 535h1v1h-1zM788 535h1v1h-1zM789 535h1v1h-1zM790 534h1v1h-1zM791 532h1v2h-1zM792 531h1v1h-1zM793 530h1v1h-1zM794 529h1v1h-1zM795 528h1v1h-1zM796 528h1v1h-1zM797 527h1v1h-1zM798 527h1v1h-1zM799 526h1v1h-1zM800 526h1v1h-1zM801 526h1v1h-1zM802 526h1v1h-1zM803 526h1v1h-1zM804 526h1v1h-1zM805 526h1v1h-1zM806 527h1v1h-1zM807 528h1v2h-1zM808 530h1v1h-1zM809 531h1v1h-1zM810 532h1v1h-1zM811 533h1v2h-1zM812 535h1v1h-1zM813 536h1v1h-1zM814 535h1v1h-1zM815 533h1v2h-1zM816 532h1v1h-1zM817 531h1v1h-1zM818 531h1v1h-1zM819 532h1v1h-1zM820 532h1v1h-1zM821 532h1v1h-1zM822 532h1v1h-1zM823 531h1v1h-1zM824 531h1v1h-1zM825 531h1v1h-1zM826 530h1v1h-1zM827 529h1v1h-1zM828 529h1v1h-1zM829 528h1v1h-1zM830 528h1v1h-1zM831 528h1v1h-1zM832 528h1v1h-1zM833 528h1v1h-1zM834 527h1v1h-1zM835 527h1v1h-1zM836 526h1v1h-1zM837 526h1v1h-1zM838 527h1v1h-1zM839 528h1v2h-1zM840 530h1v1h-1zM841 531h1v1h-1zM842 531h1v1h-1zM843 531h1v1h-1zM844 531h1v1h-1zM845 531h1v1h-1zM846 530h1v1h-1zM847 530h1v1h-1zM848 529h1v1h-1zM849 529h1v1h-1zM850 529h1v1h-1zM851 528h1v1h-1zM852 528h1v1h-1zM853 528h1v1h-1zM854 528h1v1h-1zM855 528h1v1h-1zM856 528h1v1h-1zM857 528h1v1h-1zM858 527h1v1h-1zM859 526h1v1h-1zM860 526h1v1h-1zM861 525h1v1h-1zM862 526h1v1h-1zM863 527h1v1h-1zM864 528h1v1h-1zM865 529h1v1h-1zM866 529h1v1h-1zM867 529h1v1h-1zM868 529h1v1h-1zM869 529h1v1h-1zM870 530h1v1h-1zM871 530h1v1h-1zM872 531h1v1h-1zM873 531h1v1h-1zM874 532h1v1h-1zM875 533h1v1h-1zM876 533h1v1h-1zM877 534h1v1h-1zM878 535h1v1h-1zM879 536h1v1h-1zM880 536h1v1h-1zM881 537h1v1h-1zM882 536h1v1h-1zM883 534h1v2h-1zM884 533h1v1h-1zM885 532h1v1h-1zM886 531h1v1h-1zM887 531h1v1h-1zM888 530h1v1h-1zM889 530h1v1h-1zM890 530h1v1h-1zM891 531h1v1h-1zM892 531h1v1h-1zM893 531h1v1h-1zM894 532h1v1h-1zM895 533h1v1h-1zM896 533h1v1h-1zM897 533h1v2h-1zM898 531h1v2h-1zM899 529h1v2h-1zM900 527h1v2h-1zM901 525h1v2h-1zM902 526h1v2h-1zM903 528h1v1h-1zM904 529h1v2h-1zM905 531h1v1h-1zM906 530h1v1h-1zM907 529h1v1h-1zM908 528h1v1h-1zM909 527h1v1h-1zM910 527h1v1h-1zM911 527h1v1h-1zM912 527h1v1h-1zM913 527h1v1h-1zM914 528h1v1h-1zM915 529h1v1h-1zM916 529h1v1h-1zM917 530h1v1h-1zM918 530h1v1h-1zM919 531h1v1h-1zM920 531h1v1h-1zM921 531h1v1h-1zM922 532h1v1h-1zM923 532h1v1h-1zM924 533h1v1h-1zM925 533h1v1h-1z" fill="#1e90ff"/>
</g>
<g text-rendering="geometricPrecision">
<rect x="1168" y="55" width="2" height="1" fill="#000" />
<text x="1172.6" y="59" font-size="10.0" fill="#000" textLength="33.62" lengthAdjust="spacingAndGlyphs"  stroke="0.9300998573466516" stroke-width="0.35">1.02200</text>
<rect x="1168" y="88" width="2" height="1" fill="#000" />
<text x="1172.6" y="92" font-size="10.0" fill="#000" textLength="33.67" lengthAdjust="spacingAndGlyphs"  stroke="0.9314285714285754" stroke-width="0.35">1.01675</text>
<rect x="1168" y="121" width="2" height="1" fill="#000" />
<text x="1172.59" y="125" font-size="10.0" fill="#000" textLength="33.65" lengthAdjust="spacingAndGlyphs"  stroke="0.9504373177842607" stroke-width="0.35">1.01150</text>
<rect x="1168" y="154" width="2" height="1" fill="#000" />
<text x="1172.6" y="158" font-size="10.0" fill="#000" textLength="33.67" lengthAdjust="spacingAndGlyphs"  stroke="0.9314285714285754" stroke-width="0.35">1.00625</text>
<rect x="1168" y="187" width="2" height="1" fill="#000" />
<text x="1172.59" y="191" font-size="10.0" fill="#000" textLength="33.7" lengthAdjust="spacingAndGlyphs"  stroke="0.9518248175182522" stroke-width="0.35">1.00115</text>
<rect x="1168" y="220" width="2" height="1" fill="#000" />
<text x="1172.93" y="224" font-size="10.0" fill="#000" textLength="33.29" lengthAdjust="spacingAndGlyphs"  stroke="0.9209039548022637" stroke-width="0.35">0.99590</text>
<rect x="1168" y="253" width="2" height="1" fill="#000" />
<text x="1172.93" y="257" font-size="10.0" fill="#000" textLength="33.29" lengthAdjust="spacingAndGlyphs"  stroke="0.9209039548022637" stroke-width="0.35">0.99080</text>
<rect x="1168" y="286" width="2" height="1" fill="#000" />
<text x="1172.93" y="290" font-size="10.0" fill="#000" textLength="33.34" lengthAdjust="spacingAndGlyphs"  stroke="0.9222065063649261" stroke-width="0.35">0.98555</text>
<rect x="1168" y="319" width="2" height="1" fill="#000" />
<text x="1172.93" y="323" font-size="10.0" fill="#000" textLength="33.29" lengthAdjust="spacingAndGlyphs"  stroke="0.9209039548022637" stroke-width="0.35">0.98030</text>
<rect x="1168" y="352" width="2" height="1" fill="#000" />
<text x="1172.93" y="356" font-size="10.0" fill="#000" textLength="33.29" lengthAdjust="spacingAndGlyphs"  stroke="0.9209039548022637" stroke-width="0.35">0.97520</text>
<rect x="1168" y="385" width="2" height="1" fill="#000" />
<text x="1172.93" y="389" font-size="10.0" fill="#000" textLength="33.34" lengthAdjust="spacingAndGlyphs"  stroke="0.9222065063649261" stroke-width="0.35">0.96995</text>
<rect x="1168" y="418" width="2" height="1" fill="#000" />
<text x="1172.93" y="422" font-size="10.0" fill="#000" textLength="33.34" lengthAdjust="spacingAndGlyphs"  stroke="0.9222065063649261" stroke-width="0.35">0.96485</text>
<rect x="1169" y="229" width="41" height="11" fill="#000000" />
<text x="1172.93" y="238" font-size="10.0" fill="#fff" textLength="33.34" lengthAdjust="spacingAndGlyphs"  stroke="0.9222065063649261" stroke-width="0.35">0.99383</text>
<rect x="1169" y="73" width="41" height="11" fill="#ff0000" />
<text x="1172.6" y="82" font-size="10.0" fill="#fff" textLength="33.77" lengthAdjust="spacingAndGlyphs"  stroke="0.9340974212034423" stroke-width="0.35">1.01812</text>
<rect x="1169" y="150" width="41" height="11" fill="#ff0000" />
<text x="1172.6" y="159" font-size="10.0" fill="#fff" textLength="33.77" lengthAdjust="spacingAndGlyphs"  stroke="0.9340974212034423" stroke-width="0.35">1.00602</text>
<rect x="1169" y="220" width="41" height="11" fill="#00ff00" />
<text x="1172.93" y="229" font-size="10.0" fill="#fff" textLength="33.34" lengthAdjust="spacingAndGlyphs"  stroke="0.9222065063649261" stroke-width="0.35">0.99503</text>
<rect x="1169" y="315" width="41" height="11" fill="#0000ff" />
<text x="1172.92" y="324" font-size="10.0" fill="#fff" textLength="33.41" lengthAdjust="spacingAndGlyphs"  stroke="0.9435600578871242" stroke-width="0.35">0.98011</text>
<rect x="1169" y="379" width="41" height="11" fill="#0000ff" />
<text x="1172.93" y="388" font-size="10.0" fill="#fff" textLength="33.34" lengthAdjust="spacingAndGlyphs"  stroke="0.9222065063649261" stroke-width="0.35">0.97005</text>
<rect x="1168" y="424" width="2" height="1" fill="#000" />
<text x="1170.63" y="434" font-size="10.0" fill="#000" textLength="38.55" lengthAdjust="spacingAndGlyphs"  stroke="0.9242053789731041" stroke-width="0.35">0.005986</text>
<rect x="1168" y="453" width="2" height="1" fill="#000" />
<text x="1170.63" y="457" font-size="10.0" fill="#000" textLength="18.01" lengthAdjust="spacingAndGlyphs"  stroke="0.9251336898395698" stroke-width="0.35">0.00</text>
<rect x="1168" y="490" width="2" height="1" fill="#000" />
<text x="1170.57" y="488" font-size="10.0" fill="#000" textLength="43.41" lengthAdjust="spacingAndGlyphs"  stroke="0.9637188208616779" stroke-width="0.35">-0.007737</text>
<rect x="1168" y="495" width="2" height="1" fill="#000" />
<text x="1170.84" y="504" font-size="10.0" fill="#000" textLength="14.7" lengthAdjust="spacingAndGlyphs"  stroke="0.8810289389067554" stroke-width="0.35">100</text>
<text x="1169.83" y="523" font-size="10.0" fill="#000" textLength="10.42" lengthAdjust="spacingAndGlyphs"  stroke="0.9365853658536718" stroke-width="0.35">70</text>
<text x="1169.93" y="556" font-size="10.0" fill="#000" textLength="10.42" lengthAdjust="spacingAndGlyphs"  stroke="0.9371980676328546" stroke-width="0.35">30</text>
<rect x="1168" y="576" width="2" height="1" fill="#000" />
<text x="1170.78" y="574" font-size="10.0" fill="#000" textLength="5.79" lengthAdjust="spacingAndGlyphs"  stroke="1.0416666666666665" stroke-width="0.35">0</text>
<rect x="5" y="578" width="1" height="3" fill="#000" />
<text x="3.7" y="590" font-size="10.14" fill="#000" textLength="50.63" lengthAdjust="spacingAndGlyphs"  stroke="0.9188861985472155" stroke-width="0.35">11 Jan 2019</text>
<rect x="69" y="578" width="1" height="3" fill="#000" />
<text x="68.03" y="590" font-size="10.14" fill="#000" textLength="51.32" lengthAdjust="spacingAndGlyphs"  stroke="0.9188861985472155" stroke-width="0.35">30 Jan 2019</text>
<rect x="133" y="578" width="1" height="3" fill="#000" />
<text x="131.7" y="590" font-size="10.14" fill="#000" textLength="52.35" lengthAdjust="spacingAndGlyphs"  stroke="0.9188861985472158" stroke-width="0.35">18 Feb 2019</text>
<rect x="197" y="578" width="1" height="3" fill="#000" />
<text x="195.98" y="590" font-size="10.14" fill="#000" textLength="47.16" lengthAdjust="spacingAndGlyphs"  stroke="0.9188861985472156" stroke-width="0.35">8 Mar 2019</text>
<rect x="261" y="578" width="1" height="3" fill="#000" />
<text x="259.93" y="590" font-size="10.14" fill="#000" textLength="52.34" lengthAdjust="spacingAndGlyphs"  stroke="0.9188861985472159" stroke-width="0.35">27 Mar 2019</text>
<rect x="325" y="578" width="1" height="3" fill="#000" />
<text x="323.7" y="590" font-size="10.14" fill="#000" textLength="50.28" lengthAdjust="spacingAndGlyphs"  stroke="0.9188861985472152" stroke-width="0.35">15 Apr 2019</text>
<rect x="389" y="578" width="1" height="3" fill="#000" />
<text x="388.03" y="590" font-size="10.14" fill="#000" textLength="48.71" lengthAdjust="spacingAndGlyphs"  stroke="0.9188861985472155" stroke-width="0.35">3 May 2019</text>
<rect x="453" y="578" width="1" height="3" fill="#000" />
<text x="451.93" y="590" font-size="10.14" fill="#000" textLength="53.9" lengthAdjust="spacingAndGlyphs"  stroke="0.9188861985472154" stroke-width="0.35">22 May 2019</text>
<rect x="517" y="578" width="1" height="3" fill="#000" />
<text x="515.7" y="590" font-size="10.14" fill="#000" textLength="51.32" lengthAdjust="spacingAndGlyphs"  stroke="0.9188861985472153" stroke-width="0.35">10 Jun 2019</text>
<rect x="581" y="578" width="1" height="3" fill="#000" />
<text x="579.93" y="590" font-size="10.14" fill="#000" textLength="51.32" lengthAdjust="spacingAndGlyphs"  stroke="0.9188861985472159" stroke-width="0.35">28 Jun 2019</text>
<rect x="645" y="578" width="1" height="3" fill="#000" />
<text x="643.7" y="590" font-size="10.14" fill="#000" textLength="48.2" lengthAdjust="spacingAndGlyphs"  stroke="0.9188861985472146" stroke-width="0.35">17 Jul 2019</text>
<rect x="709" y="578" width="1" height="3" fill="#000" />
<text x="708.03" y="590" font-size="10.14" fill="#000" textLength="47.18" lengthAdjust="spacingAndGlyphs"  stroke="0.9188861985472149" stroke-width="0.35">5 Aug 2019</text>
<rect x="773" y="578" width="1" height="3" fill="#000" />
<text x="771.93" y="590" font-size="10.14" fill="#000" textLength="52.36" lengthAdjust="spacingAndGlyphs"  stroke="0.9188861985472149" stroke-width="0.35">23 Aug 2019</text>
<rect x="837" y="578" width="1" height="3" fill="#000" />
<text x="835.7" y="590" font-size="10.14" fill="#000" textLength="52.18" lengthAdjust="spacingAndGlyphs"  stroke="0.9188861985472152" stroke-width="0.35">11 Sep 2019</text>
<rect x="901" y="578" width="1" height="3" fill="#000" />
<text x="900.03" y="590" font-size="10.14" fill="#000" textLength="52.87" lengthAdjust="spacingAndGlyphs"  stroke="0.9188861985472161" stroke-width="0.35">30 Sep 2019</text>
<path d="M11 31h1v1h1v1h1v1h1v1h-7v-1h1v-1h1v-1h1z" fill="#000" shape-rendering="crispEdges"/>
<text x="19.65" y="36" font-size="10.14" fill="#000" textLength="65.16" lengthAdjust="spacingAndGlyphs"  stroke="0.9796296296296297" stroke-width="0.35">USDCHF,Daily</text>
<text x="90.73" y="36" font-size="10.0" fill="#000" textLength="140.96" lengthAdjust="spacingAndGlyphs"  stroke="0.9217619986850756" stroke-width="0.35">0.99441 0.99450 0.99383 0.99383</text>
<text x="8.85" y="436" font-size="10.14" fill="#000" textLength="148.32" lengthAdjust="spacingAndGlyphs"  stroke="0.9227163297751534" stroke-width="0.35">MACD(12,26,9) 0.002128 0.002108</text>
<text x="8.86" y="506" font-size="10.14" fill="#000" textLength="67.93" lengthAdjust="spacingAndGlyphs"  stroke="0.9125210667195399" stroke-width="0.35">RSI(14) 53.5262</text>
<rect x="0" y="598" width="1212" height="2" fill="#f0f0f0" />
<rect x="0" y="600" width="1212" height="1" fill="#000000" />
<rect x="0" y="601" width="1212" height="19" fill="#f0f0f0" />
<rect x="0" y="620" width="1212" height="1" fill="#fafafa" />
<rect x="0" y="623" width="1212" height="2" fill="#a0a0a0" />
<rect x="0" y="601" width="1" height="21" fill="#a0a0a0" />
<rect x="1" y="601" width="1" height="21" fill="#696969" />
<rect x="214" y="601" width="100" height="17" fill="#ffffff" />
<rect x="214" y="601" width="1" height="18" fill="#000" />
<rect x="313" y="601" width="1" height="18" fill="#000" />
<rect x="214" y="618" width="100" height="1" fill="#000" />
<text x="17.64" y="615" font-size="13.04" fill="#707070" textLength="80.34" lengthAdjust="spacingAndGlyphs"  stroke="0.9160772510659644" stroke-width="0.35">EURUSD,Daily</text>
<rect x="110" y="603" width="1" height="14" fill="#646464" />
<text x="121.0" y="615" font-size="13.04" fill="#707070" textLength="81.98" lengthAdjust="spacingAndGlyphs"  stroke="0.9348203221809169" stroke-width="0.35">AUDUSD,Daily</text>
<text x="223.5" y="615" font-size="13.04" fill="#101030" textLength="79.02" lengthAdjust="spacingAndGlyphs"  stroke="0.9240226337448559" stroke-width="0.35">USDCHF,Daily</text>
<text x="324.39" y="615" font-size="13.04" fill="#707070" textLength="81.49" lengthAdjust="spacingAndGlyphs"  stroke="0.9292230576441098" stroke-width="0.35">USDCAD,Daily</text>
<rect x="418" y="603" width="1" height="14" fill="#646464" />
<text x="427.78" y="615" font-size="13.04" fill="#707070" textLength="83.1" lengthAdjust="spacingAndGlyphs"  stroke="0.9398956002982847" stroke-width="0.35">USDCNH,Daily</text>
<rect x="522" y="603" width="1" height="14" fill="#646464" />
<text x="533.2" y="615" font-size="13.04" fill="#707070" textLength="68.75" lengthAdjust="spacingAndGlyphs"  stroke="0.9208112874779544" stroke-width="0.35">XAUUSD,H4</text>
<rect x="614" y="603" width="1" height="14" fill="#646464" />
<text x="623.62" y="615" font-size="13.04" fill="#707070" textLength="47.66" lengthAdjust="spacingAndGlyphs"  stroke="0.9390652557319213" stroke-width="0.35">DJ30,H4</text>
<rect x="682" y="603" width="1" height="14" fill="#646464" />
<text x="693.37" y="615" font-size="13.04" fill="#707070" textLength="60.89" lengthAdjust="spacingAndGlyphs"  stroke="0.9547169811320769" stroke-width="0.35">USDOil,H1</text>
<rect x="766" y="603" width="1" height="14" fill="#646464" />
<text x="775.81" y="615" font-size="13.04" fill="#707070" textLength="66.85" lengthAdjust="spacingAndGlyphs"  stroke="0.9132969034608375" stroke-width="0.35">USDCHF,H1</text>
<rect x="854" y="603" width="1" height="14" fill="#646464" />
<text x="865.81" y="615" font-size="13.04" fill="#707070" textLength="67.91" lengthAdjust="spacingAndGlyphs"  stroke="0.900850190559954" stroke-width="0.35">GBPUSD,H1</text>
<rect x="946" y="603" width="1" height="14" fill="#646464" />
<text x="957.25" y="615" font-size="13.04" fill="#707070" textLength="68.78" lengthAdjust="spacingAndGlyphs"  stroke="0.9124078986147944" stroke-width="0.35">EURUSD,H1</text>
<rect x="1038" y="603" width="1" height="14" fill="#646464" />
<text x="1048.69" y="615" font-size="13.04" fill="#707070" textLength="69.05" lengthAdjust="spacingAndGlyphs"  stroke="0.9279263220439703" stroke-width="0.35">GBPAUD,H1</text>
<rect x="1130" y="603" width="1" height="14" fill="#646464" />
<text x="1139.54" y="615" font-size="13.04" fill="#707070" textLength="37.68" lengthAdjust="spacingAndGlyphs"  stroke="0.8810582010581965" stroke-width="0.35">USDJP</text>
<path d="M1186 606.5 L1182.5 609.5 L1186 612.5 Z" fill="#a8a8a8"/>
<path d="M1202 606 L1205.5 609.5 L1202 613 Z" fill="#000"/>
<rect x="0" y="11" width="1" height="1" fill="#505050" />
</g>
<defs>
<linearGradient id="gred" gradientUnits="userSpaceOnUse" x1="0" y1="44" x2="0" y2="108"><stop offset="0" stop-color="#f55252"/><stop offset="0.35" stop-color="#dc2d2d"/><stop offset="1" stop-color="#ad0000"/></linearGradient>
<linearGradient id="gbtn" x1="0" y1="0" x2="0" y2="1"><stop offset="0" stop-color="#f4f4f4"/><stop offset="0.33" stop-color="#ededed"/><stop offset="0.34" stop-color="#dedede"/><stop offset="1" stop-color="#d6d6d6"/></linearGradient>
</defs>
<rect x="7" y="43" width="222" height="66" fill="#ffffff" />
<path d="M8.5 44.5 H59.5 V68.5 H116.5 V107.5 H8.5 Z" fill="url(#gred)" stroke="#c00000" stroke-width="1" shape-rendering="crispEdges"/>
<path d="M175.5 44.5 H226.5 V107.5 H119.5 V68.5 H175.5 Z" fill="url(#gred)" stroke="#c00000" stroke-width="1" shape-rendering="crispEdges"/>
<rect x="12" y="67" width="44" height="1" fill="#8c0000" />
<rect x="12" y="68" width="44" height="1" fill="#ff6e6e" />
<rect x="179" y="67" width="44" height="1" fill="#8c0000" />
<rect x="179" y="68" width="44" height="1" fill="#ff6e6e" />
<rect x="62.5" y="44.5" width="110" height="21" fill="#fff" stroke="#a8a8b0" stroke-width="1" shape-rendering="crispEdges"/>
<rect x="64" y="46" width="19" height="18" fill="url(#gbtn)"/>
<rect x="83" y="45" width="1" height="20" fill="#a8a8b0" />
<rect x="151" y="45" width="1" height="20" fill="#a8a8b0" />
<rect x="152" y="46" width="19" height="18" fill="url(#gbtn)"/>
<path d="M69.5 53 L75.5 53 L72.5 56 Z" fill="#5566c4"/>
<path d="M158.5 56 L164.5 56 L161.5 53 Z" fill="#5566c4"/>
<g text-rendering="geometricPrecision">
<text x="124.2" y="59" font-size="12.86" fill="#000" textLength="24.15" lengthAdjust="spacingAndGlyphs"  stroke="0.9649435531788475" stroke-width="0.35">5.00</text>
<text x="19.81" y="60" font-size="13.04" fill="#fff4f4" textLength="26.53" lengthAdjust="spacingAndGlyphs" >SELL</text>
<text x="187.78" y="60" font-size="13.04" fill="#fff4f4" textLength="23.67" lengthAdjust="spacingAndGlyphs" >BUY</text>
<text x="27.71" y="99" font-size="12.86" fill="#fff" textLength="24.04" lengthAdjust="spacingAndGlyphs" font-weight="bold"  stroke="0.9607843137254902" stroke-width="0.35">0.99</text>
<text x="55.09" y="99.7" font-size="35.43" fill="#fff" textLength="36.5" lengthAdjust="spacingAndGlyphs"  stroke="0.926244910742249" stroke-width="0.9">38</text>
<text x="95.3" y="83" font-size="12.86" fill="#fff" textLength="6.63" lengthAdjust="spacingAndGlyphs" font-weight="bold"  stroke="0.9270482603815945" stroke-width="0.35">3</text>
<text x="137.49" y="99" font-size="12.86" fill="#fff" textLength="24.98" lengthAdjust="spacingAndGlyphs" font-weight="bold"  stroke="0.9982174688057042" stroke-width="0.35">0.99</text>
<text x="165.12" y="99.7" font-size="35.43" fill="#fff" textLength="38.06" lengthAdjust="spacingAndGlyphs"  stroke="0.9658309127044795" stroke-width="0.9">40</text>
<text x="205.58" y="83" font-size="12.86" fill="#fff" textLength="7.87" lengthAdjust="spacingAndGlyphs" font-weight="bold"  stroke="1.099887766554433" stroke-width="0.35">8</text>
</g></svg><div style="position:absolute;left:0;top:0;width:200px;height:18px;will-change:transform"><svg width="200" height="18" viewBox="0 0 200 18" style="display:block;font-family:'Liberation Sans', sans-serif" text-rendering="geometricPrecision"><text x="1.32" y="12" font-size="10.14" fill="#3a3a3a" textLength="5.27" lengthAdjust="spacingAndGlyphs" >5</text>
<text x="16.14" y="12" font-size="10.14" fill="#3a3a3a" textLength="18.5" lengthAdjust="spacingAndGlyphs" >M30</text>
<text x="47.13" y="12" font-size="10.14" fill="#3a3a3a" textLength="12.34" lengthAdjust="spacingAndGlyphs" >H1</text>
<text x="74.08" y="12" font-size="10.14" fill="#3a3a3a" textLength="13.17" lengthAdjust="spacingAndGlyphs" >H4</text>
<text x="103.14" y="12" font-size="10.14" fill="#3a3a3a" textLength="12.12" lengthAdjust="spacingAndGlyphs" >D1</text>
<text x="130.85" y="12" font-size="10.14" fill="#3a3a3a" textLength="14.59" lengthAdjust="spacingAndGlyphs" >W1</text>
<text x="157.09" y="12" font-size="10.14" fill="#3a3a3a" textLength="15.72" lengthAdjust="spacingAndGlyphs" >MN</text></svg></div></body></html>
